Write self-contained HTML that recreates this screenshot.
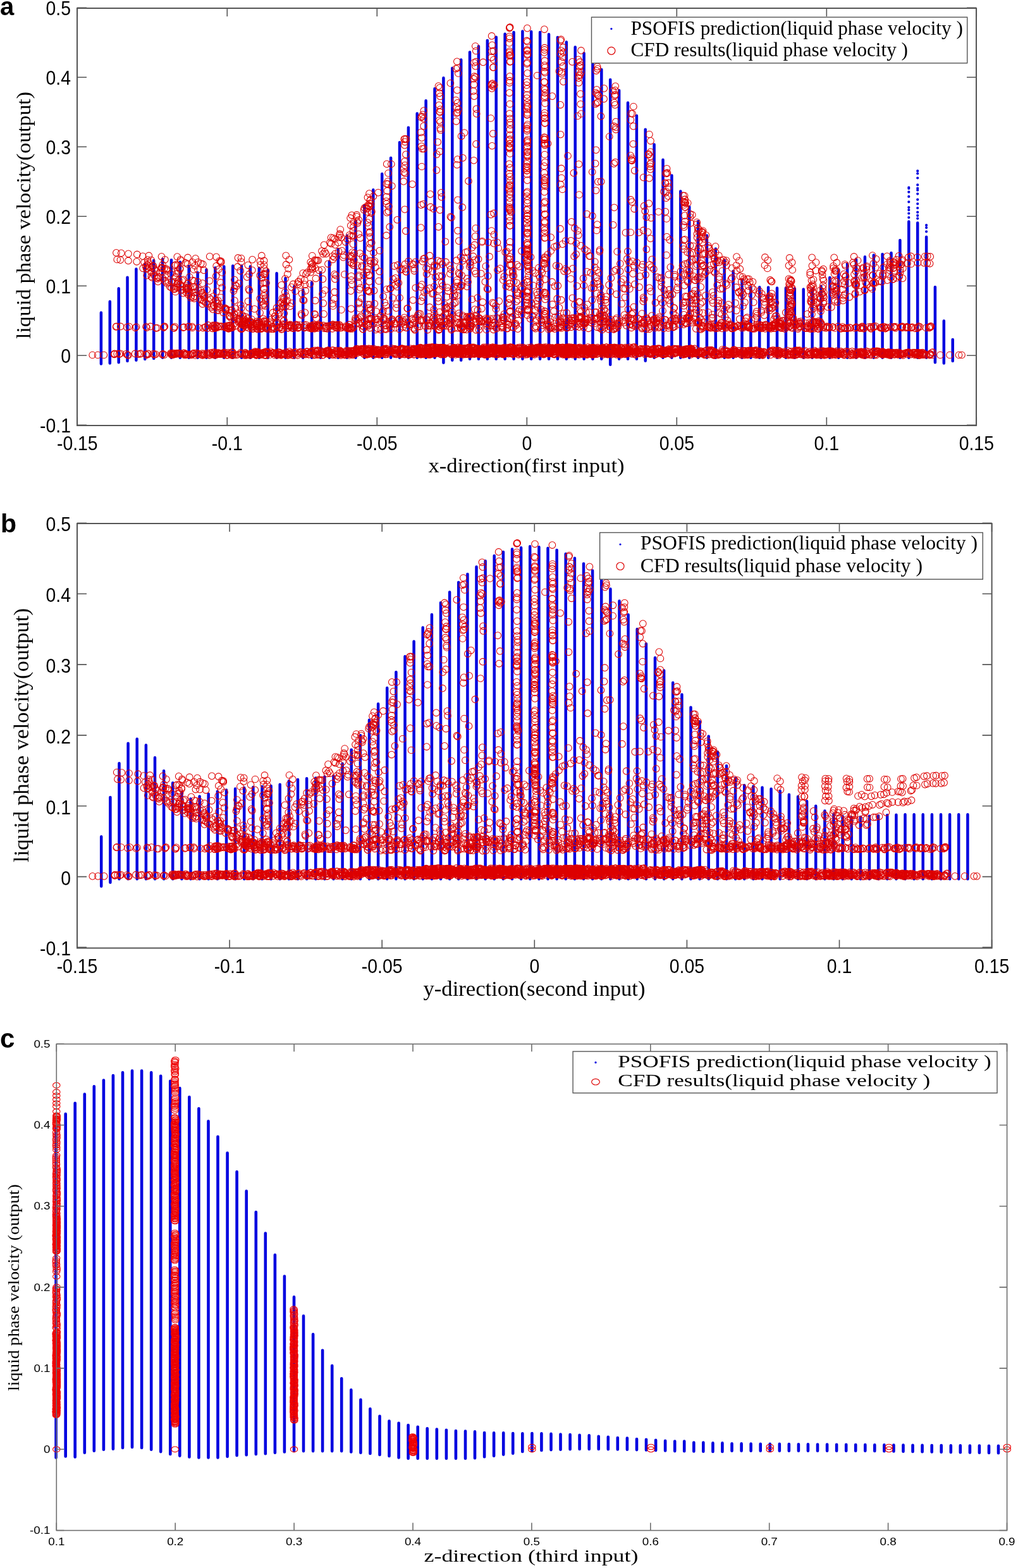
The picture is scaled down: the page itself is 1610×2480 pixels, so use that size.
<!DOCTYPE html>
<html><head><meta charset="utf-8"><title>PSOFIS vs CFD</title><style>html,body{margin:0;padding:0;background:#fff;}svg{display:block;}</style></head><body>
<svg xmlns="http://www.w3.org/2000/svg" width="1610" height="2480" viewBox="0 0 1610 2480">
<rect width="1610" height="2480" fill="#fff"/>
<path d="M159.9 494.4V575.5M173.8 477.1V574.4M187.7 456.2V573.2M201.5 438.8V570.9M215.4 425.6V569.8M229.3 417.2V567.9M243.2 411.9V567M257.1 410.1V565.8M271 411.2V565.8M284.8 414.4V565.8M298.7 421.1V565.8M312.6 431.2V565.8M326.5 426.6V565.8M340.4 423.6V565.8M354.3 421.6V565.8M368.2 420.6V565.8M382 420.6V565.8M395.9 421.6V565.8M409.8 423.9V565.8M423.7 427.1V565.8M437.6 432.2V565.8M451.5 440.1V565.8M465.4 452.8V565.8M479.2 458.2V565.8M493.1 446.6V565.8M507 430.9V565.8M520.9 413.6V565.8M534.8 394.4V565.8M548.7 372.8V565.8M562.5 349.4V565.8M576.4 324.9V565.8M590.3 300.2V565.8M604.2 275.1V565.8M618.1 249.8V565.8M632 225.2V565.8M645.9 201.8V565.8M659.7 179.6V565.8M673.6 159.2V565.8M687.5 140.2V565.8M701.4 123.2V573.8M715.3 107.7V569.8M729.2 94.5V569.8M743 82.5V567.8M756.9 73.2V567.8M770.8 64V567.8M784.7 58.8V567.8M798.6 53.8V567.8M812.5 51V567.8M826.4 49.5V567.8M840.2 49.9V567.8M854.1 51V567.8M868 54.2V567.8M881.9 59.1V567.8M895.8 66.5V567.8M909.7 74.5V567.8M923.6 84.2V567.8M937.4 94.2V567.8M951.3 110V567.8M965.2 126V576.8M979.1 142.9V567.8M993 162.6V567.8M1006.9 182.9V567.8M1020.7 204.7V570.8M1034.6 228.6V565.8M1048.5 252.8V565.8M1062.4 277.4V565.8M1076.3 302.4V565.8M1090.2 326.9V565.8M1104.1 349.9V565.8M1117.9 372.6V565.8M1131.8 393.6V565.8M1145.7 411.9V565.8M1159.6 428.9V565.8M1173.5 443.1V565.8M1187.4 454.6V565.8M1201.2 454.2V565.8M1215.1 454.6V565.8M1229 455.6V565.8M1242.9 455.6V565.8M1256.8 456.6V565.8M1270.7 457.6V565.8M1284.6 457.6V565.8M1298.4 452.8V565.8M1312.3 439.1V565.8M1326.2 426.6V565.8M1340.1 416.9V565.8M1354 410.6V565.8M1367.9 406.2V565.8M1381.8 403.4V565.8M1395.6 402.1V565.8M1409.5 400.1V565.8M1423.4 379.9V565.8M1437.3 350.4V565.8M1451.2 352.4V565.8M1465.1 374.8V565.8M1478.9 454.1V573.2M1492.8 507.4V574.4M1506.7 537V570.9" stroke="#0000e0" stroke-width="4.5" stroke-linecap="round" fill="none"/>
<path d="M160.2 1323.2V1401.7M174.4 1261V1395.8M188.5 1207.2V1390.2M202.6 1175.7V1390.2M216.7 1168.7V1390.2M230.9 1178.5V1390.2M245 1198.3V1390.2M259.1 1219.2V1390.2M273.2 1238.2V1390.2M287.4 1252.8V1390.2M301.5 1263.5V1390.2M315.6 1259.5V1390.2M329.7 1255.7V1390.2M343.9 1251.8V1390.2M358 1249.5V1390.2M372.1 1247.5V1390.2M386.2 1246V1390.2M400.4 1245V1390.2M414.5 1244V1390.2M428.6 1243V1390.2M442.7 1240.7V1390.2M456.9 1235.2V1390.2M471 1233V1390.2M485.1 1231.3V1390.2M499.2 1230.5V1390.2M513.4 1228.5V1390.2M527.5 1227.2V1390.2M541.6 1207.7V1390.2M555.7 1185.8V1390.2M569.9 1163V1390.2M584 1138.8V1390.2M598.1 1113.2V1390.2M612.2 1088V1390.2M626.4 1063V1390.2M640.5 1038.2V1390.2M654.6 1014.5V1390.2M668.7 992.5V1390.2M682.9 972V1390.2M697 953.2V1390.2M711.1 936.5V1390.2M725.2 921.1V1390.2M739.4 908V1390.2M753.5 896.4V1390.2M767.6 887.2V1390.2M781.7 878.9V1390.2M795.9 873V1390.2M810 868.5V1390.2M824.1 866.2V1390.2M838.2 864.2V1390.2M852.4 865.2V1390.2M866.5 866.9V1390.2M880.6 870.1V1390.2M894.7 876V1390.2M908.9 882.8V1390.2M923 891.4V1390.2M937.1 902.4V1390.2M951.2 914.2V1390.2M965.4 931.5V1390.2M979.5 950.4V1390.2M993.6 972.2V1390.2M1007.7 995V1390.2M1021.9 1018.2V1390.2M1036 1040.2V1390.2M1050.1 1060.5V1390.2M1064.2 1079.7V1390.2M1078.4 1098.5V1390.2M1092.5 1118.8V1390.2M1106.6 1141.2V1390.2M1120.7 1164.5V1390.2M1134.9 1189.2V1390.2M1149 1211.3V1390.2M1163.1 1230.8V1390.2M1177.2 1242V1390.2M1191.4 1243.7V1390.2M1205.5 1245.5V1390.2M1219.6 1247.8V1390.2M1233.7 1251.3V1390.2M1247.9 1256.7V1390.2M1262 1260V1390.2M1276.1 1267.2V1390.2M1290.2 1274.7V1390.2M1304.4 1282.5V1390.2M1318.5 1287.7V1390.2M1332.6 1291V1390.2M1346.7 1292.5V1390.2M1360.9 1292.2V1390.2M1375 1290.7V1390.2M1389.1 1290.2V1390.2M1403.2 1289.2V1390.2M1417.4 1288.8V1390.2M1431.5 1288.2V1390.2M1445.6 1288.2V1390.2M1459.7 1288.2V1390.2M1473.9 1288.2V1390.2M1488 1288.2V1390.2M1502.1 1288.2V1390.2M1516.2 1288.2V1390.2M1530.4 1288.2V1390.2" stroke="#0000e0" stroke-width="4.5" stroke-linecap="round" fill="none"/>
<path d="M88.6 1781.3V2305.5M103.7 1761.9V2303.5M118.7 1744.8V2304.5M133.8 1730.5V2297.7M148.8 1718.2V2294.7M163.9 1708.5V2292.7M178.9 1701.1V2291.7M194 1696.3V2289.9M209 1693.6V2289M224.1 1693.6V2289.9M239.2 1696.3V2292.7M254.2 1701.7V2296.1M269.3 1709.9V2300M284.3 1721.1V2302.6M299.4 1735.1V2304.5M314.4 1753.2V2305.5M329.5 1773.2V2305.5M344.5 1797.8V2305.5M359.6 1823.5V2303.8M374.6 1853.3V2302M389.7 1883.9V2301.2M404.8 1917V2300M419.8 1950.6V2299.2M434.9 1984.8V2297.7M449.9 2018.5V2296.4M465 2051.4V2295.1M480 2081.4V2295.1M495.1 2110.4V2295.1M510.1 2135.7V2295.1M525.2 2160.1V2295.1M540.2 2180.3V2295.1M555.3 2198.4V2296.4M570.4 2213.9V2297.7M585.4 2228.2V2299M600.5 2239.8V2301M615.5 2247.6V2302.9M630.6 2250.7V2305.5M645.6 2254.1V2306.7M660.7 2256.7V2306.7M675.7 2259.3V2306.7M690.8 2260.6V2306.7M705.9 2261.8V2306.7M720.9 2263.1V2306.7M736 2263.6V2306.7M751 2264.4V2306.2M766.1 2266V2304.2M781.1 2266.3V2302.8M796.2 2266.3V2300.6M811.2 2267.1V2298.7M826.3 2267.3V2295.9M841.4 2267.1V2295.1M856.4 2267.3V2293.9M871.5 2267.9V2293.1M886.5 2268.5V2292.7M901.6 2269.1V2292.2M916.6 2269.8V2292M931.7 2270.3V2292M946.7 2271.8V2292M961.8 2272.7V2292.2M976.8 2274V2292.5M991.9 2274.6V2292.7M1007 2276V2293.1M1022 2276.8V2293.5M1037.1 2277.7V2293.9M1052.1 2278.8V2294.5M1067.2 2279.6V2295.1M1082.2 2279.6V2295.3M1097.3 2281.6V2295.5M1112.3 2281.6V2295.7M1127.4 2282.4V2295.9M1142.4 2282.4V2295.9M1157.5 2283.3V2294.7M1172.6 2283.4V2294.7M1187.6 2283.6V2294.7M1202.7 2283.7V2294.7M1217.7 2283.8V2294.7M1232.8 2283.9V2294.7M1247.8 2284.1V2294.7M1262.9 2284.2V2294.7M1277.9 2284.3V2294.7M1293 2284.5V2294.7M1308.1 2284.6V2294.7M1323.1 2284.7V2294.7M1338.2 2284.8V2294.7M1353.2 2285V2294.7M1368.3 2285.1V2294.7M1383.3 2285.2V2294.9M1398.4 2285.4V2295.2M1413.4 2285.5V2295.4M1428.5 2285.6V2295.7M1443.5 2285.7V2295.9M1458.6 2285.9V2296.2M1473.7 2286V2296.4M1488.7 2286.1V2296.7M1503.8 2286.3V2296.9M1518.8 2286.4V2297.2M1533.9 2286.5V2297.4M1548.9 2286.6V2297.7M1564 2286.8V2297.9M1579 2286.9V2298.2" stroke="#0000e0" stroke-width="4.6" stroke-linecap="round" fill="none"/>
<path d="M1437.3 296.7h0M1437.3 298h0M1437.3 303.7h0M1437.3 310.9h0M1437.3 319.3h0M1437.3 328h0M1437.3 332.1h0M1437.3 337.5h0M1437.3 344h0M1451.2 270.4h0M1451.2 274.5h0M1451.2 281.5h0M1451.2 292.4h0M1451.2 297.8h0M1451.2 300.7h0M1451.2 306.6h0M1451.2 315.7h0M1451.2 322.3h0M1451.2 329h0M1451.2 335.7h0M1451.2 340.9h0M1451.2 345.6h0M1465.1 356.2h0M1465.1 360.1h0M1465.1 366.3h0" stroke="#0000e0" stroke-width="4.2" stroke-linecap="round" fill="none"/>
<defs><marker id="ca" markerUnits="userSpaceOnUse" markerWidth="12.6" markerHeight="12.6" refX="6.3" refY="6.3" overflow="visible"><ellipse cx="6.3" cy="6.3" rx="5.3" ry="5.3" fill="none" stroke="#dd0000" stroke-width="1.05"/></marker><marker id="cc" markerUnits="userSpaceOnUse" markerWidth="13.4" markerHeight="10.6" refX="6.7" refY="5.3" overflow="visible"><ellipse cx="6.7" cy="5.3" rx="5.7" ry="4.3" fill="none" stroke="#ee0000" stroke-width="1.1"/></marker></defs>
<path d="M146.2 561.5 154.6 561.5 164.3 561.5 1487 561.5 1502 561.5 1516.5 561.5 1521 561.5 185.2 559.5 190.4 559.2 188.6 560.1 180.9 560.5 180.6 560.3 181.1 559.3 201.5 561.5 199.7 559.7 202.8 561.8 218.3 560.2 222.7 559.1 221.4 559.9 213.6 559.4 231.8 561.4 230.6 560.7 234.8 560.1 233.9 559.2 242.4 559.6 246.1 560.3 243.9 560.8 257.7 559.9 259.8 561.1 256.5 560.7 301.5 561.5 313.8 559.2 328.8 558.5 295.1 561 279.1 560 272.4 560.7 315.9 560.3 322.5 559.3 311.7 560.4 304.8 559.8 320.4 561.8 298.4 560.7 273.6 560.8 308.8 562 319.3 559.1 293.1 560.7 271.4 559.8 280.1 558.5 273.5 561.1 277.8 559 293.5 561.5 274.8 559.8 303 561.5 319.2 561.5 286.7 559.7 291.5 561.5 327.5 558.6 280.6 558.9 284 559.9 305.3 559.1 270.2 559.7 292.2 560.3 327.2 560.8 300.9 560.5 310.6 558.2 324 561.1 322.5 561.2 293.5 559.6 276.2 560.5 273.7 558.3 282.5 558.6 290.4 558.2 270 558.6 276.1 559.5 271.5 561.5 306.8 558.6 285.1 559.4 291.8 558.5 389.4 562 362.6 559.4 336 557.5 354 558.3 388 557.8 331.6 561.8 367 557.7 368 557.1 367 561.9 390.4 560.5 348.3 558.8 341.7 560.9 367.3 560.9 353.1 558.1 386.8 561.9 389.7 561 387.3 560.7 345.9 559.6 354.9 557.1 332 558.4 348.1 560.5 397 559.2 395.6 561.9 396.9 558.8 345.4 558.1 343.8 558 373.7 561.5 388.8 559.4 375.7 561 335.9 560.3 393.7 560.9 382.5 559.4 342.5 560.9 353.3 561 398 559 358.1 561.7 380.7 557.9 338.9 557.8 393.3 561 340.2 561.1 398.6 560.3 354.5 559.7 339.2 557.1 398 560.2 366.9 561.7 360.4 561.4 387.8 558.1 347.6 558.5 346.8 559.9 348.2 559.1 339.2 561.6 354.8 559.3 370.8 561.5 359.4 561.6 365.1 559.7 366.6 557.1 360.8 557.9 330.3 561 342.1 559.4 380.8 559.8 352.8 559.6 368.9 560.9 337.4 559.8 419.9 557.7 461.8 559 444.9 560.6 473 558.7 449 559 441 560.2 436.2 559.2 438.2 561.6 455.9 561.3 475.4 557.6 444.8 561.7 467.2 556.8 409.7 558.7 405.8 557.4 405.8 560 462.7 561.4 412.4 560.3 452.8 556.9 470.6 561.8 417.6 561.7 431.9 558.9 479.2 561 412.9 558.6 441.2 558 415.7 557.9 457.8 556.1 444.3 558.6 401.4 558 449.9 559.1 405.1 561.9 463.1 561.8 408.4 557.6 403.2 560.7 421.6 556.8 433.8 561.5 465.5 557.6 411.9 561.5 445.6 560.2 407.2 556.3 455.1 558.6 405.8 561.6 450.8 560.8 406.7 561.1 405.3 561.2 436.3 558 444.2 561.6 421.4 556.8 442.2 557.4 408.8 557 404 557.2 425 557.8 460.8 557.7 440 557.1 427.8 556.1 420 556.1 458.6 559.3 415.2 558.8 474.8 556.6 465.5 558.6 439.6 561 431.4 559 455 561.9 427.4 561 456.5 559.8 432.4 558.1 404.4 556.8 405.7 560.4 420.4 557 406.8 561 469.6 560 422.6 557.5 423.4 558.8 412.6 558.7 421.1 561.8 477.8 559.3 419.6 561.8 424.8 558.1 400.1 558.3 438 559 416.1 559 400.4 557.6 407.2 558.4 403.3 556.1 424.3 557.4 446.8 559.2 460 559.9 457.3 561.3 431.2 558 558.8 555.2 537.9 559.1 483.5 560.7 551.4 559 538.7 560.5 491.1 558.2 520.3 560.7 544.4 560.6 526.7 561.1 534.6 559.5 498.4 554.2 490.6 556.9 488.4 560.7 524.7 559 530.1 559.4 519.1 554 543.8 560 520.2 558.3 532.7 554.5 538.9 556 486 556.1 538.3 555.6 539.2 561.8 519.5 557.1 518.3 559.5 541.4 558.9 531.4 554.6 491.8 556 539.5 556.4 525.4 554.1 484.9 556.2 533.8 559.5 534.1 556.3 521.3 557.7 517.3 554.9 551.5 555.6 558.3 561.5 481.4 557.7 545.6 561.7 516 556.1 496.8 561.6 496.9 558.7 491.3 558.2 556.2 555.1 545.6 558.1 550.9 559.6 498.5 561.2 518.9 554.2 480.3 557.9 516.1 556.4 491.3 556.8 505.3 560.7 480.1 560 547.1 555 554.1 559.7 552.1 556.3 509.8 557.1 559.9 558.7 508.9 557.4 502 554.4 488.1 560.7 502.8 561.5 499.9 556.1 520.9 555.5 509.9 561.6 550.7 560.5 530.5 561.3 555.3 558.4 537.6 554.4 538.6 557.6 540.2 559.2 502.9 554.4 554.1 555 517.8 556.7 503.8 559.9 558.1 556.1 532.5 556.4 524.6 557.2 493.4 555.3 496.6 561.2 519.8 555.8 552.5 562 516 555.1 495.4 554.7 507.4 554.7 499.1 556.1 525.6 561.1 540 557.3 513.1 558.2 510.1 556.7 485 556.2 557.4 555 520.3 559 549 555.7 501.7 556 512 557.6 556.3 560.8 549.8 554.2 482.6 559.7 551.7 557.8 527 554 511.3 561.4 546 560.8 557.8 556 570.9 552.5 612.2 557.8 654.1 558.2 624.7 558.6 605.7 556.5 564 558.8 583.3 560.2 624.6 554 572.8 553.5 623.6 558 571.2 551.7 612.4 556.8 598.8 553.2 620.1 551.1 590.2 555.6 655.9 557.4 648.4 555.8 583.5 553.5 656.1 558 590.7 551.2 609.8 557.7 602 553.6 626.7 560.3 582.7 551.3 593.8 555.2 628.3 553 639.7 558.4 610.5 553.1 657 554.1 642 553.3 582.1 558.6 589.5 560.5 609.6 552.9 582.3 555.2 626.5 560.5 574.6 554.9 581.3 560.7 574.2 551.5 566 554.9 649.8 559.8 633.3 561 653.2 554.3 578.6 560.4 634.6 551.3 626.4 554.8 597.4 554.3 576.9 551 588 554.5 655.6 552.2 656.4 553.1 595.7 559.2 642.2 555.3 564.9 555.7 597.3 560.2 579.3 554.6 649.7 551.3 601.1 559.1 636.7 551.4 563.5 551.6 652 553.6 634.7 560 593.9 553.7 655.8 557.2 586.2 558.2 591.6 553.8 560.4 558.6 651.6 557.3 654.3 551.2 583.4 555.8 655.7 560.5 598.7 553.5 603 555.9 652.8 552.8 640.3 558.4 642.3 558.7 620.7 554.3 592 554.6 638.2 551.8 579.7 558.5 584.7 551.6 563.4 556.5 592.6 560.8 648.3 560.9 586.5 551.8 569.6 556 631 555.5 583.4 555.2 622 557.7 634.8 559.5 626.4 552.2 644.1 553.9 616.7 554.7 633.8 553 584.7 553.5 575.3 559.8 617.8 554.3 599.6 560.9 610.7 553.3 640.8 557.5 659.1 552 607.5 559.2 644.1 560.1 564 553.9 571.9 552.9 657.3 556.8 653 554.7 646.6 555.5 586 558.8 654.6 552.1 619.6 557.2 581.8 554.7 574.1 553 585.5 557 625.2 553 561.1 554.3 627.8 552.9 591.2 553 639.5 556.5 566.3 552 599.5 556.5 623.9 551.9 576.4 558 601 553.8 590.8 560.5 591.2 556.7 595.7 555.2 646.4 561 596.4 553 632.8 553 560.6 560 602.4 559.2 600.6 559.8 606.1 552.6 561.5 556.5 624.1 560.1 568.9 557.2 597.1 556 574.6 553.8 612.1 560.3 570.9 555.9 640.5 560.7 579.7 552.3 654.3 560.8 608.3 551.5 652.6 554.9 650.4 557.2 642.5 552.6 638.6 553.2 600.4 559.5 642.9 552.8 581.8 555 611.8 554.8 572.3 553.5 632.5 560 564.1 556.6 635.7 551.4 643.8 552.2 620 556.5 622.7 554.1 602 556.8 602.6 557.6 604.7 555.4 562.3 557.2 609 553.4 636.4 558.8 605.8 552.8 607.3 552.1 572.8 555.3 569.2 555.4 611 551.4 623.6 551.8 633.3 558.8 611.1 551.5 610.4 554.8 655.1 552.4 645.7 561 633.2 559.1 579.4 560.8 609.2 560.6 651.6 552.7 638.8 560.3 566.6 554.5 635.6 552.6 649.7 553.7 641.6 552.4 610.2 560.2 580.8 553.6 610.6 554.2 563.7 552.8 576.1 560.4 772.8 559.7 688 558.4 679.1 555.4 765.6 553.3 804.9 555.7 756.3 559.6 677.4 560.9 764.5 553.7 792.4 552.2 824.4 555.9 719.8 558.2 733.4 551.1 783.4 549.6 796.1 552 766.1 560.8 757.3 557 711.9 549 665.6 550.8 762.3 554.2 745.1 559.7 681.9 551.7 768.4 549.3 660.4 553.3 677.7 553.3 697.2 556 757.8 551.5 763.6 554.7 682.4 560.2 700.4 550.8 675.9 556.7 804.6 558.4 726.7 552.2 661.9 556.7 753.3 553.2 767.2 554.3 815.6 557.8 701.3 559.8 667.3 555.4 727.4 551.9 669.7 558.3 662.1 555.6 816.2 550.7 693.1 556.3 744.2 556.7 795 551.1 711.4 552.6 668 559.7 790 557.6 661.1 559.1 783.7 554.6 783.1 554.4 697.5 550.3 698.6 549.5 715.7 558 775.4 559.1 778.1 552.2 751.9 554.2 790.9 555.3 704 556.7 820.2 551.6 806.1 549.2 703.2 551.8 783.5 560.3 783.9 552.9 806.1 552.9 699.7 559.9 764.7 557.3 770.4 560.7 737.9 559.1 775.8 559.3 732.6 557.7 754.7 552.7 695.2 556.5 672.9 559.9 684 549.3 677.7 560.1 717.2 550.7 664.8 549.5 775 556.6 775.7 557.8 670.9 556.1 720.3 558.8 796 559.7 670.9 559.4 811.8 560.3 677.8 551.5 678.6 549.4 800.7 558.7 765.3 558.9 764.8 552.4 676.6 550.2 785.7 551.5 713 554.1 663.5 552.1 706.9 557.6 721.1 552.8 820 555 801.3 556.4 665.1 554 732.5 558.3 717.6 557.5 749.3 551.6 803.1 550.1 796.1 551 660.2 551.4 786.5 560.7 660.7 554.9 741.6 558.6 690.6 554.9 717.6 559 703.3 560.3 707.1 551.6 776.1 555 678.2 556.6 673.4 558.5 775.7 558.4 764.2 553.3 726.6 553.7 807.8 550 807.5 549.3 694.2 552.2 809.6 555 723 559.6 698.8 554.5 748.2 558.1 785 556.8 717.8 552.9 685.8 559.1 769.9 557.9 688.1 554.3 788.4 556 680.9 554.5 806.9 551.9 691.8 552.6 776.7 559.1 685.7 550.9 701.1 552.9 746.7 550.9 714.5 551.3 821.9 557.7 676.9 560.5 676.9 553.6 823.3 558.5 781.7 554.2 692.6 556.7 677.7 551.5 724.5 549.4 726.2 558.5 775.1 555 765 554.6 683.5 556.2 727.2 557.9 810.7 554.2 755.3 558 729.9 551.7 779.9 559.6 788.5 557.4 801.5 557.2 766.5 554.4 712 556.5 676.2 554 789.9 557.6 764.5 552 730.3 554.5 763.2 553.9 772.1 560.2 690.4 556.9 789.2 553.7 741.3 560.7 666.3 555.5 686.7 558.4 816.1 555.2 676.8 555.9 749.8 557.6 745 556.7 797.6 555.3 728.1 560.4 694.9 557.2 725.2 558.2 680.3 560.8 719 549.7 705.5 553.8 662.2 554 729.8 557.4 718.5 552.2 697.3 557.9 816 555.3 696.3 558.6 725.1 551.5 681.5 558.3 794.4 556.6 737.9 555.7 697.5 560.6 718.6 556.7 795.9 558.8 737.7 552.5 751 550.5 798.4 553.3 801.2 552.2 722.4 552 730.7 551.2 660.4 557.7 706.7 551.9 710.1 554.8 731.1 556.6 769.4 553.3 814.2 559.3 669.5 558.9 810.4 558.4 683.3 559 765.1 549.2 661.9 560.4 768.9 552 676.9 550.7 698.8 558.3 717.5 550.8 810.1 558.5 687.9 559.7 761 558.4 771 559.7 790.8 559.1 692.8 557.3 748.1 557.9 732.8 559.6 752.1 552.2 698.9 550.7 741.9 549.7 737.5 550.7 741.6 555 749.6 559.4 661.1 559.1 737.7 555.8 770.4 559.1 722.2 554 819.5 549.9 765.7 556.6 664.7 556.3 773.3 560.2 714.9 560.8 744.8 554.8 809 549.4 779.2 556.5 716.2 559.3 720.8 554.7 747.2 558.2 695 554.2 730.1 555.6 797.2 552.5 797.4 553.8 743.6 552.3 744.1 560.7 768.7 558.5 714.9 552.8 709.7 556 765.4 558.4 666.6 557.7 807 555.5 668.3 552.6 661 551.3 813 556.3 769.2 558.5 811 556.3 762.4 556.5 775.6 556.2 773 551.6 770.7 554.5 786.6 550.2 690.1 549.4 788.6 560 768.8 553.4 796.6 558.4 753.3 552.1 710.1 554.1 712.9 554.2 766.5 560.2 669.1 555.8 666.5 550.4 794.5 555.9 812.5 554.4 662.3 553.6 758.3 560.3 822.8 554.7 728.5 550.2 767 551.5 685.2 549.2 660.8 557.2 680.2 560.6 674.6 559.4 681.4 549.2 779.4 551.9 781.8 551.2 668.3 558.3 778.4 559.3 781.1 550 764.4 557.5 736.5 560.2 702.2 560.6 779.1 549.1 662.4 556.8 795.7 550 711.6 557.8 687.6 559.3 740.7 549.7 721 555.9 732.8 557.1 684.1 558.6 720.3 556.7 764.5 554 724 558.4 816.9 558.4 754.1 552.5 670.1 560.7 776.7 558.9 715.1 556.3 822.3 559 759.8 552.7 731.1 559.7 722.5 557.2 759.9 559.8 794 552.4 660.3 552.2 730.1 556 795.5 559.6 667 559 794.8 559.4 754.9 552.3 801.3 558.7 773.7 560 717.6 550 751.9 558.6 693.3 558 814.7 551.8 760.7 557.1 737.2 551.5 702.3 558 791.4 554.5 674.6 558.7 788.2 551.8 756.2 559.8 806.9 555.3 739.1 556.1 691.4 551.3 690 557.4 720.2 555.8 726.8 555.2 684.7 549.5 825.5 553.5 677.6 556.6 790.7 550.9 759.1 553.1 746.2 549.2 665.6 560.9 803.8 554.8 754.2 552.1 789.3 554.1 817.1 558.2 795.9 560.6 702.2 549.5 693.4 551.2 673.9 549.6 752.5 559.4 736.1 560.4 811 549.8 759.3 553.8 679.9 560.5 702.7 555.8 766.3 560.5 771.2 553.7 734.4 550.9 820.3 560.9 696.8 549.5 702.5 553.2 809.9 559.9 799 549.6 790.5 557.5 767.3 560.8 669.3 550.7 785.3 560.3 772.4 552.6 758.2 558.1 677.5 552.9 702.7 550.5 739.9 551 699.6 550.7 772.5 549.2 779.1 551.3 666 560.1 696.6 560.2 803.9 559.7 683.2 554.4 676.1 560.1 799.8 556.5 735.1 553.1 796.6 554.7 764.3 550.7 696.8 549.7 778.5 555.6 684 559.4 704.2 553.9 685.8 552.3 799.4 553 687.9 554.9 712.8 559.8 679 560.7 669.4 559.7 770.9 551.5 739.3 552.4 702.8 551.4 720.5 560.9 825.7 560.1 676.2 552.5 808.8 549.7 780.6 552.5 822.5 549.2 794 553.1 683.3 549 798.2 555.3 690.8 554.2 811.4 551.6 754.8 550.7 689.9 558.2 778.1 551.4 673.2 550 761 554.9 705.5 551.5 761.7 557.5 794.7 556 693.6 549.8 781.6 553.9 779.8 549.7 794.6 553 799.8 559.4 741.8 549.2 811.1 554.7 804.8 552.2 690.9 559 720.9 551 721.6 556.1 660.8 555.2 734 555.2 680 557.6 795.5 559.4 713.3 557.5 723.3 558 670.2 559.5 818.4 554.9 745.2 555.4 749.2 549.2 820.6 551.7 690.3 550.2 701.6 558.8 665 550.2 776 551.3 662.9 556.2 755.7 555.3 776.6 550.2 804.3 557.6 667.5 550.5 741.9 555 706.4 550.5 727.3 550.6 758.2 559.3 684.4 555.9 783.9 551 797.1 560.3 724.5 554 799.4 555.3 725.7 560.3 789 553.1 699.9 553 732.3 560.8 793.5 560 795.3 559.2 668.9 555.2 819 560.2 701.4 554.1 765 553.4 748.1 549.8 731.9 555.1 663.5 550.7 821 558.3 815.5 556.6 794.3 559.6 806.9 549.4 766.5 552.2 772.6 552.3 750 560.1 763.1 552 746.4 554.2 817.8 552.5 710.7 556.8 680 556.1 818.7 555.2 704.6 554.6 748.6 550.8 680.6 550.6 708.7 553.9 707.9 551.9 827.4 555.6 839.4 556.3 835.1 556.8 829.2 557.5 833.4 555.6 835.8 554.6 831 551.9 829.5 555.1 832.1 556 826.2 553.2 839.8 551.9 834.9 554.9 830.6 560.9 830.7 558.3 828.5 549.8 839.9 554.3 827 553.7 833 557.8 827.7 551.7 841.3 557.9 828.5 553 831.6 557.1 835.9 559.2 839.1 555.2 837.8 557.9 838.2 554.7 838.6 557.5 840.6 550.5 839.9 549.1 838.3 556 834 560.6 835.2 554 838.5 559.5 835.7 553.6 833.2 554.5 837.6 552.5 832.3 555.7 832.2 552.9 838.6 559.2 834 554.3 828.9 552.6 828.3 555.9 835.3 550.1 840.7 552.9 839.5 559.1 841.3 551.5 832.8 559.9 826.2 549.6 933.5 555 991.1 558.3 929.2 561 925.8 555.2 953 553.7 899.9 556.1 898.9 560.4 951.6 555.3 858 553.5 906.9 555.7 935 559.6 998.2 554.8 913.3 556.5 1003.4 553.1 927.9 558.8 869.7 552.8 1000.5 558.9 925 550.3 986.9 557.3 974.9 560.9 985.9 554.1 867.3 552.5 924.9 555.1 872.5 551.2 944.1 556.2 899.2 560.9 945.1 549.5 908.6 558.5 891.7 557.3 842.6 552.7 978.4 556 950.2 551.4 922.7 555.6 885.1 556.8 928.1 561 935.1 553.9 861.7 550.9 965 550.3 858.2 551 926.6 558.9 941.3 558.7 852.1 549.1 966.8 552.9 957.9 553.2 869.4 552.2 858.1 559.8 936.3 553.2 914.9 553.6 850.9 559.7 936.4 560.5 913.2 556.4 882.4 549.5 992.8 559.3 893 559.8 974.2 552.6 939.6 560.5 922.3 560.4 881.4 553.7 958.4 551.7 892.1 559.5 920.5 558.5 881.4 551.1 900.1 551.2 999.4 552.5 933 550.4 928.5 553.6 907.3 549.8 862 558.9 898.9 551.9 873 552.4 880.4 549.4 949.6 553.1 867.3 557.5 857 552.2 977.3 550.5 913.8 559 972.4 550.9 899.2 557.7 903.1 560.5 875.7 560.4 923.8 551.7 915.3 550.6 956.4 552.1 987.7 556.1 901.6 552 940.5 551.6 983.3 550.5 925.1 555.5 885.8 558.3 904.3 556.9 934 552.7 905.2 550 870.7 559.2 894 557 859.7 555.7 900.6 555 890.1 549.8 892.4 551.7 862.4 557.6 887.7 553.8 989.2 558.3 985 559.3 863.4 552.3 846.8 557.2 949.5 553.2 908.8 556.9 955.3 552 979.2 553.2 943.9 551.2 860.7 560 960.9 557.6 848.6 549.5 868.2 551.4 891.1 553.6 848.4 552.7 945.4 551.2 978 555.8 958.1 552.1 912.5 557.2 898.5 549 977.2 558.3 888.4 549.5 980.4 556.3 849.7 551.9 860 558.5 876 560 963.4 550 954.5 553.7 963.1 558.9 887.5 550.1 995.3 554.1 992.7 557.3 961.7 559 943.8 554.4 850.8 557.4 911.4 555.1 992.4 550.5 965.4 549.5 955.8 558.7 884.3 555.6 999 556.7 930.1 552 851.6 553.3 908.7 551.4 892.3 550.6 956.5 557 880.5 551.9 925.5 554.3 993.6 553.2 890.5 559.6 865 555.8 896 558.8 930.8 558.1 869.4 557 939 554.5 966.1 559 860.5 552.5 900.4 551.5 851.8 552.4 873.9 557.4 914.6 550.4 894.6 554.6 900.8 551 853.6 549.1 1002.7 558 855.6 557.6 1000.8 555.8 859.6 554.9 912.3 551.3 930 549.1 991 556.7 943.7 560.2 947.7 552 881.9 550.7 846.5 558.3 978 552.6 872.1 556.7 979 560.1 869.3 558.4 976.5 557.9 894.9 551.2 975.7 552.8 901.7 555.6 901.8 559 880.8 549.5 933.8 556.5 974.8 557.5 988.6 560.3 922.1 555 867.5 552.6 936.1 550 953.5 551 913.8 560.6 856.5 549.5 913.2 551.3 959.1 549 978.2 559.3 969.5 554.1 887.9 556.9 925.4 554.1 896.9 554.3 949.9 558.9 988.4 551 889.9 554.3 933.3 553.2 873.7 550 894.4 554.5 999.3 559.9 982.2 560.7 997.8 556.4 973.4 549.7 951.6 556.3 890.1 555.9 996.4 554.8 946.9 552.6 897.6 559.6 846.5 551.3 951.9 554.4 855.8 556.9 902.3 556 909.5 555.4 933.5 553.8 860.5 551.2 986.2 555.6 860.2 559.3 883.1 550.1 928 552 921.3 555.6 878.7 555.9 860.3 555.2 937.3 550 908.1 549.9 913.2 559.4 931.2 557.6 964.6 550.4 1002.5 557.7 858.5 559 905.5 551.1 997.5 555.8 967.5 550.6 967.7 549.7 880.4 553.5 844.5 556.1 876.5 552.6 956.6 554.1 986 556.5 983.3 555.8 990.6 559.4 869.2 557.9 897.3 558.2 952.2 558.9 861.9 553.5 961.4 560.4 958.9 549.5 939.8 550.2 930.9 558.6 860.3 560.1 951.4 552.1 873.3 554.4 977.8 556 860.4 549.3 859.9 558.6 872 555.7 889 557.2 903.7 550.7 983.8 555.5 953.7 558.7 995.7 549.2 897.5 550.8 923.3 559.5 971.7 549.4 871.5 558.8 952.1 553.7 919.1 550.9 978.9 553.7 983.4 556.3 854.3 553 877 559.7 937.5 549.5 869.5 553.3 917.8 555.9 904.8 553.2 843 555.9 896.1 549.2 916.4 560.8 849.4 550.7 950.7 552.3 886.3 555 884.5 555.8 927.6 560.5 1002.7 549.4 932.8 558.3 983.3 558.3 944.6 556.6 900.8 552.4 970.8 559.5 994.1 557.2 891.2 558.2 961.8 555.1 944.9 553.2 931.2 553.9 851.8 553 894.4 560.9 920 553.4 881.4 551.8 898.6 550.6 843.2 559.5 915.4 554.3 934.1 552.6 869.4 549.8 890.8 552.7 959.7 555.6 993.9 553.1 991.2 556 855 551.1 936 560.8 899.8 558.3 911.4 559.4 853 554.8 987.7 552.3 883.7 549.3 868.7 552.2 956.1 551.6 906.7 551.4 939.7 559.4 947 551.4 960.9 560.6 939.4 550 973.1 559.5 897.3 550.6 872.5 555.4 983.8 556.7 991.5 551.5 894.9 558 947.1 553.9 952 553.1 851.3 554 849.4 556.5 896.2 554.9 938.9 552.1 917.1 549.2 991.9 555.8 1002 549.7 941.5 557.7 895.3 550.1 867.3 550.7 966.3 550.1 973.9 554.1 929.3 556.1 931.9 556.9 939.5 553 962.1 552.1 957.3 558.2 967.7 552.7 967.2 560.7 915.4 552.3 926.8 560.3 863.4 549.1 919.1 556.9 967.4 553.3 1002.3 551.7 964.6 550.1 846.5 550.6 851.7 555 932 551.2 994.2 553.4 866.2 551.1 961.5 560.1 868.3 549.3 968.1 551.9 1001.1 555 945.1 553.1 971.7 554.5 894.5 559.8 859.5 557.8 852.6 556.7 907.1 559.4 851.7 555.8 908.4 560 995.1 556.5 878.3 552 884.5 554.2 879.5 551.4 965 556.7 890.4 560.9 877.1 555.8 867.4 559.4 982.8 552.2 963.7 558.9 887.8 553 920.7 559.7 868.2 557.2 938.8 554.4 935.8 559.6 876 559.6 900.4 558.4 981.9 551.2 982 560.9 890.2 549.3 860.1 560.7 843.5 559.9 866.4 557.8 857.8 551 952.6 550.1 897 560 958 559.6 1000.7 549.4 880 558.5 953.7 549.5 923.8 551.8 911.7 550.3 845.2 560.9 893.3 559.5 861.5 554.8 864 554.1 871 557.2 866 557.9 923.1 550.3 899.3 555 990.8 553.2 876.9 560.6 985.1 557.8 886.2 551.1 884.9 549.8 849 555.1 908.1 555.7 900.7 549.1 953.5 556.8 930.1 555.6 953.8 560.8 983.6 557.6 906.7 552.8 909.9 560.7 904.7 553.6 908.4 550.7 1003.7 549.1 940.5 560.1 883.3 556.3 903.1 551.9 874.1 550.4 978.6 558.4 989.2 549.6 954.5 552.9 946.7 555.6 893.1 560.7 842.2 558 980.3 555.1 938 560.9 880 556.6 962.4 553.5 957.4 553.7 927.3 556.4 951.7 552.9 943.9 555.5 878.2 556.4 884.9 559.9 918.7 557.7 926.6 554.7 877.8 550.7 992.2 555.3 926.9 555.3 973.8 551.9 869.9 558.9 916.6 556.7 976 559.7 982.6 549.5 903.8 559 974.5 550.5 866.9 552 858.7 553.3 972.1 555.3 915.4 550.1 906.1 561 954.6 554.4 919.5 558.6 964.9 550.8 952.2 553.4 926.4 551.9 902.1 553.1 903.7 549.2 874.5 555.8 851.4 551.1 958.3 552.3 894.5 551.9 977.1 550.1 945.1 559.3 1023.4 555.2 1080.1 557.2 1039.7 551.4 1046.5 554.7 1072.4 554 1043.2 557.5 1081.8 554.5 1041 556.8 1092.8 552.9 1097.3 558.1 1039.7 557.7 1035.6 551.7 1076.6 554.8 1054.5 556 1090.5 558.6 1006.5 556.9 1048.4 555.6 1084.6 555.1 1049.5 559.9 1046.2 555.9 1053.1 559.2 1068.4 558.4 1042.6 551.4 1069.3 556.5 1077.8 558.7 1015.3 553.2 1011.4 559.2 1013.8 551.9 1076.3 556.6 1009.3 557.8 1072.3 555.8 1009.3 557.9 1044.1 556.8 1099.8 559.2 1087.7 552.5 1036.1 556.2 1004.6 560.9 1030.4 553.6 1034.1 553.6 1086.5 556.6 1053.1 555.2 1008.9 554 1087.2 559 1086.2 553.6 1023.4 551.5 1055.5 554.7 1048.6 555.9 1060 554.7 1080.9 553 1092.3 556.6 1008.9 554.1 1055.2 555.1 1058.2 554.2 1030.3 559 1032 558.1 1081 556.9 1047.6 560.3 1046.7 559.8 1009.5 555.3 1065.4 551.5 1086.8 551.7 1061.2 552.8 1092.6 556.6 1080.9 556 1068.7 557.7 1032.3 553.1 1084.5 552.5 1092.1 553.1 1013.7 552 1079.3 560.5 1043.8 557.6 1028.7 560.1 1069.8 552.5 1009.4 558 1008 559.4 1032.2 553.3 1059.9 554.2 1057.8 552.5 1091.5 554.2 1084.8 552.5 1080.7 560.8 1041.6 551.3 1040.5 557.4 1025.4 556.5 1013 555.6 1073.9 555.3 1069.2 552.1 1083.5 552.2 1092.6 561 1094.2 556.3 1031.9 554.5 1076 556 1093.3 551.9 1050.5 559.6 1061.4 556.4 1012.5 552.4 1030 559.9 1085.2 553.3 1092.8 551.3 1061.5 560.7 1037.1 560.4 1067 551.5 1036 555.5 1027.8 558.4 1021.2 558.9 1032.6 551.7 1057.7 552 1057 558.9 1061.2 555.6 1007.2 556.1 1013.3 557.5 1016.7 556.8 1037.9 554.7 1067.7 552.6 1020.3 560.4 1035.8 559.4 1087.8 555.8 1018.3 551.9 1088.4 552.2 1051.6 556.4 1015.3 555.7 1019.7 556.4 1052.7 554.7 1023 555 1023.5 552.3 1027 559.7 1052.2 559.9 1005.5 560.4 1050.9 558.9 1058.8 557.9 1026 558.5 1018.8 553.6 1007 554.9 1053.7 553.9 1089.5 551.8 1059.5 553.3 1061.1 558.8 1072.2 551.6 1027.6 557 1098.4 551.4 1063.4 557.9 1082.2 554.4 1081.8 555.6 1092.4 551.1 1094.3 555.1 1043.1 551.9 1027.5 558.3 1069.2 552.5 1037.1 552.4 1023 553.2 1035.8 560.8 1099.7 558.9 1050.1 556 1078.8 560.1 1076.1 557.4 1023.1 557.3 1085.2 558.9 1012.9 558.2 1037.5 552.6 1096.7 557.7 1075.6 552.3 1083.5 560.4 1090.9 558.4 1083.9 559 1060.7 555.4 1083.2 558.8 1087.6 554 1096.2 556.3 1094.8 552.2 1097 558.9 1028.2 559.4 1026.3 553 1048 553.4 1051.3 560.1 1069.8 558.1 1041.6 558.8 1080.2 557.8 1094.4 559.3 1043 551.9 1066.6 559.4 1036.6 556.9 1084.3 558.9 1100.4 557.4 1101.3 554 1165 556.8 1148.4 557.1 1126.8 554.9 1128.3 560.6 1149.5 555.6 1107 555.4 1156.1 557 1152.9 560.3 1109.7 559.1 1103.3 560.4 1114.7 555.4 1176.6 556.3 1117.9 561 1148.8 561 1131.5 557.5 1176.5 557.6 1179.1 554.7 1166.5 554.5 1142.2 553 1114 561.5 1136.4 560.3 1120.1 556.2 1108.1 558 1169 557.6 1130.1 561.4 1171.5 559 1106.1 558.6 1135.5 561.6 1128.9 559 1150.6 556.4 1141.8 559.1 1172.6 557.5 1129.1 561.8 1104.6 560.5 1154.7 558 1135.8 559.8 1171.3 559.6 1160 553.3 1126 554.2 1176.2 561 1111.6 558.3 1146.1 553.4 1131.4 559.7 1151.3 555.5 1161 555.6 1143.5 556.8 1178.3 558.8 1164.4 559.1 1130.4 561.7 1156.8 559.2 1122.2 554.5 1146 560.4 1163.5 556.1 1111.2 557.6 1170.2 554.5 1159.1 554.5 1125 553.5 1123.8 556.4 1177.4 561.7 1115 555.8 1175.5 554.8 1125.7 556.9 1108.7 555.3 1131.5 556.5 1177.1 555.4 1116.3 561.2 1136 560.5 1151 560 1125.2 554.4 1160.6 557.2 1144.7 559 1160.2 555.5 1129 561.3 1142.3 555.6 1150.4 555.3 1161.7 553.4 1166.1 558.1 1128.3 561.5 1121.2 555.2 1105.6 557.9 1160.3 559.1 1133 560.3 1108.9 555.8 1151.6 561.7 1150.7 559.2 1162 556.6 1175.2 559.7 1127.3 556.5 1164.5 556.1 1114.9 560.8 1142.5 557.7 1153.6 561.1 1110.7 556 1105.3 556.7 1140.2 560.7 1153.4 558.2 1132.3 558.2 1121.9 560.6 1163.1 560.5 1112.1 559 1160.3 557.5 1171.9 561.1 1159.4 560.4 1151.9 560.9 1110.5 559.3 1156.3 558.5 1122 553.6 1148.3 560.4 1121.8 554.9 1117.9 553.8 1254.4 561.8 1268.2 556.9 1256.9 554.6 1272.2 556.6 1180.4 559 1195.3 556.2 1186.5 557.6 1241 560.5 1184.4 560.6 1192.2 555.8 1249.2 556.7 1216.4 558.5 1204 560.3 1203 560.7 1269 558.3 1183.4 560.2 1183.1 558 1226.6 554.5 1249.3 559.8 1244.3 557.2 1236.3 558.7 1204.9 560.9 1289.5 560.4 1285.7 556.6 1288.5 554.6 1232.6 555.1 1229.9 559.5 1257.9 557.6 1217.6 555.5 1224.3 556.3 1201.4 559.9 1236.8 557.5 1201.7 559.6 1201.6 556.1 1241.6 559.6 1287 560 1284.3 561.4 1259.5 559.8 1186.9 555.6 1181.4 560.9 1259.4 559 1209 556.8 1198 559.1 1289.1 556.4 1184.9 555.4 1219.1 561.2 1268.5 557.6 1191.2 554.9 1196.9 560.2 1231.8 561.9 1280.3 560.4 1232.4 560.6 1194.1 554.9 1242 558.1 1203 556 1182.3 561.3 1258.1 561.6 1287.9 557.5 1260.6 557.1 1269.3 560.7 1194.7 554.1 1203.5 558.7 1221.7 554.1 1271.3 560.3 1231 554.3 1277.8 558.3 1187.8 556.6 1248.7 561.1 1233.3 559.1 1202.6 555.9 1279.6 557.1 1191.4 558.7 1193.9 555.6 1230.2 558.7 1250 559.7 1228.4 554.5 1259.7 554.4 1231.8 557.2 1254 559.7 1206.4 559.2 1256.1 557.8 1195.6 561.3 1245.9 554.5 1206.2 561.9 1205.2 557.1 1266.7 560.6 1249.7 559.9 1184.2 554.8 1287.4 560.4 1184.2 554.4 1206.4 561.4 1204.2 559.4 1282.3 559.1 1281.1 556.1 1196.9 554.1 1263.3 554.8 1287 559.7 1200.6 560.5 1197.9 558.1 1191.6 560.3 1277.9 561.3 1180.2 560.8 1241.1 560.6 1235.3 559 1245.4 560.4 1188.5 554.4 1240 556.3 1223.7 554.1 1261.9 554.2 1271.3 560.5 1230.4 555 1251.5 555.7 1227.2 554.9 1287.4 558.4 1218.8 554.8 1260.3 560.8 1273.3 554.8 1220.4 556.4 1263.9 555.2 1246.7 561.8 1264.6 554.1 1188.2 554.9 1256.2 558.8 1237.2 557.6 1224.8 558.9 1251.3 561.3 1260.6 560.4 1280.4 560.7 1258.8 554.2 1254.9 560.8 1227.4 561 1199.8 561.5 1228.6 559.7 1207.8 556.4 1218.3 556.6 1190.4 557.5 1287.9 559.2 1282.5 560.1 1272.1 562 1262.8 556.2 1207.5 557.3 1182.3 555.8 1277.5 561.4 1326.2 560.4 1375.2 561.2 1377.4 558.7 1301.5 560.8 1324.5 559.4 1330.4 558.8 1396.2 556.1 1348.4 559.5 1349.2 561.6 1334.8 561.4 1365.9 561.8 1299.9 556.5 1321.6 561.3 1291.5 556.8 1368.7 561.9 1309.4 558.1 1365.6 559.8 1372.1 560.3 1317.3 556.8 1293 559.8 1313 556.8 1396.1 559.5 1355 559.6 1355.8 559.9 1323.4 555.4 1297.4 555.1 1329.8 556 1302.4 558.5 1396.6 559.8 1320.1 560.4 1309.6 555.7 1323.3 557.9 1365.8 558.1 1370.1 555.7 1392.6 557.4 1381.6 555.2 1381.2 556.6 1384.1 560.6 1363.8 556.9 1291.1 556.3 1389.5 556.1 1362.5 559.1 1362.7 556.3 1305.8 555.7 1398.1 557.7 1361.7 559 1314.6 555.5 1291.6 561 1304.3 561.7 1330 560.1 1305.2 560.5 1317.7 557.6 1347.5 555.8 1317.3 560.6 1321.4 557.7 1374.1 556.6 1311.3 556.5 1332.3 557.6 1360.6 558.3 1385.7 555.4 1363 560.9 1315.8 555.2 1338.2 555.8 1340.6 560 1300.3 555.8 1342.7 556.2 1315.4 558.1 1303 555.5 1329.7 558.3 1393 558.9 1297.9 556.6 1371.9 558.9 1385.7 561.7 1384.4 555.8 1393.8 558.7 1316.4 556.2 1385.1 556.5 1299.1 556.9 1391.7 558.2 1370.4 555.5 1339.8 557.2 1312.6 559.6 1329.7 555.8 1398.3 558.4 1309.8 555.1 1361.8 558.6 1292.7 558.3 1371.5 558.8 1315.7 558.5 1356.5 559.6 1306 560.6 1394 560.2 1384.3 557.6 1389.3 556.3 1315 559.2 1389.2 555.6 1313.9 555.3 1338.3 556 1311.1 560.2 1354.2 561.6 1334.2 559.8 1291.4 561.6 1315.6 558.3 1346.3 561.6 1344.1 561.9 1358.3 556.5 1381.7 556.4 1400 558.2 1314.9 561.7 1325.4 557.8 1327.7 559.7 1292.5 557.6 1307.8 560.8 1290 559.3 1318.4 558.2 1351.8 560 1305.1 556.7 1303.3 561.7 1306.4 556 1347.4 559.1 1387.5 555.4 1315.8 556.2 1354.4 558.2 1335 561.2 1362.8 561 1395.3 556.9 1393.6 557.9 1295.7 561.4 1301.5 555.1 1321.9 557 1396.4 561.1 1336.2 558.7 1383.4 560.6 1361.9 558.6 1302.8 556.7 1362.4 559.1 1378.1 561.3 1395.9 556.3 1298.4 561.3 1352.7 556.3 1366.1 556.8 1316 557.6 1347.6 559.7 1298.1 560.2 1358.7 558.3 1363.9 560.6 1291.1 558.3 1364.6 560 1361.2 556.3 1395.4 560.5 1315.6 558 1395.4 556.5 1335 561.7 1389 556.6 1455.9 558.8 1450.4 560.8 1409.7 558.1 1416.3 558.3 1402.7 557.7 1430.9 559.1 1405.9 559.9 1471.6 559.9 1427 560.5 1433.2 557.9 1436.6 557.1 1451.4 557.8 1428.1 561.8 1458.3 561.2 1448.8 560.2 1453.6 561.8 1414.9 560.8 1422.9 558.3 1462.4 560 1464.6 561.4 1444.7 558 1401.1 559.7 1455.1 558.4 1405.3 557 1413.2 560.5 1400.3 558.1 1420.2 560.6 1475 557.1 1408.7 561.7 1473.7 557.7 1425.5 559.6 1424.3 559.1 1436.4 558.3 1404.2 557.4 1412.3 557.5 1447.4 560.5 1420 561 1455.4 558.7 1437.4 557.9 1470.6 559.8 1403.9 557.8 1452.6 558.9 1454.5 558.1 1460.6 561 1407.2 559.9 1414.5 560.5 1461.1 561 1417.6 557.5 1450.4 559.8 1410.5 558 1444.3 557.5 1448.2 558.2 1419.6 559.1 1440.5 560.6 1402.3 560.6 1416.8 558.5 1448.6 560.5 1446.7 561.5 1415.6 558.6 1450.4 558.3 1412 558.1 1458.6 561.1 1454.4 561.8 1460.4 558.5 1424 560.6 1404.2 560 1406.8 557.2 1439 557.8 1470.8 561.4 1435.1 558 1409.1 559.5 1439.6 558.8 1454.4 559.6 1458.9 557.5 1405.3 558.9 1436.7 558.3 1450.8 558.1 1424.2 559.4 1454.1 560.9 1428.2 559.2 1470.5 561.7 1447 557.5 1434.6 560.2 1421.2 557.2 1474.6 561.5 1409.8 559.3 1447.1 558.5 1405.2 560.8 1458.6 559.2 1406.5 559 1407.1 561.8 183.5 516.9 190.7 516.4 184.1 516.2 200.8 517.6 204.2 516.5 214 518.3 215.6 517 231 516.7 237.8 516.4 232.1 518.2 248.5 518.7 246.4 518.9 259.6 516.9 258.8 518.1 260.4 516.4 275.4 518.9 274.7 518.4 276.4 516.7 290.8 517.4 298.9 516.4 297.4 517 289.9 518.2 303.7 516.6 304.1 518.5 324.4 517.7 314.1 518.3 321.3 518.7 325.4 517 363.3 518.9 337.7 516.2 342.5 516.1 342.6 514.7 336 519.5 344.1 517.8 365 518.5 336.8 519.5 361.4 519.9 358 518.5 361.8 515.5 354.9 516.3 362.9 514.8 349.7 516 362.1 516.1 363.1 519.1 364.7 514.8 367.3 518.5 355.8 517.9 328.1 519.2 350.1 516.7 340.9 518.7 360.4 519.2 335.4 516 337 514.6 340.4 514.2 361 515.4 329.1 514.4 358.6 515.2 346.3 516.4 361.3 519.7 339.6 517.8 365.4 516.8 365.6 518.4 339.7 519.2 418.7 508.5 419.9 518.6 414.1 513.8 405.4 519.3 426.6 509.9 400.8 512.1 451.5 516.7 380.6 519.8 373 515.3 406.8 517 406.5 508.3 414.5 518.5 437.1 512 388.9 517.4 438.1 510.1 445.1 520.9 406.8 512.3 430.3 520 387.1 511.2 398 517.3 385.9 514.7 412.5 516.4 382.2 520.4 455 514.9 437.6 509.6 447.4 514.7 434.6 519.2 400.7 519.9 387.6 507.3 412.7 519.6 446.5 520.4 413.4 520.1 417.6 509 423.6 518.2 406 515.4 392 510.9 405.7 514.2 409.8 508.3 370.5 511.8 430.9 517.5 390.1 510.6 413.9 509.5 421.2 519.7 387.2 515.2 431.3 517.5 430.5 516.9 393.2 518.7 448.6 507.7 450.3 513.2 377.3 508 437.7 516.5 382.1 513.4 424.3 521 398.6 517.7 390.8 509.8 383.7 512.7 422.5 511.2 383.8 510.1 377.2 509.7 396.8 514.1 385.6 513.7 407.4 520.6 411.3 520.2 410.1 509.8 420.3 509 384.4 508 429.6 520.5 404.3 512 406.1 511.9 428.7 512.5 382.9 519.1 418.7 507.1 442.2 517.2 400.1 515.8 448.2 512.6 406.8 511.2 417.1 516.3 432.5 520.3 382.4 512.1 442.4 518.1 420.2 516.5 398.9 520.2 416.7 512.6 385.5 508.6 446.3 518.2 457.8 515.3 505.4 516.5 493.2 519.3 491.7 516.7 552.6 517.5 505.1 515.3 495.6 517.3 537.5 514.8 493.9 515.7 493.1 519.4 511.6 514.9 489.9 518.8 471.8 517.8 457.3 514.4 461.2 518.6 470.4 514.6 461 514.8 532 518 550.6 519.6 512.8 519.5 464.4 519.5 500.6 514.4 533.5 519 495.5 513.7 546.7 518.3 517.7 519.8 459 513.4 468 513.2 529.4 517.4 466.8 514.1 474 517.3 525.6 519.8 492.9 519.9 500.6 515.7 481.6 514.6 557.3 520 529.1 514.2 473.9 514.1 491.9 518.2 461.2 516.7 526.5 513.2 501.2 518.5 515.4 516.2 547.5 517.2 490.4 515.8 554.1 519 551.1 516.9 470 514.2 495.2 517.8 455.5 518.6 537.5 516.6 455.6 518.6 498.5 517.7 514.8 518.1 497.9 519.7 555.3 519.5 519.6 515.2 494.5 514.9 549.9 518.5 537.8 518.7 559 517.8 488.4 518.3 482.5 517.3 471.6 519 506.3 514.9 551.9 513.6 552.7 518.3 470.7 518.3 515.2 519.4 516.6 516 553 513.6 536.6 513.7 484 513.8 546.5 516.1 531.3 514.8 531.7 517.5 465.2 516.5 530.8 514.5 523.7 514.9 493.9 519.4 554 520 499.8 517 539.9 518.3 502.9 519 497.1 519.7 504.6 513.8 533.7 514 526.4 513.4 558.8 516.8 532.7 513.9 521.9 515.6 481.2 518.7 458.5 516.3 464.1 519 685.1 502.7 625 511.4 660.6 516.6 608.1 520.7 585.9 504.7 674.1 504.4 586 512 607.1 505.3 690.2 511.5 670 507 687.8 506.4 686.9 514.3 695.9 517.4 648.3 512.7 679.7 510.9 573.8 520.3 672.8 515.6 664.3 506.6 624.9 518.5 694.7 520.5 582.5 515.7 637.6 510.1 583.5 504.7 625.8 511.9 597.5 509.4 637.6 517.2 642.5 505.2 684.1 509.4 694.4 521.6 579.6 513.6 695.4 509.7 636.6 508.3 564 506.1 577.4 507.7 648.1 513.3 692.8 515.7 610.7 521 648.8 512.9 680.8 515.4 610.4 514.1 602 521.4 594.2 521.5 569 502.2 637.4 506.1 631 504.4 677.2 515.4 655.8 520.5 698.9 515.6 659.8 502 566.9 510.5 695.7 508.3 639.6 502.2 618.2 520.1 642.5 518.5 561.8 506.1 585.1 518.6 574.2 520.6 597.4 519.6 632.2 508.5 695.3 510.1 657.6 503.3 676.3 521.6 575.5 516.9 597.9 505 611 515.2 693.5 521.9 699.1 514.5 651.5 505.2 661.6 513 610.3 520 595.7 504.8 582.1 505 642.4 518 582.4 512.1 640.4 513.2 617.8 512.9 562.1 503.2 619.2 506.7 666 506.8 675.4 506.8 573 511.5 614.3 508.7 667.1 506.4 653.8 518.7 623.4 512.1 689.3 514.1 585.3 503.4 571.5 508.6 572.4 515 619.3 508.2 631.7 520.7 594.2 505.1 602.7 508.5 687.4 516.1 620 505.3 566.4 504.4 678.6 515 581.9 514.5 568.2 512.1 606.9 504 663.9 516.3 631.5 505.4 653.7 510.7 652.6 503.8 686.4 502.1 591.2 510 587.8 503.8 656.2 521.9 606.9 507.3 653.9 506.5 616.1 515.8 620.3 505.1 708.5 511.9 818.9 520.2 712 511.1 758.6 504.3 780.4 510.9 797.1 506.4 812.1 517.9 756.8 503.1 758 502.8 782.3 515.3 769.4 521.5 705.4 515.7 796.1 502.5 738.6 501.2 770 515.9 741.8 515.3 744 515.7 733.2 521.5 752.6 500.1 711 516 803.8 514 718.6 519.2 786 502.5 745.7 514.8 700.4 500.9 742.4 519.2 819.6 507 809.1 517.3 803.8 512.9 816.3 514.2 813.7 512.4 723.6 511.4 758 507.4 744.8 511.2 770.6 504.9 733.3 511.1 760.5 509.2 779.7 504.1 763.8 506.1 792.4 515.5 793.7 511.4 729.9 520.4 761.3 508.3 734.8 508.8 785 518 757.9 516.1 725.6 509.9 743 506.7 743.1 516.6 788 504.6 728.1 517.3 778.6 514.9 776.2 515.3 732.7 501.3 743.3 500.7 815.4 511.5 780.4 521.3 796.5 505 740.4 502.4 795.5 516.2 758.5 508.1 732.4 510.7 785.4 519.7 801.9 519.1 752.7 509.3 737.7 521.4 722 503.5 733.7 520.3 802.3 507.3 802.2 519.6 751.3 504.2 792.7 508.2 714.3 519.9 752.7 508.7 771.4 505.6 702.4 508.6 745.5 500.2 744.6 516.7 740 515 774.9 504.1 702.4 514.8 773.3 506.5 724 518.8 809.1 505.1 770.3 512.6 738.6 500.8 739 514.2 772.2 511.2 714.7 504.7 737.4 509.2 743.6 519.9 713.9 521.7 728.8 518.8 729.2 512.9 745.3 500.8 795.6 517.8 732.3 517.1 757.5 521.7 706.5 508.4 727.3 513.7 793.4 518.5 765.8 508.5 796 502.3 731.2 516.6 752.9 521.8 710.9 510.2 725.5 500 711.2 502 887.4 509.5 903.4 506.4 925.7 511.4 957.9 503.7 903.7 510.9 887.8 518.9 869.1 519.3 886.1 507.4 915.7 512.4 877.7 501.9 954.9 508.1 858.2 514.4 906.2 507.2 882.8 518.6 883.9 509.2 955 507.9 891.2 503.6 921.2 514.6 896.3 508.9 871.8 517.4 897.6 518.3 888.1 516.1 848.3 504.8 955.5 515 922.7 510.9 899.3 504.3 864.9 514.2 924.8 505.7 919.1 503 915.5 503.8 903.6 506.9 908.3 502.9 900.6 513.6 860.5 506.8 923 512 915.9 517.2 910.7 504.9 895.9 518.3 910.2 516.6 886.9 509.9 956.5 518.1 920.1 502.3 915.4 500.7 952.4 521.4 928.7 505.9 942.3 503.9 940.2 511.5 846.8 519.6 895.6 518.3 924.2 511.7 944.2 504.5 948.3 507.5 848 507.4 852.6 501.6 916.8 502.7 863.4 506.4 877.1 520.2 949.1 519.1 958.8 509.7 936.5 506.2 951.5 517.8 929.2 505 855.5 520.4 908.5 513.5 944.1 503.2 925.4 510.2 935.4 510 867.6 521 877.3 516.4 940.6 505.5 924.9 508.7 870.8 504.8 954.7 508.1 903.6 511 848.1 516.6 930.7 519.3 886 504.6 885 516.1 920.7 508.9 905.3 503.4 950.6 510.4 903.3 517.3 867.8 515.9 885.6 517.9 855.9 506.1 918.1 510.6 888.3 512.7 870 509.6 845.2 517.6 874.2 518.3 908.5 513.2 917 502.8 934.4 506.4 944.2 517.3 923 517.9 895.2 514.8 954.6 504.2 856.6 509.1 903.6 503.3 870.4 519.1 889.6 503.3 866 512.7 866.8 510.5 1040.7 510.8 1035.6 518.7 962.5 520.6 989.9 502.8 1075.1 513.4 1040.7 506.4 1077.2 508.1 1069 506.6 1045.9 515 1015.7 511.6 969.8 514.9 1063.7 505.1 1042.6 516.7 975.2 518.8 1090.6 503 997.3 503.7 997.9 503.7 1033.4 507 1005 511.2 1015.7 517.8 1068.4 504.3 993.5 502.2 1009.4 504.2 1064.6 517.6 1109.4 506.2 965.5 517.1 1021.8 520.6 1018.9 508.2 970.9 521 1036.8 510.8 1025.6 517.4 1084.6 511.5 986.7 510.1 1093.7 510.2 1059.1 513.2 1029.2 513.5 996.8 513.1 1089.7 503.6 1015.3 519.6 1106.7 502.3 1054.1 514.6 1086.5 511.4 979.6 508 1066.9 516.6 990.7 514.9 1058.5 515.2 963.3 510.8 1008.7 513.9 1010.5 504.6 1060.6 507.7 1078.6 508.1 1041.9 518.2 977.3 516.6 970.2 520.7 963.8 516.5 1015.3 505.6 1019.2 512 1022.2 504.4 1038.4 508 1105.1 509.7 1025.3 506.6 1105.3 508.4 1056.9 518.7 1019 517.1 1001.8 504.2 966.3 511 1091.1 506.1 1026.1 517.3 1001.4 505.1 1037.9 510.5 1100.8 519.9 995.7 513.2 1022.4 502.7 1026.7 520.3 1005.4 513.7 1066.6 503.3 1098.6 504.2 1005.2 516.3 962.9 509.5 979 511.5 962.4 505 993.4 503.6 973.6 505.9 1037.6 504.7 1083.2 510.3 997.8 506.8 1085.9 502.9 1071.3 504 1101.7 510.2 1049.6 519.3 975.1 503.3 1064 513.8 1068.2 507.6 1034.5 505.7 1025.6 507.6 1047.9 508 1001.2 514.8 972.8 518 1034.4 506.6 977.2 512.2 1035.6 516.4 1016.1 510.2 1093.9 507.5 1107.2 519.9 1108.5 520.9 998.6 518.3 1051.8 506.1 1109.6 515 1081.5 513.2 971.9 519.3 986.3 507.2 1052.4 505.9 1029.4 516.3 974.4 515.2 975.7 511.5 1057.4 515.7 966.5 505.8 1104 509.8 1023.7 509.5 1064.4 516.8 1184.8 515.8 1175.5 516.6 1131.6 519.6 1221 518.4 1224.1 516.3 1206.5 514.7 1195.4 518 1217.9 518.8 1211.1 514.9 1200.6 516.3 1145.9 515.6 1201.9 518.9 1207.1 517.7 1129.6 514.1 1175.3 514.5 1148.7 513.7 1127.8 518 1135.7 518.9 1147.8 518.9 1144.8 514.9 1155.4 513.1 1160.1 515.7 1111.5 519 1153.1 513 1220.4 514.6 1139.1 513.2 1121.4 518 1176.9 516.5 1138.3 515 1221.6 515.6 1223.8 519.2 1124.3 518.9 1112.4 518 1203.1 517.9 1173.2 518.7 1127.8 516.8 1140.6 515.8 1132 518 1175.9 518.5 1182.2 517.2 1216 518.7 1175.2 515.3 1216.7 515.6 1121.7 515.3 1191.2 519.5 1184.3 517.6 1217.8 518.4 1161.2 516.2 1197.4 515.2 1122.6 517.3 1203 514.7 1188.6 519.2 1124.7 514 1166.7 515.3 1219.2 520 1161.2 518.6 1182.6 514.2 1221.8 514.2 1118.7 516.2 1112.1 516.4 1157.4 519.7 1157.6 518.9 1199.7 517.1 1137.3 515.1 1166.5 515.8 1184.2 516.5 1147.1 517.2 1224.6 514.4 1148.6 513.1 1120.8 513.4 1158.6 518.9 1190.2 519.8 1206.2 517.1 1176.7 513.1 1154.1 514.8 1181.4 513.5 1172.4 515.6 1166.6 515.8 1121.8 518.1 1202 517.2 1123.3 517.2 1210.2 519.9 1197.2 513.3 1211 517.7 1141.8 519.4 1205 519.3 1138.5 517 1153.6 515.1 1197.5 517.3 1148.2 516.8 1216.8 517 1215.1 517 1224.1 513.2 1162.9 516.9 1193.6 519.8 1181.7 516.3 1182.9 516.7 1191.1 519.6 1111.6 515.2 1210.8 513.4 1200.9 513.2 1184.5 518.6 1137.4 515.7 1242 516.9 1264.7 515.5 1249.4 515.2 1296.6 517.9 1296.4 510.5 1263.7 512.4 1251 518.2 1238.1 514.8 1283.1 520.1 1226.4 510.8 1262 520.1 1237.2 518.8 1254.8 514.7 1294.6 507.9 1249.7 509.2 1235 511.3 1277.6 515.1 1234.1 518.2 1263 509 1286.5 518.5 1241.3 520.2 1285.8 510.2 1225.1 519.1 1287 508.4 1282.5 517.8 1272.5 518.7 1298.9 511.6 1287.5 519.9 1248.5 516.6 1276.3 518.9 1267.5 510.9 1243.9 514.6 1235.2 519 1291.7 510.4 1277.3 516.4 1234.1 517.9 1282.5 511.3 1232.4 510.9 1282.9 513.5 1286.1 509.2 1233 511.9 1291 509.3 1230.5 517.5 1231.8 516.3 1231.3 510.5 1274.8 519.2 1255.7 513.3 1227.3 511.8 1243.2 518 1278.6 518 1264.9 516.8 1234.5 512.4 1247 511 1280.4 510 1249.4 511 1289.8 515.9 1261 512.3 1294.1 520.2 1258.7 514.9 1289.7 510.6 1244.4 508.4 1262.6 517.8 1236.7 513.1 1299.3 513.7 1253.7 518.8 1291.9 512.3 1234.3 515.9 1280.5 519.9 1274.5 511.3 1263.6 511 1258.5 513.6 1293.4 519.7 1294.5 513.7 1297.3 508.9 1294.1 516 1451.8 517.7 1472.4 516.1 1447.5 519.3 1365.1 519.3 1337.2 519 1381.5 517.6 1334.2 519.2 1427.2 516.4 1470.2 516.9 1365.3 517.7 1400.3 519.6 1464.5 518.5 1363.6 516.4 1312 518.1 1401.5 517.8 1470.9 517.7 1361.1 517.7 1329.9 519.8 1402.8 518.2 1374.1 517 1354.9 518 1377.7 519.9 1398 516.8 1309.3 516.6 1360.2 519.1 1454.7 516.9 1435.8 517.8 1393.5 518.1 1307.4 516.3 1416.2 518.8 1366.2 519.7 1442.7 517.2 1311.6 518.2 1413.9 516.9 1307.6 517.9 1305.9 518.9 1408.8 517.1 1377.5 516.9 1332.4 516.7 1441.9 517.8 1424.5 517.4 1440.4 518.4 1413.8 517.6 1397.8 516.8 1469.4 518.7 1392.7 518.6 1317.4 517.3 1340.1 519.4 1302.2 517.8 1451.1 519.1 1425.1 517.2 1340.4 518.8 1352 518.9 1360.9 519 1399.7 519.3 1471.5 517.5 1471.7 516 1452.6 516.1 1394.9 517.6 1434 517.3 1336.2 519.1 1395.8 519 1385.1 516.1 1434.2 516.9 1382.1 516 1345.1 518.7 1433 518.5 1377.1 518.9 1416.4 516.8 1393.1 518.4 1426.8 516.8 1354.1 517.4 1316.7 517.4 1426.9 518.3 1330.1 518.9 1320.3 519 1325.7 516.4 1343.8 518.1 183.9 399.8 185.2 410.5 191.7 400.3 190.4 411.2 203 401.3 202.9 412.4 216.8 402.4 216.2 413.8 1436.9 406.9 1435 416.4 1440.6 405.4 1440.9 417.5 1451 406.7 1451.6 415.7 1462.8 405.5 1461.4 415.9 1466.7 405.2 1466.4 416.2 1471.2 405.9 1470.6 416.8 235.4 404.4 239.1 411.3 235.5 417.1 239.4 423.2 255.5 405.8 260.9 410.7 257.1 418.8 259.8 424.9 280.3 406.1 286 412.2 280.8 419.3 284.7 425.8 309.2 408.8 313.2 414.7 308.4 420.3 313 426.6 342.1 406.3 347.1 412.7 342.2 420.7 345.8 425.9 376.5 407.9 381.4 414.2 375.8 421.9 380.2 428.4 413.8 404.4 417.6 412.4 412.2 418.7 418 425 452.2 404.2 457.4 410.7 452.6 418.4 456.1 424.9 493.8 404.5 497.6 411.4 493.8 417.6 498.4 424.1 1165 406.1 1169 412.5 1164.6 419.7 1170.3 425.4 1209.9 406.9 1214.4 411.7 1209.4 419.5 1213.7 424.5 1248.7 407.9 1252.6 415.1 1247.5 420.1 1253.2 427 1284.1 407.3 1290.5 415 1284.4 420.3 1290.3 427.8 1319.2 407.3 1323.3 415.4 1318 420.8 1322.6 428.5 1350.6 405.9 1356.6 412 1350.5 418.4 1355.9 424.5 1379.9 404 1385.7 409.8 1381.4 416.8 1384.6 423 1402.9 405.3 1407.6 412.3 1403 418 1408.5 423.9 1421.6 404.7 1426.7 410.7 1422.4 417.1 1427.9 424.5 414.1 477 394.1 433.9 277.5 461.5 392.2 419.3 402.4 488.7 255 423.9 380.7 482.3 393.3 457.2 419.8 471.7 351.3 454.8 349.6 415.1 320.3 448.1 304.6 443.6 319.3 465.5 418.8 432.2 297 407.4 398.8 427.3 371.8 487.8 306.5 426.5 411.1 494.5 317.8 416.8 381.5 408.5 374 452.6 417 468.2 348.7 446.9 417.1 480.6 277.4 438.3 296.6 448.9 349.6 413.1 349.2 470.6 234.3 414.5 262.6 434.4 417.8 457.2 351.4 431 256.7 429.6 417.5 419 256.2 424.3 331.4 444.2 421.1 447.4 370.9 442.6 372.1 451.2 276.2 420.3 369.5 460.2 377.8 448.2 284.6 424.1 341.7 436.6 282.2 431.5 394 486.9 411.1 472.3 232.8 418.9 343.4 490.6 322.4 427.4 390.7 438.2 420.7 428.9 417 433.4 370.9 475.3 285.4 410.5 264.2 448.5 277.6 418.9 370.4 456.7 411.4 413.1 276.9 457 345 480.2 331.7 405.6 232.2 435.7 348.1 486.2 320.8 417.9 293.3 415.6 304.4 414.8 342.5 461.2 399.1 410.6 394.4 459.4 348.8 413.8 318 459.7 381.5 487.7 411.2 435.6 392.4 476.6 296.7 417.7 296.2 456.9 414 439.5 298.8 463.7 321.6 467.6 380.2 499 240.6 439 236.5 422.8 322.4 470.2 320.3 480.8 243.3 433 338.8 483.7 383.5 498.7 269.9 433.1 319.9 462.9 320.1 474.7 295.5 452.3 393 511.2 281.1 448 362.9 500.7 344.1 485.2 365 502.6 231.6 424.7 313.3 458.6 286.7 459.1 294.4 458.3 233.4 411 323.8 468.8 301.6 470.9 370.9 497 281 445.1 396.6 513.1 365.9 490.6 284.5 450.5 397.6 517.3 264 428.3 271.9 446 280.1 449.4 328.3 480.7 346.4 484 305.6 453.7 307.9 457.1 376.5 505.4 366.7 490.5 275.5 456.8 244 425.4 288 443.7 370.5 505 282.8 443.1 392.7 513.8 239 430.7 397.9 505 294.4 455.8 389.2 501.4 387.4 508.2 289.8 463.7 391.2 503.8 364.7 495 387 505.2 325.3 478.8 336.5 489.1 241.3 421.2 249.9 445.4 363.7 499.4 395.4 509.9 274.8 457.1 353.2 494.3 297.9 466.1 264 426 319.7 463.2 384.4 500.5 298.5 457 226.1 424.3 248.9 439.4 376.8 494.8 230.4 421.3 287.1 452.5 268.8 453.6 261 443.9 244.6 427.3 394.6 508.2 306.8 462.6 346 490.9 257 439.8 307.5 454 355.9 487.4 250.5 437.7 308.2 468.4 331.1 471.1 307.1 472.1 397.5 509.1 266.6 446.3 271.3 455 297.2 455.3 341.1 475.5 289.6 442.2 279.9 454.3 337.8 482.4 225.7 405.2 298.5 461.1 333.8 486.1 301.1 455.7 333.6 473.6 357.6 488.4 284.8 449.9 233 424.7 363.2 499.9 294.5 454.8 305.5 470.3 385.5 507.9 249.3 440.9 343.2 479.5 275.9 445.5 228.2 415.1 242.6 420.6 256.3 422.8 263.1 425.6 280.8 428 279.7 432.4 299.6 438 307.2 444.4 312.9 445.7 327.2 458.5 337.1 469 341.6 475.3 344.8 475.3 357.2 489.4 363 490.8 374 503.1 379.2 506.7 395.8 509.2 239.2 437.5 244.4 436.3 250.6 438.2 262.1 446 275.2 453.7 288.9 457.9 294.6 462.6 302.3 468.1 317.1 473.8 322.6 476.3 335.1 484 346.2 487.5 356.9 490.6 370.9 497.1 369.4 500.3 378.8 504.1 570 455 529.8 441.4 420.2 475.9 585.6 316 572 472 476.6 496.6 510.4 441.4 529.1 433.8 568.3 458 567.5 437.8 477.4 498.7 584.2 461.6 544.8 434 582.3 459.6 497.7 497.5 543.8 403.6 584.5 392.2 584.6 434.8 567.2 370.2 584.5 412.2 417.2 456.5 582.3 324.3 556.8 449.7 444.1 486.9 557.3 399.1 572.2 420.5 542.7 406.9 570.6 500.3 416 483.1 445.2 450.8 480.6 475.1 539.8 490 500.3 503.2 510.1 465 449.1 506.8 482.3 494.3 567.3 347.8 585.3 374.5 479.1 474.4 454.8 433.7 581.7 481.5 554.8 460.1 581.7 425.8 526.1 480.1 416.6 504.3 449.7 482 555.4 488.3 529.1 461.9 554.1 414.8 582.4 422 511.2 479.6 528.8 472.3 554.1 404.9 454.4 475.7 581.4 352.1 555.5 443 418.4 434.4 586.5 416.4 497.9 496.7 528.9 406.9 581.5 460.1 418.6 447.2 526.2 405.1 498.6 475.4 584.9 481.7 552.9 371.7 567 448 526.6 484 531.4 435.7 512 496.6 416 447.9 586.4 413.2 540.7 396.6 482.4 450.1 450.8 462.1 530 401.3 584.9 490.7 443.7 479.6 555.6 436.7 514 459 419.1 483.9 451 440.8 586.8 489.4 583.2 460.1 449.3 495.6 567.4 479.8 583.3 435.7 569 488 418.9 463.5 569.8 376.4 578.9 327.2 435.2 500.1 451.7 485.1 558.9 358.8 540 375.7 554.8 356.7 452.6 468 564.1 339.9 581.4 312.3 474.9 451 481.7 443.1 511 401.6 501.4 412.1 508.9 397.1 448.4 484 491.5 430.6 449.3 470.7 526.8 376.5 494 422.6 491.3 424.9 472.6 445 446.5 477.8 537.7 371.9 485.9 430.9 493.2 422.4 471 449.4 537.1 369.9 515.4 401.4 491.2 414.7 446.6 471.6 530 387.2 460.9 454.1 449.2 480 467.1 460.5 494.2 425.6 493.1 417.5 575.6 331.9 440.8 497.1 483.9 433.4 463.6 449.4 535 383.7 581.2 335.2 556.3 340.3 583.4 326.4 523.8 385.3 448.6 473.6 446.7 484.4 564 342.6 471.3 446.1 529 378.2 437.7 491.9 554.1 344.9 475.7 441 523.6 375.8 538.3 363 503.3 411.9 513.7 398.4 434.2 500.6 479.2 432 576.4 328.8 521.8 383.8 431.7 494.4 512.5 387.3 452.2 476.6 584.5 321.9 429.9 505 559.5 351 499.4 411.7 437.5 486.9 535.3 375.7 436.1 503 442.4 494.5 458.5 484.4 461.5 479.5 477.4 464.3 483.2 459.9 490.3 448.8 499.4 440.4 504.2 427.3 509.3 426.7 518.9 417.3 526.5 410.3 535.5 397.5 546.6 382.8 549.5 378.4 555.5 373.2 565.5 352.8 565 350.5 581.1 329.8 586.6 322.7 590.4 310.6 598.1 304.6 1135 483.8 1120.7 402.4 1082.2 504 1132.4 415.7 1091.6 343.5 1107.8 480.5 1129.4 408.4 1111.7 365 1122.4 426.7 1100.5 410.2 1208.1 471.8 1091.4 388.4 1131.5 399.1 1130.5 431.2 1176.6 441.4 1110.6 477.7 1109.3 366.4 1234.6 508.9 1146.7 501.8 1086.8 502.5 1102.6 375.8 1095.4 399.9 1143 456.6 1169.7 504.6 1110.9 368 1105.5 363.7 1128.9 417.4 1081.6 497.8 1093.2 473.6 1209.5 482.4 1164.7 491.2 1226.2 510.8 1127.5 479.1 1184.3 441.3 1081.3 394.1 1126.4 474.7 1086 469.3 1225.2 484 1126.8 497.5 1080.9 356.1 1099.2 474.7 1125.4 503 1185.7 446.4 1139.2 456.9 1123.8 400.7 1082.6 309.5 1216.4 468.5 1137.4 414.9 1150.5 506.9 1127.3 502.5 1137.4 438.2 1113.1 509.9 1188.9 466.6 1091.4 401.4 1128.9 428.9 1100.5 480.1 1145.6 491.7 1237.2 507.4 1092.1 352.9 1126.2 400.3 1102.4 370 1098.8 469.5 1226.4 478.8 1088.5 502.4 1120.3 494 1097.2 437 1106.6 441.2 1091.1 487.9 1130.5 409.5 1174.8 484.5 1172.7 445.9 1101.8 354.9 1147.6 448.4 1194.5 503.3 1148.3 486 1106.3 471 1164.4 454.4 1242.7 494.3 1116.5 372.1 1112.3 400.9 1104 438.4 1084.3 477.7 1217.2 486.2 1131.6 389.8 1087.1 416.9 1094.8 339.9 1111.7 495.1 1105.6 380.8 1087.7 321 1108.2 453.8 1087.1 398.9 1126.8 462.1 1081.7 477.7 1174.5 438 1173.9 463 1216 487.7 1163.1 479.3 1102.8 409.3 1100.6 420.9 1153.7 488.7 1200.7 460.2 1183.7 459.6 1104.4 511.2 1168.6 462.8 1196.6 492.8 1096.2 464.3 1082.4 432.5 1156.2 441.6 1172.8 468.6 1101.3 489.2 1120 388.8 1208.7 498.6 1181.6 502.1 1157.7 439.4 1080 388.8 1084.1 328 1134.5 411.5 1100.1 443.4 1180.3 503.6 1148.9 419.6 1096.4 389.2 1172.1 459.8 1149.4 450.9 1116.3 430.8 1082.9 340.8 1111.9 374.6 1253 501.2 1191.8 478.2 1095.2 410.9 1190.4 445.7 1112.6 420.4 1229.2 503.7 1124.4 419.6 1136.7 475.6 1087.8 435 1178.7 508.3 1254.2 502.6 1115.9 467.3 1168.4 461.6 1103.8 397.3 1091.4 338.3 1104.6 392.2 1090.9 428.7 1195.9 496.2 1082.5 451.6 1144 410.9 1141.1 510.7 1141.9 479.3 1099.1 459.7 1115 401.2 1128.5 467.7 1141.2 497 1083.4 350.4 1136.4 479.8 1098.6 442.9 1241.4 506.5 1102.2 351.5 1103.7 360.6 1092 496.3 1255 507.3 1114.8 433.2 1137.3 441.7 1188.4 506.6 1098.8 495.4 1091.6 495.7 1102.7 418.5 1216.2 473.2 1221.7 487.5 1134.2 450.8 1204.7 464.6 1140 510.9 1218.4 478.9 1105.5 493.3 1148.7 412.1 1090.9 433.7 1152.2 481.8 1083.1 327.4 1083.3 417.5 1086.6 504 1178 478.2 1196.7 499.5 1204.1 494 1101.2 474.3 1138.2 495.2 1224.1 504.9 1175.3 465.9 1090.6 414.3 1183.4 452.2 1142.3 428.5 1204.1 491.5 1103.9 365 1109.1 374.6 1114 377.8 1121.1 392.4 1120.9 393 1128.4 403.6 1136.8 404.2 1140.1 411.9 1147.1 414.8 1157.6 424 1165.2 427.9 1170.4 437 1178.1 444.6 1181.7 441.3 1189.1 454.8 1192.3 458 1200.2 465 1205.2 470.3 1208.7 477.7 1220.4 487.1 1217.1 490.8 1226.1 500.4 1227.9 499.6 1237.4 507.5 1286.8 481.3 1221.3 469.8 1413 423.7 1216.1 470.6 1222 481.8 1351 445.9 1301.3 440.5 1301.8 451.4 1332 448 1317 444.8 1427.6 440.1 1220.7 445.3 1321.8 465.1 1319.9 456.6 1383 446.8 1381.1 447.4 1297.2 469.3 1319.2 460.4 1322.9 454.8 1249.3 485.6 1336.4 465.2 1283.2 476.4 1422 437.5 1394.5 445.6 1283.5 443.5 1407.9 415.9 1286.2 484.9 1282.3 458.9 1250.9 493.5 1298.1 472.7 1219.5 445 1249 463.1 1249.2 482.5 1417.8 410.9 1354.4 449.9 1352.4 450.4 1397.1 422.9 1281.2 434.6 1423.7 426.9 1283.1 472.7 1365.3 424.7 1320 474.3 1302.8 476.6 1283.4 452.4 1251.7 444.8 1248.7 456.8 1320.9 428.4 1366.4 431.7 1286.4 442.2 1299.8 429.7 1424.4 418.9 1248.8 492.8 1380.5 435.8 1367.2 458.4 1220.6 464.3 1334.7 467.5 1250.3 459.5 1302.1 425.6 1249.7 462.9 1248 449.3 1321.4 426 1412.4 441.7 1425.9 418.2 1252.4 480.6 1422.3 436.5 1416.7 417.4 1337 437.8 1220.6 477.4 1337.1 420.4 1299.6 427.9 1322.6 459.4 1247.7 473.8 1351.3 444 1302.9 462.5 1412.7 414.5 1353.5 429.2 1370.5 426.2 1283.2 479 1247.8 454.7 1247.6 501.7 1352.7 463.8 1252 456.7 1351 433.9 1414.9 415.2 1317 452.2 1281.3 454.3 1247.5 441.1 1285.5 461.1 1370.4 422.8 1300.6 464.4 1218.2 442.9 1252.5 455.2 1250.7 444.2 1426.1 412.5 1322 461.8 1217.9 468.6 1251.2 484.9 1251.8 477.6 1248.9 498.5 1301.8 467.5 1318 424.2 1353.8 448.8 1405.6 423.3 1286.2 475.9 1250.1 442.2 1407.3 419.7 1285.3 449.8 1302.3 479.9 1249.4 489.8 1349.1 415.3 1249.5 449.5 1367.1 437.9 1319.6 433.2 1282.4 465.9 1299.2 464.8 1247.4 495.7 1415.3 419.3 1335.8 450.1 1412.4 441.3 1250.6 496.1 1380.9 448.2 1251.1 443.6 1218 472.7 1366.1 439.1 1251.3 480.9 1396.3 435.1 1317.2 453.5 1249.8 483.3 1248.6 466.9 1282.7 455.6 1250.8 475.4 1333.5 471.2 1286.3 453.6 1379.4 457 1283.6 490 1297.2 472.6 1320.3 443.9 1302.5 443.7 1322.2 445.8 1282.1 476.6 1337.5 436.4 1286.6 464 1354 423.7 1297.3 459.1 1300.6 434.6 1286.4 469.5 1413.9 414.6 1318.3 466.2 1281.2 430.9 1396.5 437 1353.9 451.7 1335 444.5 1321 428.3 1297.8 485.1 1320.2 477 1250.1 468.9 1370.8 421 1369.2 447.1 1370.7 450.1 1301.3 455.8 1249 497.8 1412.7 424.2 1334.6 433.6 1251.4 481 1365.3 423.2 1336.3 418 1249.9 458.3 1298.5 487 1423.7 430.8 1396.3 432.9 1256.2 509.9 1266.3 508.3 1276.8 496.7 1283.9 497.2 1298 492.3 1297.6 488.2 1309.1 485.6 1314.8 485.8 1324.8 477.8 1333.2 475.4 1343.5 469.8 1352.3 465.7 1359.7 461.4 1367.5 459.4 1376.7 454.2 1384.4 447.5 1389.9 444.9 1403.2 443.2 1409.1 438.7 1417.8 439.5 1286.6 487.9 1291.1 478.9 1303.2 470.1 1317 462.8 1323.4 459.3 1332.5 457.9 1342.3 447.6 1354.3 443.3 1363.2 439.5 1370.3 437.8 1379.9 435.1 1390.8 432.8 1406.9 427.4 1414.7 428.1 559.1 416.4 557.1 404.5 556 406.2 558.5 373.7 558.6 365.2 560.2 400.8 559.9 411.3 556.4 416.9 558.4 386.1 558.8 419.3 558.7 372.1 587.7 383.9 585.1 385.4 587.9 334.7 583.9 326 585.3 317.3 584.1 368.4 583 358 584.9 366.5 584.2 346.4 584 306.1 587.2 336.6 612 336.1 612.4 301.9 611.2 290.6 614.9 326.6 614.6 334.4 611.7 259.4 611.2 311.4 613.2 287 614.1 274 613.5 291.1 611.2 322.3 611.1 372.4 641.9 244.4 640.4 224.3 638.8 267 640 255.4 639.9 229.6 638.9 272.7 640.3 219.7 642.5 219.8 639.2 220.1 640.9 274.1 638.3 286.9 641.8 365.4 640.1 331.2 666.2 185.7 670.1 187.7 670.2 235.4 670.3 175.1 667.8 235.4 667.3 184.2 665.8 209.3 668.5 181.3 667 217.9 666.6 231.3 670.1 199.4 666 324.1 667 263.5 669.5 322.7 694.7 147.3 696.9 205.6 695.1 176.7 694.4 166.3 696.2 152.4 696.3 173 693.5 136.1 695.4 138.7 696 177.4 696.4 202.8 696.3 192.9 693.5 358.8 698.4 311.7 697.8 304.8 695.4 239.6 695.7 332.1 724.9 173.4 723.5 177.9 722.8 97.3 723 142.7 724.8 116 721 158.5 721.9 169.8 723.7 107.5 723.5 162.9 722 178.8 721.2 108.6 724 316.2 724 364.9 721.6 191.8 723.6 252 722.8 260.7 752.9 97.7 752 122.2 749.9 152.2 749.8 99 749.5 133.9 752 104.6 749.1 124.7 750.2 120.8 751.8 73 748.7 144.1 752.8 80.5 749.3 253.7 753 227.9 753.7 179.9 753.4 172.4 751.6 373.8 752.3 361 777.9 139.9 780.6 80.7 780 136.6 777.2 90.8 780 106.7 780.7 94.5 778.3 71.3 777.5 132.9 777.4 134.8 780.1 106.4 777.6 56.9 776.3 339.4 781.4 371.1 777.3 365 778.2 230.7 781.1 337.4 779.7 211.4 776.2 187 805.8 130.8 806.3 187.6 805.7 448.1 806 43.4 805.4 297.4 805.4 300 805.4 259.3 806.4 292 805.7 430.2 807 418.8 806.9 491.9 806 293.6 806.1 406.1 805.7 146.8 806.1 294 807 197.5 805.4 221.6 806.8 86.3 806.2 319.6 806.7 193.5 806.4 483 807 303.6 805.9 343 806.6 356.9 806.5 220.1 806.5 204.8 805.8 88.2 806.3 120.8 805.9 179.7 806 234.8 807 285.7 806.3 227.4 806.3 418.9 806.2 279.2 806 127.7 805.7 83.3 805.9 60.8 806.1 307.3 805.6 391.9 806.1 330.8 806.1 409.8 806.5 97.9 806.3 164.5 806.6 213.6 805.8 57.6 807 97.1 805.8 473 805.5 232.1 806.1 357 806.7 493.2 805.9 81.1 805.7 44.3 805.8 329.2 806.8 88 805.8 453.8 806.3 227 805.5 68 805.7 327.3 805.5 274.7 806.7 43.1 805.9 233.4 806.4 382.6 806.5 243 805.9 332 806.1 472.2 806.2 313.1 806.5 265.3 806.2 349.2 806.4 504.3 833.5 269.6 834.6 418.6 833.9 181.1 833.3 233.1 833.7 240.7 833.4 263.2 833.9 86.9 834.1 370 833.3 155.2 833.1 259 834.1 231.1 833.9 321.1 833.1 64.4 833.8 469.9 834.1 246.9 833.4 100.8 834 395.4 833.6 79.1 833.4 368.7 834.2 225.8 834.4 220.9 833 134.7 834.4 367.9 833.1 172.7 833.6 263.5 833 468.6 833.8 162.3 833.1 305.3 834.5 374 834.4 446.1 834.1 66 833.5 310.3 833.7 140.5 833.1 442.4 834.1 178.5 833.8 445.6 833.2 332.3 833.4 460.7 834.3 480.8 833.6 275.7 833.5 203 834.5 490.9 834.6 462.3 833.8 346.9 834.5 240 834.5 410.6 833.5 206.8 834.1 115.8 833.4 129.6 833.2 462.3 834.6 421.4 833.8 386.8 834.1 244.9 833.8 98.9 833.4 199.5 833.6 346.3 833.4 150.1 834.4 403.5 834.5 402.1 833.3 266.6 834.3 414.8 833.4 264 833.9 44.6 833.4 384.7 834.1 247.6 833.9 285.1 833.6 79.1 834.2 399.1 833.7 397.7 834.3 361.4 834.3 489.4 833.1 478 833.7 401.5 834.2 85.3 833.9 80.9 834.2 197.1 833.6 166.5 834.3 337.7 833.5 384.5 833.3 412.8 834 396 834 498.3 834.1 255.4 833.9 303.3 833.5 182 834.3 420.2 834.5 358.9 833.8 223.3 834.1 341.6 834.5 387.5 833.6 169.1 833.1 402.7 833.7 223 833.1 270 834.4 168.5 834.2 392.8 834.1 316.9 833.4 353.4 833.9 489.6 833.8 204.5 834.4 330.2 833.5 341.9 860.8 129.7 862 256.7 861.9 141.8 861.4 152.1 861.9 318.7 861.2 220.3 860.9 139.8 861.7 186.8 860.8 220.9 861.3 499.5 861.2 229 862.2 376 861.3 226.6 861 113 861.4 338.7 860.8 262.8 860.9 320.8 861.2 350.4 861.9 229.6 861.2 78.9 860.9 330 861.9 106.6 862.2 465.3 861.2 291.8 861.7 194.7 861.2 376.3 861.4 244.5 861.5 96.2 861.4 178.6 860.9 285 861.7 285.7 861.4 352.3 861.3 496.5 860.9 46.3 861.5 364.1 861.2 227 861.1 154.9 861.9 441.8 861 303.6 861.3 103.3 861.8 288.4 862.2 463.3 862 163.5 860.8 417.1 860.8 360.3 860.9 368.6 860.7 82.9 862 280.9 861.3 492.1 861.9 146.8 861.7 220.7 861.3 187.2 861 182.5 861 129.8 862 217.7 861.5 417.7 861.7 114.9 862.1 473.4 861.9 194.9 861.9 339.3 860.6 217.1 861.7 294.2 862.1 408.1 861.9 495.9 861.1 462.4 860.6 411.9 860.7 273.5 861.3 75.7 861.6 406.7 887.6 80 890.4 104.7 886.6 85.4 891.2 82.7 887.9 97.9 890.9 129.1 888.4 116.6 886.6 64.3 888.4 113.8 887.2 62.4 890.8 74.9 886.3 165.8 886.5 212.7 889.5 299.5 887.7 266.4 888 281.5 886.7 291.9 886 361.9 915.1 123.3 915 113.8 915.4 130.9 918 148.6 919 114.7 916.8 105.7 915.5 119.3 919 79.9 917.8 103.2 917.1 98.2 917.7 118.3 915.5 259.7 913.6 183.5 919 180 916 308 913.8 365 914.8 371.8 943.9 148.6 944.7 105.4 944.2 162.8 945.6 161.6 945.1 108.8 943.7 141.9 941.9 164.3 942.2 146.7 943 111.8 946.5 151.6 945.4 150.4 944.6 355.1 941.6 258.6 942.5 301.2 943.6 364.5 942.6 237.2 973.9 192.6 971.4 162.3 973 142.8 972.9 149.6 973.3 136.3 973.9 204.8 969.4 143.7 973.9 201.1 970.8 199.5 972.2 151.3 972.7 165.9 969.7 355.7 973.1 256.6 971.4 328.2 971 258.9 999.5 250.4 997.4 189.6 999.3 253.4 1001.9 168.5 1000.1 179.8 997.9 179.5 999.4 254.2 1001.7 199.7 1001.4 227.7 997.3 246.1 998.3 252.9 997.2 367.5 999.5 319.3 997.5 315.9 1028.3 259.6 1029.4 257.7 1029 222.8 1028.2 263.3 1028.9 240.4 1026.8 281.9 1025.8 243.5 1028.7 267.6 1026.9 212.5 1028.3 247.3 1025.7 244.7 1024.8 367 1028.8 377.2 1055.5 273.4 1054.2 346 1052.1 289.2 1052.8 274.2 1053.5 313.2 1052.4 334.8 1054.3 274.4 1052.6 305 1053.8 303 1052.6 290.3 1054.6 266.7 1054.6 374.6 1082.6 319.8 1082.9 315.7 1080.4 309.4 1082.4 324 1081.1 319 1084.2 321.2 1083.1 378.7 1081.9 359.2 1081.4 379.8 1083.1 315.3 1083.2 320.8 1109.7 371 1109.7 412 1111 383.3 1107.6 394.2 1111.9 403 1110.4 421.6 1110.5 437.5 1112.1 419.3 1111.3 367.3 1108.6 416.8 1110.2 430 963.8 216 680.5 307.1 652.1 291.3 729.6 215.4 907.4 273.6 890.2 90.3 1020.2 333.8 1026.3 321.8 903.8 350.8 950.7 287.1 618.8 259.5 936.9 341.6 781.7 134.5 807.4 333.4 955.1 156.4 694.8 190.2 950.4 183.9 1017.7 280.6 690.7 244.1 665.7 360.1 610.9 318.3 778 81.2 704.3 382.2 1003.7 269.8 1010.4 367.7 1003.1 330.3 866.5 227 936.7 272 1057.4 295.9 1022.3 343.4 808 335.6 734.5 210 871.1 375.3 714 344.1 908.9 360.8 741 286.4 1017.6 364.4 928.2 338.6 898 246.5 690.4 269.1 1059.2 379.3 619.8 294.2 712.5 342.9 685.5 330.1 692.2 224.7 1057.1 289.4 873.4 152.1 955.3 139.9 918.2 164.7 1049.9 303.2 914.6 94.3 1041.5 335 1029.7 344.7 628.3 347.7 779 132.1 1018.6 325.8 764.1 98.4 905.1 97.8 712.4 131.5 680.9 327.4 725.7 381.1 731.2 327.9 945.9 287.5 884.3 112.5 989.5 368 849.6 119.5 640.4 261.3 1056.8 310.1 731.8 249.7 616.3 358.9 985.9 441.5 581.1 497 1002.2 485.6 678.7 501.4 911.1 402.1 1095 479.9 664.4 496.2 887.5 474.4 580 430.3 992.8 397.6 669.6 409.5 879.7 420.2 988.6 456.8 987.4 498.1 1089.7 427.6 761.8 488.1 744.5 500.1 746.5 473.5 703.3 482.1 718 453.8 955.5 491 640.7 425.1 679.5 485.9 928.9 481.5 1001.1 432.9 833.2 394.7 755.2 471.1 705.6 488.2 679.7 455.8 934.3 431.4 923.4 451.5 591.2 415.4 917.2 490.6 932.1 493.9 924.5 486.8 1017.6 470.6 852 423.5 692.5 412.3 625 450.6 722.8 467.6 1012.3 437.1 1048 491.5 668.7 470.1 671.6 408.6 684 429.2 569.1 400.7 1000.9 494.1 1031.3 410.2 577.7 493.5 767.3 445.7 943.4 464.5 742.8 422 627 481.1 1054 403.5 685.6 464 708.9 460.5 836 436.5 628.3 453.5 1003 420.3 855.5 489.6 873.1 445.9 1066.3 487.1 1103.3 440.6 826.3 456.6 1018.8 472.8 862.1 463 1046.1 446.5 635.9 425.5 696.6 413.9 1092.3 466.8 995.8 457 846.5 431.8 1046.1 453.6 784.2 483.7 1034 504.8 824.9 454 1011.1 454.1 674.3 459.4 730.2 435.7 982.2 446.1 902.7 441 626.7 487.1 983.4 480.5 894.3 425.3 835.8 491.4 988.5 470.2 905.8 424.8 594.8 492.5 574.9 435.2 780.9 480.1 941.3 494.2 1067.1 437.4 699.4 417.9 743.2 415 1084 468.7 830.2 407.3 1057.5 434.2 980.6 429.2 711.1 420.1 853.9 438.8 873.6 481.4 687 419.3 843.3 451.5 806.3 448.2 654 418 957.7 474.2 936.4 474.6 842.2 428.2 1058.6 464.7 812.4 436.2 768.6 503.5 784.4 489 632.1 471 711.8 432.9 729 451.1 912.6 452.3 1030 422.6 1026.9 455.3 993 451 703.9 496.5 908.8 482 847.2 481 1081.5 483.6 1088.2 446.1 725.9 495.6 1015.3 496 800.2 452.9 1076.6 429 654.8 424.9 728.4 453.3 771.8 457.6 584.1 445.3 839.4 406.7 825 497.4 917.8 500.7 1029.4 461 576.4 407.7 876.1 492.2 744.1 419.3 974.9 465.3 817.7 418.8 864.1 468.6 948.7 497.1 605.9 491.3 738.5 453.1 750.7 489.3 803.2 409.8 821 421.7 573.6 406 770.5 456.7 565.4 420.1 1052 465.8 1094.3 465.6 1080.3 479.3 774.1 405.9 644.8 488 922.6 440.3 653.2 474.7 1067.1 434.6 1103.4 464.8 677.4 426.3 949.3 499.2 674.8 433.4 642.2 429.7 686.8 453.3 693.4 476.7 694.5 436.8 791.1 424.6 592.6 413 567.6 477.7 591.5 459.6 1045.1 472.4 730.4 451.7 795.7 443 594 422.8 642.3 429.6 743.7 415 897.5 428.6 840.6 479.4 833.5 483.6 986.3 456.4 679.6 404.4 939.1 448.1 722.1 411.9 662.2 496.3 819.9 492.6 1021 434.6 687.1 495.9 692.9 470.9 1070.7 458.2 794.4 501.6 1031 499.2 946.8 431.7 590.9 399.7 1063.5 465.7 1041.9 501.6 693.1 502.6 712.9 425.9 711.9 504.6 1072.4 446.4 825.3 490.7 999.2 496.8 760.7 432.7 841.9 499.7 896.1 494.7 671 462.3 1060.3 468.3 993.6 489.3 804.1 479.1 938.6 455.6 845.9 489.5 1041.1 503.9 763.4 477.9 862.4 493 694.8 458.3 703.3 488.9 948.6 395.3 623.6 420.8 884.3 486.6 750.7 411.2 881.2 472.4 797.4 437.3 752.3 432.7 1003.9 449.6 950.3 466.3 688.8 438.3 927 493.9 1060.4 422.5 705 414.4 667.2 450.1 952.8 498.3 884 421.3 768.3 421 716 468.7 835.9 425 714.1 496.6 905.4 471.2 738.9 440.5 976.2 398 918.1 501.5 908.1 405.5 583.2 487.4 665 453.8 916.8 477.8 720.5 478.5 1058.4 458.4 779 478.8 1036.5 478.9 1065.8 487.1 1081.6 434.9 928.4 429.8 628.4 445.3 1075.7 440 731.8 499.1 1095.2 485 755.4 490.6 600.4 396.5 599.1 444.5 695.3 493.6 806.3 492.9 828.5 448.6 748.3 405.4 810.5 501.1 1089.7 499.5 617.8 455.8 1015.3 422.5 600.3 429.4 610.4 483.5 949.8 504.1 592.3 480.3 993.5 425.8 607.7 503.4 991.9 409.4 666 476.4 657.3 455.2 646 413.2 826.6 465.6 1022.4 394.3 756.6 409.9 863.4 424.1 743.8 502.6 915.7 477.2 892.1 428.8 934.8 502.6 613.2 491.9 750.7 428.8 918.8 492.9 655.2 428.3 835.5 429.2 838.7 504.2 578.9 454.4 674.1 424.2 882.9 500.8 818.7 467.2 942.6 493.6 1087.1 444.3 660.7 498.3 891.8 495.6 644.2 487.7 628.9 419.4 630.4 447.5 789.3 476.3 1071.4 454.5 877.4 452.6 771.7 436.6 567.8 435.5 955.4 488.6 935.5 455.7 786.9 427.2 696 504.8 882.3 451.9 854 460.8 723.7 453.3 797.4 496.8 1046.1 439.3 811 431.4 1079.5 420 825 397.1 813.8 457.6 572.7 422.2 834.9 459 728.8 406.7 740.1 445.9 621 471 683.8 464.6 948.3 397.8 833.8 474.4 1047.8 479.2 1017.3 476.7 686.1 489.8 601.8 500.3 605.1 494.1 608.3 478.7 606 468.8 611.6 457.5 616.7 456.6 621.5 441.6 625.4 439.7 633.1 426.9 640.6 417.9 652 417.7 657.3 414.2 668.5 413.6 682 413.9 686.9 421.5 691 420.7 699.4 436.3 698.7 447.6 700 452.4 707.2 454.7 706.6 469.7 708.2 485.4 706 486.9 707.2 495.5 1068.2 499.1 1064.7 494.6 1059.9 480.6 1058.3 474.7 1055.8 466 1050.3 458.6 1043.3 440 1039.9 438.4 1033.8 425.6 1027.6 418.7 1016.5 418.6 1007.1 415.2 1000.1 413.3 994.8 414.4 980.8 417 974.1 426.5 971.2 428.8 966.3 439.9 963.1 450.6 965.1 460.9 958.8 469.2 958.2 478.7 958.2 492.8 955.4 498.7 713.4 507.7 712.7 503.4 714.7 492.5 715.6 482.5 718.2 479.3 718.8 468.1 719.1 465.5 717.2 458.8 722.6 446.7 722.7 443 726.7 433.6 725.5 431.6 727.5 423 731.5 412.6 734.7 408.4 736.4 399 739.5 398.1 746.4 391.7 750.5 387.4 762.6 381.5 762.3 383 772 383.2 781 384.9 786.5 383.6 788.2 392.5 799.2 398.9 801.3 397.7 806 410 808.9 418.6 806.7 419.3 811 428.7 810.8 436.2 812.5 445.5 816.7 447.2 819 463.9 818.2 462 819.6 474 816.8 476.8 821.6 489.7 818.3 497.1 952.7 510.5 956.2 499.9 951 492.1 952 483.7 950.4 476.5 948.9 471.4 951 469.9 949.5 454.2 945.5 449.2 944.5 444.8 942.8 438.8 944.1 427.2 940.6 422.9 940.8 414 933.1 405.1 932 404.9 928.6 397.1 924.8 394.4 918.4 388.6 911.3 385 902.9 380.7 894.6 381 889.5 386.1 880.7 388.8 876.8 390.5 871.2 397 866.1 402.7 862.9 410 860 415.7 856.5 426.3 857.4 431 852.5 435.5 854.2 446.4 853 451.7 849 462.5 849.8 466.6 851.7 471.3 849.3 475.6 850.5 485.6 846.5 491.8 146.3 1385.9 154.9 1385.9 164.7 1385.9 1510.3 1385.9 1525.6 1385.9 1540.3 1385.9 1544.9 1385.9 186 1383.8 191.3 1383.6 189.4 1384.5 181.6 1384.9 181.3 1384.7 181.8 1383.6 202.6 1385.9 200.8 1384 203.9 1386.2 219.7 1384.6 224.2 1383.5 222.9 1384.2 214.9 1383.7 233.4 1385.8 232.2 1385.1 236.4 1384.5 235.6 1383.5 244.1 1384 247.9 1384.7 245.7 1385.1 259.8 1384.3 261.8 1385.5 258.5 1385.1 304.3 1385.9 316.8 1383.5 332.1 1382.8 297.8 1385.4 281.5 1384.3 274.6 1385 318.9 1384.7 325.7 1383.6 314.7 1384.7 307.7 1384.2 323.5 1386.2 301.2 1385 276 1385.2 311.8 1386.4 322.4 1383.5 295.8 1385 273.6 1384.2 282.5 1382.8 275.9 1385.5 280.1 1383.3 296.1 1385.9 277.2 1384.2 305.8 1385.9 322.3 1385.8 289.2 1384 294.2 1385.9 330.7 1382.9 283 1383.3 286.5 1384.3 308.2 1383.4 272.5 1384 294.8 1384.6 330.4 1385.1 303.7 1384.8 313.5 1382.5 327.2 1385.5 325.6 1385.6 296.2 1384 278.6 1384.9 276.1 1382.6 285 1383 293 1382.5 272.3 1382.9 278.4 1383.8 273.8 1385.9 309.7 1382.9 287.7 1383.7 294.5 1382.8 393.7 1386.4 366.5 1383.8 339.4 1381.8 357.7 1382.7 392.3 1382.1 334.9 1386.1 370.9 1382.1 372 1381.5 370.9 1386.3 394.8 1384.9 351.9 1383.2 345.2 1385.2 371.2 1385.3 356.8 1382.4 391.1 1386.3 394 1385.4 391.6 1385.1 349.4 1383.9 358.6 1381.5 335.3 1382.7 351.7 1384.8 401.4 1383.6 400 1386.3 401.3 1383.2 349 1382.5 347.3 1382.4 377.7 1385.9 393.1 1383.8 379.8 1385.4 339.3 1384.7 398.1 1385.3 386.7 1383.7 346 1385.3 357 1385.4 402.5 1383.3 361.9 1386.1 384.9 1382.2 342.3 1382.1 397.7 1385.4 343.7 1385.5 403.1 1384.7 358.2 1384.1 342.6 1381.4 402.4 1384.6 370.8 1386.1 364.2 1385.7 392.1 1382.4 351.2 1382.8 350.4 1384.3 351.8 1383.4 342.6 1385.9 358.5 1383.6 374.8 1385.9 363.2 1386 369 1384 370.6 1381.4 364.6 1382.2 333.6 1385.4 345.6 1383.7 384.9 1384.1 356.5 1383.9 372.8 1385.3 340.8 1384.2 424.7 1382 467.4 1383.4 450.2 1384.9 478.8 1383 454.4 1383.4 446.2 1384.5 441.3 1383.5 443.4 1386 461.4 1385.6 481.2 1381.9 450 1386.1 472.9 1381.1 414.4 1383 410.4 1381.8 410.5 1384.4 468.3 1385.8 417.1 1384.7 458.2 1381.2 476.4 1386.2 422.4 1386.1 436.9 1383.3 485.1 1385.4 417.6 1382.9 446.5 1382.4 420.4 1382.2 463.3 1380.4 449.6 1383 406 1382.3 455.3 1383.4 409.7 1386.3 468.7 1386.2 413 1381.9 407.7 1385 426.5 1381.1 438.9 1385.9 471.2 1381.9 416.7 1385.9 450.9 1384.6 411.8 1380.6 460.5 1382.9 410.4 1386 456.1 1385.2 411.3 1385.5 409.9 1385.6 441.4 1382.4 449.5 1385.9 426.3 1381.1 447.4 1381.8 413.4 1381.3 408.6 1381.5 429.9 1382.2 466.3 1382.1 445.2 1381.4 432.7 1380.4 424.9 1380.4 464.2 1383.7 419.9 1383.2 480.6 1380.9 471.2 1382.9 444.8 1385.4 436.5 1383.4 460.5 1386.3 432.4 1385.4 462 1384.2 437.4 1382.4 408.9 1381.1 410.3 1384.8 425.3 1381.3 411.4 1385.4 475.4 1384.4 427.4 1381.8 428.4 1383.1 417.3 1383 425.9 1386.2 483.7 1383.6 424.4 1386.2 429.7 1382.5 404.6 1382.6 443.1 1383.4 420.9 1383.4 404.9 1381.9 411.8 1382.7 407.9 1380.4 429.3 1381.7 452.2 1383.5 465.6 1384.3 462.8 1385.7 436.2 1382.3 566 1379.5 544.8 1383.5 489.5 1385.1 558.5 1383.4 545.6 1384.9 497.2 1382.5 526.9 1385.1 551.4 1385 533.4 1385.5 541.5 1383.9 504.6 1378.5 496.7 1381.2 494.4 1385.1 531.3 1383.4 536.9 1383.8 525.7 1378.3 550.8 1384.3 526.8 1382.6 539.5 1378.8 545.9 1380.3 491.9 1380.4 545.2 1379.9 546.1 1386.2 526.1 1381.4 524.9 1383.8 548.3 1383.3 538.2 1378.9 497.9 1380.3 546.4 1380.7 532.1 1378.4 490.8 1380.4 540.6 1383.9 540.9 1380.6 527.9 1382 523.8 1379.2 558.6 1379.9 565.5 1385.9 487.3 1382 552.6 1386.1 522.5 1380.4 503 1386 503 1383 497.4 1382.5 563.4 1379.3 552.6 1382.4 558.1 1384 504.7 1385.6 525.5 1378.5 486.2 1382.3 522.6 1380.7 497.3 1381.1 511.6 1385.1 486 1384.4 554.2 1379.2 561.3 1384.1 559.3 1380.6 516.2 1381.5 567.2 1383.1 515.2 1381.7 508.3 1378.7 494.2 1385.1 509.1 1385.9 506.2 1380.4 527.5 1379.8 516.3 1386 557.9 1384.9 537.2 1385.7 562.4 1382.7 544.4 1378.7 545.5 1381.9 547.1 1383.5 509.2 1378.7 561.3 1379.3 524.3 1381.1 510.1 1384.3 565.3 1380.4 539.3 1380.7 531.2 1381.5 499.5 1379.6 502.8 1385.6 526.3 1380.1 559.6 1386.4 522.5 1379.4 501.5 1379 513.7 1379 505.3 1380.4 532.2 1385.5 546.9 1381.6 519.6 1382.5 516.6 1381 490.9 1380.5 564.6 1379.3 526.9 1383.4 556.1 1380 507.9 1380.3 518.4 1381.9 563.5 1385.2 556.9 1378.4 488.5 1384 558.8 1382.1 533.7 1378.3 517.8 1385.8 553.1 1385.2 565 1380.3 578.4 1376.8 620.4 1382.1 663 1382.6 633.1 1383 613.8 1380.8 571.3 1383.2 590.9 1384.6 632.9 1378.3 580.3 1377.8 632 1382.3 578.7 1375.9 620.6 1381.1 606.8 1377.5 628.4 1375.3 597.9 1379.9 664.8 1381.8 657.2 1380 591.2 1377.7 665 1382.4 598.5 1375.4 618 1382.1 610 1377.8 635.2 1384.6 590.3 1375.6 601.7 1379.5 636.7 1377.2 648.4 1382.7 618.6 1377.3 665.9 1378.4 650.7 1377.6 589.8 1382.9 597.3 1384.9 617.7 1377.1 590 1379.5 635 1384.9 582.2 1379.2 588.9 1385.1 581.7 1375.7 573.4 1379.2 658.6 1384.2 641.8 1385.4 662 1378.6 586.1 1384.7 643.2 1375.5 634.9 1379.1 605.3 1378.6 584.5 1375.2 595.7 1378.8 664.5 1376.5 665.4 1377.3 603.6 1383.6 650.9 1379.6 572.3 1380 605.2 1384.6 586.9 1378.9 658.5 1375.5 609.1 1383.5 645.3 1375.6 570.8 1375.8 660.9 1377.8 643.3 1384.3 601.8 1378 664.7 1381.5 593.9 1382.5 599.5 1378 567.7 1382.9 660.5 1381.7 663.2 1375.5 591.1 1380 664.6 1384.9 606.6 1377.8 611 1380.2 661.7 1377.1 648.9 1382.7 651 1383.1 629 1378.5 599.8 1378.9 646.9 1376 587.3 1382.9 592.4 1375.9 570.7 1380.8 600.4 1385.2 657.1 1385.3 594.2 1376.1 577.1 1380.3 639.5 1379.8 591.1 1379.5 630.4 1382.1 643.4 1383.8 634.9 1376.4 652.8 1378.2 624.9 1379 642.4 1377.2 592.4 1377.7 582.9 1384.2 626.1 1378.5 607.6 1385.3 618.9 1377.6 649.5 1381.9 668.1 1376.3 615.6 1383.5 652.8 1384.5 571.4 1378.2 579.4 1377.1 666.3 1381.1 661.9 1379 655.4 1379.8 593.7 1383.1 663.5 1376.3 627.9 1381.5 589.4 1379 581.7 1377.3 593.2 1381.3 633.6 1377.3 568.4 1378.5 636.3 1377.1 599 1377.3 648.2 1380.8 573.7 1376.2 607.5 1380.8 632.3 1376.1 583.9 1382.3 609 1378.1 598.6 1384.9 599 1381 603.6 1379.4 655.2 1385.3 604.3 1377.2 641.3 1377.3 567.9 1384.4 610.4 1383.6 608.6 1384.2 614.2 1376.9 568.8 1380.8 632.4 1384.5 576.3 1381.5 605 1380.3 582.1 1378.1 620.3 1384.6 578.3 1380.2 649.1 1385 587.3 1376.5 663.2 1385.1 616.4 1375.8 661.5 1379.2 659.3 1381.5 651.2 1376.8 647.2 1377.5 608.4 1383.8 651.6 1377.1 589.5 1379.3 620 1379.1 579.8 1377.7 641 1384.3 571.5 1380.9 644.3 1375.6 652.5 1376.4 628.3 1380.8 631.1 1378.3 610 1381.1 610.6 1381.9 612.7 1379.7 569.6 1381.5 617.1 1377.6 644.9 1383.1 613.9 1377 615.4 1376.3 580.3 1379.6 576.6 1379.7 619.2 1375.6 632 1376 641.9 1383.1 619.3 1375.8 618.5 1379.1 664 1376.6 654.5 1385.3 641.7 1383.5 587 1385.2 617.3 1384.9 660.5 1376.9 647.5 1384.7 573.9 1378.8 644.2 1376.8 658.5 1378 650.2 1376.7 618.4 1384.6 588.5 1377.9 618.7 1378.5 571 1377.1 583.7 1384.7 783.8 1384.1 697.5 1382.8 688.4 1379.7 776.5 1377.6 816.4 1380 767 1383.9 686.7 1385.3 775.4 1378 803.7 1376.4 836.3 1380.2 729.8 1382.5 743.7 1375.3 794.6 1373.8 807.4 1376.3 777 1385.2 767.9 1381.3 721.8 1373.2 674.7 1375 773 1378.5 755.6 1384.1 691.3 1376 779.3 1373.5 669.4 1377.5 687 1377.5 706.9 1380.3 768.5 1375.7 774.4 1379 691.8 1384.6 710.1 1375 685.2 1381 816.1 1382.7 736.9 1376.4 670.9 1381 764 1377.5 778 1378.6 827.3 1382.1 711 1384.2 676.4 1379.7 737.6 1376.1 678.9 1382.7 671.1 1379.9 827.9 1374.9 702.7 1380.6 754.6 1381 806.4 1375.3 721.2 1376.8 677.2 1384 801.2 1381.9 670.1 1383.5 794.8 1378.9 794.3 1378.7 707.2 1374.5 708.2 1373.7 725.7 1382.3 786.4 1383.5 789.2 1376.4 762.5 1378.5 802.1 1379.6 713.8 1381 832 1375.8 817.6 1373.4 713 1376.1 794.6 1384.7 795 1377.2 817.6 1377.2 709.4 1384.3 775.5 1381.6 781.3 1385.1 748.3 1383.4 786.8 1383.6 742.8 1382 765.3 1376.9 704.8 1380.8 682.1 1384.3 693.4 1373.5 687 1384.5 727.2 1374.9 673.9 1373.7 786 1380.9 786.7 1382.2 680.1 1380.4 730.4 1383.2 807.4 1384.1 680.1 1383.8 823.4 1384.7 687.1 1375.7 687.9 1373.6 812.2 1383.1 776.1 1383.2 775.7 1376.7 685.9 1374.4 796.9 1375.7 722.9 1378.4 672.5 1376.3 716.7 1381.9 731.2 1377.1 831.8 1379.3 812.8 1380.7 674.2 1378.2 742.7 1382.6 727.6 1381.8 759.8 1375.8 814.6 1374.3 807.4 1375.3 669.2 1375.6 797.7 1385.1 669.7 1379.2 752 1382.9 700.2 1379.2 727.6 1383.3 713 1384.7 716.9 1375.8 787.1 1379.3 687.6 1380.9 682.7 1382.8 786.7 1382.8 775 1377.5 736.8 1378 819.4 1374.2 819 1373.5 703.8 1376.4 821.2 1379.3 733.1 1384 708.4 1378.8 758.8 1382.4 796.2 1381.1 727.9 1377.2 695.2 1383.5 780.8 1382.2 697.6 1378.5 799.6 1380.2 690.3 1378.8 818.5 1376.1 701.4 1376.9 787.7 1383.5 695.1 1375.1 710.8 1377.2 757.2 1375.1 724.4 1375.5 833.7 1382.1 686.2 1384.9 686.2 1377.9 835.1 1382.9 792.8 1378.5 702.1 1381 687 1375.7 734.6 1373.6 736.4 1382.8 786.1 1379.3 775.8 1378.8 693 1380.5 737.3 1382.2 822.3 1378.4 765.9 1382.3 740.1 1376 791 1383.9 799.7 1381.7 813 1381.5 777.3 1378.7 721.9 1380.8 685.5 1378.3 801.1 1381.9 775.3 1376.2 740.5 1378.7 774 1378.2 783 1384.5 699.9 1381.2 800.4 1377.9 751.7 1385.1 675.4 1379.8 696.2 1382.7 827.8 1379.5 686.1 1380.2 760.4 1381.9 755.5 1381 809 1379.5 738.3 1384.7 704.5 1381.5 735.3 1382.5 689.7 1385.2 729 1373.9 715.3 1378.1 671.2 1378.3 740 1381.7 728.5 1376.4 706.9 1382.2 827.7 1379.6 706 1383 735.2 1375.8 690.8 1382.7 805.7 1380.9 748.2 1380 707.2 1384.9 728.6 1381 807.3 1383.1 748.1 1376.8 761.6 1374.7 809.8 1377.5 812.7 1376.4 732.5 1376.3 741 1375.4 669.5 1382 716.5 1376.2 720 1379 741.4 1381 780.3 1377.6 825.8 1383.6 678.6 1383.3 822 1382.7 692.7 1383.3 775.9 1373.4 670.9 1384.8 779.8 1376.2 686.1 1374.9 708.5 1382.7 727.5 1375 821.7 1382.8 697.4 1384.1 771.7 1382.7 781.9 1384.1 802.1 1383.4 702.3 1381.6 758.6 1382.2 743.1 1383.9 762.7 1376.4 708.5 1374.9 752.3 1373.9 747.9 1374.9 752 1379.3 760.1 1383.7 670.1 1383.4 748 1380 781.4 1383.4 732.3 1378.3 831.2 1374.1 776.6 1380.9 673.8 1380.6 784.3 1384.5 724.8 1385.2 755.2 1379.1 820.6 1373.6 790.3 1380.8 726.2 1383.7 730.8 1379 757.8 1382.6 704.6 1378.5 740.3 1379.9 808.6 1376.8 808.8 1378.1 754.1 1376.5 754.5 1385.1 779.5 1382.8 724.9 1377 719.5 1380.3 776.2 1382.7 675.8 1382 818.6 1379.8 677.4 1376.8 670.1 1375.5 824.6 1380.6 780.1 1382.8 822.6 1380.6 773.1 1380.8 786.6 1380.5 784 1375.8 781.6 1378.8 797.8 1374.4 699.6 1373.6 799.8 1384.3 779.7 1377.7 807.9 1382.8 763.9 1376.3 720 1378.3 722.8 1378.4 777.4 1384.6 678.2 1380.1 675.7 1374.6 805.8 1380.2 824.1 1378.6 671.4 1377.9 769 1384.6 834.6 1379 738.6 1374.4 777.8 1375.8 694.6 1373.4 669.8 1381.5 689.5 1385 683.9 1383.8 690.8 1373.4 790.5 1376.1 792.9 1375.5 677.5 1382.6 789.5 1383.6 792.2 1374.2 775.2 1381.8 746.8 1384.6 711.9 1384.9 790.1 1373.3 671.5 1381.1 807 1374.2 721.5 1382.1 697 1383.7 751.1 1373.9 731.1 1380.2 743.1 1381.4 693.5 1382.9 730.3 1381 775.3 1378.3 734.1 1382.8 828.6 1382.8 764.7 1376.7 679.2 1385.1 787.8 1383.3 725.1 1380.6 834.1 1383.3 770.5 1376.9 741.4 1384 732.6 1381.5 770.6 1384.1 805.4 1376.6 669.3 1376.4 740.4 1380.3 806.8 1384 676.1 1383.3 806.1 1383.8 765.6 1376.5 812.7 1383 784.6 1384.3 727.6 1374.2 762.5 1382.9 702.8 1382.3 826.3 1376 771.5 1381.4 747.6 1375.7 712 1382.3 802.7 1378.8 683.8 1383 799.4 1376 766.9 1384.1 818.5 1379.5 749.5 1380.4 700.9 1375.5 699.5 1381.7 730.3 1380.1 737 1379.5 694.2 1373.7 837.4 1377.7 686.9 1380.9 802 1375.1 769.9 1377.4 756.7 1373.4 674.7 1385.3 815.3 1379.1 764.8 1376.4 800.6 1378.4 828.8 1382.5 807.3 1384.9 711.9 1373.6 702.9 1375.4 683.1 1373.8 763.1 1383.8 746.4 1384.7 822.7 1374 770 1378 689.3 1384.9 712.4 1380.1 777.2 1384.8 782.1 1378 744.7 1375.1 832.1 1385.3 706.4 1373.7 712.2 1377.5 821.5 1384.2 810.4 1373.8 801.8 1381.8 778.2 1385.2 678.4 1374.9 796.5 1384.6 783.3 1376.8 768.9 1382.4 686.8 1377.1 712.4 1374.7 750.3 1375.2 709.3 1374.9 783.4 1373.3 790.1 1375.6 675.1 1384.5 706.2 1384.6 815.4 1384 692.6 1378.6 685.4 1384.5 811.2 1380.8 745.4 1377.3 808 1379 775.1 1374.9 706.4 1373.9 789.5 1379.9 693.4 1383.8 714 1378.2 695.3 1376.5 810.8 1377.3 697.3 1379.2 722.7 1384.2 688.3 1385.1 678.6 1384.1 781.9 1375.8 749.6 1376.7 712.5 1375.6 730.5 1385.3 837.6 1384.5 685.5 1376.7 820.3 1373.9 791.7 1376.8 834.3 1373.4 805.3 1377.3 692.7 1373.2 809.5 1379.6 700.4 1378.5 823 1375.8 765.5 1374.9 699.4 1382.6 789.2 1375.6 682.4 1374.2 771.8 1379.2 715.3 1375.7 772.4 1381.8 806.1 1380.3 703.2 1374 792.7 1378.2 790.9 1373.9 805.9 1377.3 811.2 1383.7 752.3 1373.4 822.7 1379 816.3 1376.4 700.4 1383.3 731 1375.2 731.7 1380.4 669.8 1379.5 744.3 1379.5 689.4 1381.9 806.9 1383.7 723.2 1381.9 733.4 1382.3 679.3 1383.8 830.1 1379.2 755.7 1379.7 759.7 1373.4 832.4 1375.9 699.8 1374.4 711.3 1383.1 674.1 1374.4 787 1375.6 672 1380.5 766.4 1379.6 787.7 1374.4 815.8 1381.9 676.6 1374.7 752.4 1379.3 716.2 1374.7 737.5 1374.9 768.9 1383.7 693.9 1380.2 795.1 1375.2 808.5 1384.6 734.6 1378.3 810.8 1379.6 735.8 1384.7 800.2 1377.3 709.6 1377.3 742.6 1385.2 804.8 1384.3 806.6 1383.5 678 1379.5 830.8 1384.6 711.1 1378.3 775.8 1377.6 758.6 1374 742.1 1379.3 672.5 1374.9 832.8 1382.7 827.2 1380.9 805.7 1384 818.4 1373.6 777.3 1376.4 783.6 1376.5 760.6 1384.5 773.9 1376.2 756.9 1378.5 829.6 1376.7 720.6 1381.1 689.3 1380.4 830.5 1379.4 714.3 1378.9 759.2 1375 689.9 1374.8 718.6 1378.1 717.7 1376.1 839.3 1379.8 851.5 1380.6 847.2 1381.1 841.1 1381.8 845.4 1379.9 847.8 1378.9 842.9 1376.1 841.5 1379.4 844.1 1380.3 838.1 1377.5 851.9 1376.1 846.9 1379.2 842.5 1385.2 842.7 1382.6 840.5 1374 852.1 1378.5 838.9 1377.9 845 1382.2 839.7 1375.9 853.5 1382.2 840.4 1377.3 843.6 1381.4 847.9 1383.6 851.2 1379.5 849.9 1382.2 850.2 1379 850.7 1381.8 852.8 1374.7 852 1373.2 850.3 1380.3 846 1384.9 847.2 1378.3 850.6 1383.8 847.8 1377.8 845.2 1378.8 849.6 1376.8 844.2 1380 844.1 1377.1 850.7 1383.5 846 1378.6 840.9 1376.9 840.2 1380.2 847.3 1374.3 852.9 1377.1 851.6 1383.4 853.5 1375.7 844.8 1384.3 838 1373.8 947.3 1379.2 1005.8 1382.6 942.9 1385.4 939.4 1379.5 967.1 1377.9 913.1 1380.4 912 1384.7 965.6 1379.6 870.5 1377.7 920.2 1380 948.8 1383.9 1013.1 1379.1 926.7 1380.8 1018.3 1377.4 941.5 1383.1 882.3 1377.1 1015.4 1383.3 938.6 1374.5 1001.6 1381.6 989.4 1385.3 1000.5 1378.3 879.9 1376.7 938.5 1379.3 885.2 1375.4 958 1380.5 912.4 1385.3 959 1373.7 922 1382.8 904.7 1381.6 854.8 1376.9 992.9 1380.3 964.3 1375.6 936.2 1379.9 898 1381.1 941.7 1385.3 948.8 1378.2 874.2 1375.1 979.3 1374.5 870.6 1375.3 940.3 1383.2 955.2 1383 864.4 1373.3 981.1 1377.1 972.1 1377.5 882.1 1376.4 870.5 1384.2 950.1 1377.4 928.3 1377.9 863.2 1384 950.2 1384.9 926.6 1380.7 895.2 1373.7 1007.6 1383.6 906 1384.1 988.6 1376.9 953.5 1384.9 935.8 1384.8 894.2 1377.9 972.6 1375.9 905.1 1383.9 934 1382.9 894.3 1375.3 913.2 1375.5 1014.3 1376.7 946.7 1374.6 942.1 1377.9 920.6 1374 874.5 1383.3 912 1376.2 885.7 1376.6 893.2 1373.6 963.6 1377.3 879.8 1381.8 869.4 1376.5 991.8 1374.7 927.2 1383.4 986.8 1375.1 912.3 1382 916.3 1384.9 888.4 1384.8 937.3 1376 928.8 1374.8 970.6 1376.4 1002.4 1380.3 914.8 1376.2 954.4 1375.8 997.9 1374.7 938.7 1379.8 898.7 1382.6 917.6 1381.2 947.7 1377 918.4 1374.2 883.3 1383.6 907.1 1381.3 872.1 1380 913.7 1379.3 903.1 1374 905.4 1375.9 874.9 1381.9 900.7 1378.1 1003.9 1382.6 999.6 1383.7 875.9 1376.6 859 1381.5 963.5 1377.5 922.1 1381.2 969.4 1376.2 993.7 1377.5 957.8 1375.4 873.1 1384.3 975.1 1381.9 860.8 1373.7 880.9 1375.6 904.1 1377.8 860.6 1377 959.3 1375.4 992.5 1380.1 972.3 1376.3 925.8 1381.5 911.7 1373.2 991.6 1382.7 901.3 1373.7 994.9 1380.6 862 1376.2 872.5 1382.8 888.8 1384.3 977.7 1374.2 968.6 1378 977.4 1383.3 900.5 1374.3 1010.1 1378.4 1007.5 1381.6 975.9 1383.3 957.7 1378.7 863.1 1381.7 924.7 1379.4 1007.1 1374.7 979.7 1373.7 970 1383 897.2 1379.8 1013.9 1381 943.8 1376.2 863.9 1377.5 922 1375.6 905.3 1374.8 970.7 1381.4 893.4 1376.1 939.1 1378.6 1008.4 1377.5 903.5 1384 877.5 1380.1 909.1 1383.1 944.5 1382.5 882 1381.3 952.8 1378.8 980.4 1383.3 873 1376.7 913.6 1375.7 864.1 1376.6 886.6 1381.7 928 1374.6 907.6 1378.9 914 1375.2 866 1373.3 1017.7 1382.3 868 1381.9 1015.7 1380.1 872.1 1379.1 925.7 1375.5 943.7 1373.3 1005.7 1381 957.6 1384.6 961.7 1376.2 894.7 1374.9 858.7 1382.6 992.5 1376.8 884.8 1381 993.5 1384.5 881.9 1382.8 991 1382.2 908 1375.4 990.2 1377.1 914.9 1379.9 915 1383.3 893.6 1373.7 947.6 1380.8 989.2 1381.8 1003.3 1384.7 935.6 1379.3 880.1 1376.8 949.9 1374.2 967.5 1375.2 927.2 1385 868.9 1373.7 926.6 1375.5 973.3 1373.2 992.7 1383.6 983.8 1378.4 900.8 1381.3 939 1378.3 910 1378.5 963.9 1383.3 1003.1 1375.2 902.9 1378.6 947 1377.4 886.4 1374.2 907.5 1378.8 1014.2 1384.3 996.8 1385.1 1012.7 1380.7 987.8 1373.9 965.6 1380.6 903.1 1380.1 1011.2 1379 960.8 1376.8 910.7 1384 858.7 1375.5 966 1378.6 868.2 1381.2 915.5 1380.3 922.8 1379.6 947.2 1378 873 1375.4 1000.8 1379.9 872.7 1383.7 895.9 1374.3 941.6 1376.2 934.8 1379.9 891.5 1380.2 872.8 1379.4 951.1 1374.2 921.4 1374.1 926.6 1383.7 944.9 1381.9 978.9 1374.6 1017.4 1382 871 1383.3 918.7 1375.3 1012.4 1380 981.9 1374.8 982.1 1373.9 893.2 1377.7 856.7 1380.4 889.3 1376.8 970.7 1378.4 1000.6 1380.8 997.9 1380 1005.4 1383.8 881.8 1382.3 910.4 1382.5 966.3 1383.3 874.4 1377.7 975.7 1384.7 973.1 1373.7 953.7 1374.4 944.6 1383 872.8 1384.5 965.4 1376.3 886 1378.6 992.3 1380.3 872.9 1373.4 872.3 1382.9 884.7 1379.9 901.9 1381.6 916.9 1374.9 998.4 1379.7 967.8 1383 1010.5 1373.3 910.6 1375 936.8 1383.8 986.1 1373.6 884.2 1383.2 966.1 1378 932.6 1375.1 993.4 1378 998 1380.6 866.7 1377.2 889.8 1384.1 951.3 1373.7 882.1 1377.6 931.2 1380.2 918.1 1377.5 855.1 1380.2 909.2 1373.4 929.9 1385.2 861.6 1375 964.7 1376.5 899.2 1379.3 897.3 1380.1 941.2 1384.9 1017.7 1373.6 946.5 1382.6 997.9 1382.6 958.5 1380.9 914 1376.6 985.2 1383.8 1008.8 1381.5 904.2 1382.5 976 1379.4 958.8 1377.5 944.9 1378.1 864.1 1377.3 907.4 1385.2 933.5 1377.7 894.3 1376 911.7 1374.8 855.3 1383.8 928.8 1378.6 947.9 1376.9 882 1374 903.8 1376.9 973.9 1379.9 1008.6 1377.3 1006 1380.3 867.3 1375.4 949.8 1385.2 913 1382.6 924.7 1383.8 865.3 1379.1 1002.3 1376.5 896.6 1373.5 881.3 1376.5 970.2 1375.8 920 1375.6 953.5 1383.7 961 1375.6 975.1 1384.9 953.2 1374.1 987.6 1383.9 910.4 1374.8 885.2 1379.7 998.4 1381 1006.2 1375.8 908 1382.3 961.1 1378.1 966 1377.3 863.6 1378.2 861.6 1380.8 909.3 1379.2 952.7 1376.3 930.5 1373.3 1006.6 1380.1 1016.9 1373.9 955.3 1382 908.4 1374.3 879.9 1374.9 980.6 1374.3 988.3 1378.3 942.9 1380.4 945.6 1381.2 953.3 1377.2 976.3 1376.3 971.4 1382.5 982 1377 981.5 1385.1 928.8 1376.6 940.4 1384.7 875.9 1373.3 932.6 1381.2 981.7 1377.6 1017.2 1376 978.8 1374.3 858.8 1374.8 864.1 1379.3 945.7 1375.4 1009 1377.6 878.8 1375.3 975.7 1384.4 880.9 1373.5 982.4 1376.1 1016 1379.3 959 1377.4 986.1 1378.8 907.5 1384.2 871.9 1382.1 864.9 1381.1 920.4 1383.7 864 1380.1 921.7 1384.4 1009.9 1380.8 891.1 1376.3 897.4 1378.5 892.3 1375.7 979.3 1381 903.3 1385.3 889.8 1380.1 880 1383.7 997.4 1376.4 978 1383.2 900.7 1377.2 934.2 1384 880.8 1381.5 952.6 1378.7 949.6 1384 888.7 1384 913.5 1382.7 996.4 1375.4 996.5 1385.3 903.2 1373.5 872.5 1385.1 855.7 1384.3 879 1382.2 870.2 1375.2 966.7 1374.3 910.1 1384.4 972.2 1383.9 1015.6 1373.6 892.8 1382.8 967.8 1373.6 937.3 1376 925.1 1374.5 857.4 1385.3 906.3 1383.9 874 1379.1 876.5 1378.4 883.6 1381.5 878.5 1382.2 936.7 1374.6 912.4 1379.2 1005.6 1377.4 889.6 1385 999.7 1382.1 899.1 1375.3 897.8 1374 861.3 1379.4 921.4 1380 913.9 1373.3 967.6 1381.1 943.8 1379.9 967.9 1385.2 998.2 1381.9 920 1377.1 923.2 1385 917.9 1377.9 921.7 1374.9 1018.7 1373.2 954.3 1384.5 896.1 1380.6 916.3 1376.1 886.9 1374.6 993.1 1382.7 1003.9 1373.8 968.6 1377.1 960.6 1379.9 906.2 1385 854.3 1382.3 994.8 1379.4 951.8 1385.3 892.8 1380.9 976.6 1377.8 971.5 1378 940.9 1380.7 965.8 1377.1 957.8 1379.8 890.9 1380.7 897.8 1384.3 932.1 1382 940.2 1379 890.6 1374.9 1007 1379.6 940.5 1379.6 988.2 1376.1 882.6 1383.2 930 1381 990.5 1384.1 997.2 1373.7 917 1383.3 988.9 1374.7 879.5 1376.2 871.1 1377.5 986.5 1379.5 928.8 1374.3 919.3 1385.3 968.7 1378.7 933 1382.9 979.2 1375 966.2 1377.7 940 1376.1 915.3 1377.3 917 1373.4 887.3 1380.1 863.7 1375.4 972.5 1376.5 907.5 1376.1 991.6 1374.3 959 1383.7 1038.6 1379.5 1096.3 1381.5 1055.2 1375.7 1062.2 1378.9 1088.5 1378.2 1058.8 1381.8 1098.1 1378.8 1056.6 1381.1 1109.3 1377.2 1113.8 1382.5 1055.3 1382 1051.1 1375.9 1092.8 1379.1 1070.3 1380.3 1107 1382.9 1021.5 1381.2 1064.1 1379.9 1100.9 1379.4 1065.2 1384.3 1061.9 1380.2 1068.9 1383.6 1084.4 1382.7 1058.2 1375.6 1085.3 1380.8 1094.1 1383 1030.5 1377.5 1026.5 1383.5 1028.9 1376.1 1092.5 1381 1024.3 1382.1 1088.4 1380.1 1024.3 1382.2 1059.8 1381.2 1116.4 1383.5 1104.1 1376.7 1051.6 1380.5 1019.5 1385.3 1045.8 1377.9 1049.5 1377.8 1102.8 1380.9 1068.9 1379.5 1023.9 1378.3 1103.6 1383.4 1102.6 1377.8 1038.7 1375.7 1071.4 1379 1064.3 1380.2 1076 1378.9 1097.2 1377.2 1108.7 1380.9 1023.9 1378.4 1071 1379.4 1074.1 1378.5 1045.7 1383.3 1047.4 1382.4 1097.3 1381.2 1063.4 1384.7 1062.4 1384.1 1024.6 1379.6 1081.4 1375.7 1103.2 1375.9 1077.2 1377 1109 1380.9 1097.1 1380.3 1084.8 1382.1 1047.8 1377.4 1100.8 1376.7 1108.6 1377.3 1028.8 1376.2 1095.5 1384.9 1059.5 1381.9 1044.1 1384.4 1085.9 1376.8 1024.5 1382.3 1023 1383.7 1047.6 1377.6 1075.8 1378.5 1073.7 1376.8 1108 1378.5 1101.1 1376.8 1097 1385.2 1057.2 1375.5 1056.1 1381.7 1040.8 1380.8 1028.1 1379.9 1090.1 1379.6 1085.3 1376.4 1099.9 1376.5 1109.1 1385.3 1110.7 1380.6 1047.3 1378.8 1092.2 1380.3 1109.8 1376.2 1066.3 1384 1077.3 1380.7 1027.6 1376.6 1045.4 1384.3 1101.5 1377.5 1109.3 1375.5 1077.4 1385 1052.6 1384.8 1083.1 1375.7 1051.5 1379.8 1043.1 1382.8 1036.4 1383.2 1048.1 1375.9 1073.6 1376.2 1072.8 1383.2 1077.1 1379.9 1022.2 1380.4 1028.4 1381.8 1031.8 1381.1 1053.4 1379 1083.7 1376.9 1035.5 1384.8 1051.3 1383.8 1104.3 1380.1 1033.5 1376.2 1104.8 1376.4 1067.4 1380.7 1030.4 1380 1035 1380.7 1068.4 1378.9 1038.3 1379.3 1038.8 1376.5 1042.4 1384.1 1068 1384.3 1020.4 1384.8 1066.7 1383.3 1074.7 1382.2 1041.3 1382.8 1034 1377.9 1022 1379.2 1069.6 1378.2 1105.9 1376.1 1075.5 1377.6 1077.1 1383.2 1088.4 1375.8 1043 1381.3 1114.9 1375.6 1079.3 1382.2 1098.5 1378.7 1098.1 1379.9 1108.9 1375.3 1110.8 1379.4 1058.7 1376.1 1042.9 1382.7 1085.2 1376.8 1052.6 1376.6 1038.3 1377.4 1051.3 1385.1 1116.3 1383.3 1065.8 1380.3 1095.1 1384.4 1092.3 1381.7 1038.4 1381.6 1101.5 1383.2 1028 1382.5 1053.1 1376.9 1113.3 1382.1 1091.8 1376.6 1099.9 1384.7 1107.3 1382.8 1100.3 1383.4 1076.6 1379.6 1099.5 1383.2 1104 1378.3 1112.8 1380.6 1111.3 1376.4 1113.5 1383.2 1043.6 1383.7 1041.6 1377.2 1063.7 1377.6 1067.1 1384.4 1085.9 1382.4 1057.2 1383.2 1096.5 1382.2 1110.9 1383.6 1058.6 1376.1 1082.7 1383.7 1052.1 1381.3 1100.6 1383.3 1117 1381.7 1117.9 1378.3 1182.7 1381.1 1165.8 1381.4 1143.9 1379.2 1145.4 1385 1167 1379.9 1123.8 1379.7 1173.7 1381.3 1170.4 1384.6 1126.4 1383.5 1120 1384.8 1131.6 1379.7 1194.6 1380.6 1134.9 1385.4 1166.3 1385.4 1148.7 1381.8 1194.4 1381.9 1197.1 1379 1184.2 1378.7 1159.5 1377.3 1130.9 1385.9 1153.6 1384.7 1137 1380.5 1124.8 1382.3 1186.8 1381.9 1147.3 1385.7 1189.4 1383.3 1122.8 1383 1152.8 1386 1146.1 1383.3 1168 1380.7 1159.1 1383.4 1190.4 1381.8 1146.2 1386.2 1121.3 1384.9 1172.2 1382.3 1153.1 1384.1 1189.1 1383.9 1177.6 1377.6 1143.1 1378.5 1194.2 1385.4 1128.4 1382.6 1163.6 1377.7 1148.5 1384.1 1168.8 1379.8 1178.7 1379.9 1160.9 1381.1 1196.2 1383.2 1182.1 1383.4 1147.6 1386.1 1174.4 1383.6 1139.2 1378.7 1163.4 1384.8 1181.2 1380.4 1128 1382 1188 1378.7 1176.7 1378.8 1142 1377.7 1140.8 1380.8 1195.3 1386.1 1131.8 1380.1 1193.4 1379.1 1142.7 1381.3 1125.4 1379.6 1148.7 1380.8 1195 1379.7 1133.2 1385.6 1153.3 1384.9 1168.5 1384.4 1142.2 1378.6 1178.2 1381.5 1162.1 1383.4 1177.9 1379.8 1146.1 1385.6 1159.7 1379.9 1167.9 1379.6 1179.4 1377.6 1183.9 1382.4 1145.4 1385.8 1138.2 1379.5 1122.3 1382.3 1178 1383.5 1150.2 1384.6 1125.7 1380.1 1169.1 1386.1 1168.2 1383.6 1179.7 1380.9 1193.1 1384 1144.4 1380.8 1182.2 1380.4 1131.7 1385.2 1159.9 1382 1171.1 1385.5 1127.5 1380.3 1122 1381 1157.5 1385 1171 1382.5 1149.5 1382.5 1138.9 1385 1180.8 1384.9 1128.9 1383.4 1178 1381.8 1189.7 1385.5 1177.1 1384.8 1169.4 1385.3 1127.3 1383.7 1173.9 1382.8 1139 1377.9 1165.7 1384.8 1138.8 1379.2 1134.8 1378.1 1273.6 1386.2 1287.8 1381.2 1276.3 1378.9 1291.8 1380.9 1198.4 1383.4 1213.5 1380.5 1204.6 1381.9 1260.1 1384.8 1202.4 1385 1210.4 1380.1 1268.4 1381 1235 1382.9 1222.4 1384.7 1221.4 1385.1 1288.5 1382.6 1201.4 1384.6 1201.2 1382.4 1245.4 1378.8 1268.5 1384.2 1263.5 1381.5 1255.3 1383.1 1223.3 1385.3 1309.4 1384.8 1305.6 1380.9 1308.4 1378.8 1251.5 1379.4 1248.8 1383.8 1277.3 1382 1236.2 1379.8 1243.1 1380.6 1219.7 1384.2 1255.8 1381.8 1220.1 1384 1220 1380.4 1260.7 1384 1306.9 1384.3 1304.1 1385.7 1278.9 1384.1 1205 1379.9 1199.5 1385.3 1278.8 1383.4 1227.5 1381.2 1216.3 1383.4 1308.9 1380.8 1202.9 1379.7 1237.8 1385.6 1288 1382 1209.4 1379.1 1215.2 1384.6 1250.7 1386.3 1300 1384.7 1251.3 1384.9 1212.4 1379.1 1261 1382.4 1221.4 1380.3 1200.4 1385.7 1277.5 1386 1307.7 1381.8 1280 1381.4 1288.8 1385.1 1213 1378.4 1221.9 1383 1240.4 1378.3 1290.9 1384.7 1249.9 1378.6 1297.5 1382.6 1205.9 1380.9 1267.9 1385.5 1252.2 1383.5 1221 1380.2 1299.4 1381.4 1209.6 1383.1 1212.1 1379.9 1249.1 1383 1269.2 1384 1247.2 1378.8 1279.1 1378.7 1250.7 1381.5 1273.3 1384.1 1224.8 1383.5 1275.4 1382.1 1213.9 1385.7 1265 1378.8 1224.7 1386.3 1223.6 1381.5 1286.2 1385 1268.9 1384.3 1202.3 1379 1307.2 1384.8 1202.3 1378.7 1224.9 1385.8 1222.6 1383.7 1302.1 1383.5 1300.9 1380.4 1215.2 1378.4 1282.7 1379.1 1306.9 1384 1218.9 1384.8 1216.2 1382.4 1209.8 1384.7 1297.6 1385.7 1198.3 1385.2 1260.2 1384.9 1254.2 1383.3 1264.5 1384.8 1206.7 1378.7 1259 1380.6 1242.4 1378.3 1281.4 1378.5 1290.8 1384.9 1249.2 1379.3 1270.7 1379.9 1246 1379.2 1307.3 1382.7 1237.4 1379 1279.7 1385.2 1292.9 1379.1 1239.1 1380.7 1283.3 1379.5 1265.9 1386.2 1284 1378.3 1206.4 1379.2 1275.5 1383.1 1256.2 1382 1243.6 1383.2 1270.6 1385.7 1280 1384.7 1300.2 1385.1 1278.2 1378.5 1274.2 1385.2 1246.2 1385.4 1218.1 1385.9 1247.4 1384 1226.3 1380.7 1237 1380.9 1208.6 1381.9 1307.8 1383.6 1302.3 1384.5 1291.6 1386.4 1282.2 1380.5 1225.9 1381.6 1200.3 1380.1 1297.2 1385.8 1346.7 1384.8 1396.6 1385.6 1398.8 1383.1 1321.6 1385.2 1345 1383.7 1351 1383.1 1418 1380.4 1369.3 1383.9 1370.2 1386 1355.5 1385.8 1387.1 1386.2 1319.9 1380.8 1342.1 1385.7 1311.4 1381.1 1390 1386.3 1329.6 1382.4 1386.8 1384.2 1393.4 1384.6 1337.7 1381.1 1313 1384.2 1333.3 1381.1 1417.8 1383.9 1376 1383.9 1376.8 1384.2 1343.9 1379.7 1317.4 1379.4 1350.4 1380.3 1322.5 1382.8 1418.4 1384.2 1340.5 1384.8 1329.8 1380 1343.8 1382.2 1387.1 1382.4 1391.4 1380 1414.2 1381.7 1403 1379.5 1402.6 1380.9 1405.6 1385 1385 1381.3 1311 1380.6 1411.2 1380.4 1383.7 1383.5 1383.9 1380.6 1326 1380 1419.9 1382 1382.9 1383.3 1334.9 1379.7 1311.6 1385.3 1324.5 1386.1 1350.6 1384.4 1325.4 1384.9 1338.1 1381.9 1368.4 1380.1 1337.7 1384.9 1341.8 1382 1395.5 1380.9 1331.6 1380.8 1352.9 1381.9 1381.7 1382.6 1407.2 1379.6 1384.2 1385.2 1336.2 1379.5 1359 1380.1 1361.4 1384.3 1320.4 1380.1 1363.6 1380.5 1335.7 1382.4 1323.1 1379.8 1350.3 1382.6 1414.7 1383.2 1317.9 1380.9 1393.2 1383.3 1407.3 1386.1 1405.9 1380.1 1415.5 1383 1336.7 1380.5 1406.7 1380.8 1319.2 1381.2 1413.3 1382.6 1391.7 1379.8 1360.6 1381.5 1332.9 1384 1350.3 1380.1 1420 1382.7 1330 1379.4 1383 1382.9 1312.6 1382.6 1392.8 1383.1 1336.1 1382.8 1377.6 1383.9 1326.1 1385 1415.7 1384.5 1405.8 1381.9 1410.9 1380.6 1335.3 1383.5 1410.8 1379.9 1334.2 1379.5 1359 1380.3 1331.3 1384.6 1375.2 1386 1354.9 1384.1 1311.3 1386 1336 1382.7 1367.2 1386 1365 1386.3 1379.4 1380.8 1403.2 1380.7 1421.8 1382.5 1335.2 1386.1 1345.9 1382.2 1348.3 1384 1312.5 1381.9 1328 1385.2 1309.9 1383.6 1338.8 1382.5 1372.8 1384.3 1325.3 1381 1323.4 1386.1 1326.6 1380.3 1368.3 1383.4 1409.1 1379.7 1336.1 1380.5 1375.4 1382.5 1355.7 1385.6 1383.9 1385.4 1417 1381.2 1415.3 1382.2 1315.7 1385.8 1321.6 1379.4 1342.3 1381.3 1418.1 1385.5 1356.9 1383 1404.9 1385 1383 1382.9 1322.9 1381 1383.5 1383.5 1399.5 1385.7 1417.6 1380.7 1318.4 1385.7 1373.7 1380.6 1387.3 1381.1 1336.4 1381.9 1368.5 1384.1 1318.1 1384.6 1379.8 1382.6 1385.1 1385 1311 1382.7 1385.8 1384.3 1382.4 1380.6 1417.2 1384.9 1336 1382.3 1417.1 1380.8 1355.7 1386.1 1410.6 1380.9 1478.7 1383.1 1473.1 1385.2 1431.7 1382.4 1438.4 1382.7 1424.6 1382 1453.2 1383.5 1427.8 1384.3 1494.7 1384.2 1449.3 1384.9 1455.6 1382.2 1459 1381.4 1474.1 1382.1 1450.4 1386.2 1481.1 1385.6 1471.4 1384.5 1476.3 1386.2 1437 1385.2 1445.1 1382.6 1485.3 1384.4 1487.5 1385.8 1467.3 1382.3 1423 1384 1477.9 1382.7 1427.2 1381.3 1435.2 1384.9 1422.1 1382.5 1442.3 1384.9 1498.1 1381.4 1430.6 1386.1 1496.8 1382.1 1447.7 1384 1446.6 1383.4 1458.8 1382.6 1426.1 1381.7 1434.4 1381.8 1470.1 1384.9 1442.1 1385.3 1478.1 1383.1 1459.8 1382.3 1493.6 1384.2 1425.8 1382.1 1475.4 1383.3 1477.2 1382.5 1483.4 1385.4 1429.1 1384.3 1436.6 1384.9 1484 1385.3 1439.7 1381.8 1473.1 1384.2 1432.5 1382.3 1466.8 1381.9 1470.8 1382.5 1441.8 1383.5 1463 1385 1424.2 1385 1438.9 1382.8 1471.3 1384.8 1469.3 1385.9 1437.6 1382.9 1473 1382.6 1434 1382.5 1481.4 1385.5 1477.2 1386.2 1483.2 1382.9 1446.2 1385 1426.1 1384.4 1428.7 1381.6 1461.5 1382.1 1493.8 1385.8 1457.5 1382.3 1431 1383.9 1462.1 1383.2 1477.2 1384 1481.8 1381.9 1427.2 1383.3 1459.2 1382.6 1473.5 1382.4 1446.4 1383.7 1476.9 1385.2 1450.5 1383.6 1493.5 1386.1 1469.6 1381.8 1457 1384.6 1443.3 1381.5 1497.7 1385.9 1431.8 1383.7 1469.7 1382.8 1427.1 1385.1 1481.4 1383.5 1428.4 1383.3 1429.1 1386.2 184.3 1340.5 191.6 1340 184.8 1339.8 201.9 1341.3 205.3 1340.1 215.3 1342 216.9 1340.7 232.6 1340.4 239.5 1340 233.7 1341.9 250.3 1342.4 248.2 1342.5 261.7 1340.5 260.9 1341.8 262.5 1340 277.7 1342.6 277.1 1342.1 278.7 1340.4 293.4 1341.1 301.7 1340.1 300.1 1340.6 292.5 1341.9 306.5 1340.2 306.9 1342.1 327.6 1341.4 317.1 1342 324.4 1342.4 328.6 1340.6 367.2 1342.6 341.1 1339.8 346 1339.8 346.2 1338.3 339.4 1343.1 347.6 1341.5 368.9 1342.2 340.2 1343.2 365.2 1343.6 361.8 1342.2 365.6 1339.1 358.6 1339.9 366.8 1338.4 353.4 1339.7 366 1339.7 367 1342.8 368.6 1338.4 371.2 1342.1 359.5 1341.6 331.4 1342.9 353.7 1340.4 344.4 1342.4 364.2 1342.9 338.8 1339.7 340.4 1338.2 343.9 1337.8 364.9 1339 332.4 1338 362.4 1338.8 349.9 1340 365.1 1343.4 343.1 1341.5 369.3 1340.5 369.5 1342.1 343.2 1342.9 423.6 1332 424.8 1342.3 418.8 1337.4 410 1343 431.5 1333.4 405.3 1335.7 456.9 1340.4 384.8 1343.5 377 1338.9 411.4 1340.7 411.1 1331.8 419.3 1342.2 442.2 1335.6 393.2 1341.1 443.3 1333.6 450.3 1344.6 411.5 1335.9 435.4 1343.7 391.4 1334.8 402.4 1340.9 390.1 1338.3 417.2 1340 386.4 1344.1 460.5 1338.5 442.7 1333.1 452.7 1338.3 439.7 1342.8 405.3 1343.6 391.9 1330.8 417.4 1343.3 451.8 1344.1 418.2 1343.8 422.4 1332.5 428.6 1341.9 410.6 1339.1 396.4 1334.4 410.3 1337.8 414.5 1331.8 374.5 1335.3 436 1341.1 394.5 1334.1 418.7 1333 426.1 1343.4 391.5 1338.8 436.3 1341.1 435.6 1340.6 397.6 1342.4 454 1331.2 455.6 1336.8 381.5 1331.5 442.9 1340.1 386.3 1337 429.2 1344.7 403 1341.4 395.2 1333.3 387.9 1336.3 427.4 1334.8 388 1333.6 381.3 1333.2 401.3 1337.7 389.9 1337.3 412 1344.3 416 1343.9 414.7 1333.3 425.2 1332.5 388.6 1331.5 434.6 1344.2 408.9 1335.5 410.7 1335.5 433.7 1336.1 387.2 1342.8 423.5 1330.6 447.4 1340.8 404.6 1339.4 453.6 1336.2 411.4 1334.7 421.9 1339.9 437.5 1344 386.6 1335.7 447.6 1341.7 425 1340.1 403.4 1343.9 421.5 1336.2 389.8 1332.1 451.6 1341.9 463.3 1338.9 511.7 1340.1 499.3 1343 497.8 1340.4 559.7 1341.1 511.4 1338.9 501.8 1340.9 544.4 1338.4 500 1339.3 499.2 1343.1 518 1338.5 496 1342.4 477.6 1341.5 462.8 1338 466.8 1342.3 476.1 1338.2 466.6 1338.5 538.8 1341.7 557.7 1343.3 519.3 1343.1 470 1343.2 506.8 1338 540.4 1342.7 501.7 1337.2 553.7 1341.9 524.2 1343.5 464.5 1337 473.7 1336.7 536.1 1341.1 472.5 1337.7 479.8 1340.9 532.3 1343.5 499 1343.5 506.9 1339.4 487.5 1338.2 564.6 1343.7 535.9 1337.8 479.7 1337.7 497.9 1341.8 466.8 1340.4 533.2 1336.8 507.4 1342.2 521.9 1339.8 554.6 1340.9 496.5 1339.4 561.2 1342.7 558.2 1340.6 475.7 1337.8 501.4 1341.5 460.9 1342.3 544.4 1340.2 461.1 1342.3 504.7 1341.3 521.3 1341.8 504.1 1343.4 562.5 1343.2 526.2 1338.8 500.7 1338.5 557 1342.2 544.6 1342.4 566.3 1341.5 494.5 1342 488.5 1340.9 477.4 1342.7 512.7 1338.5 559 1337.2 559.8 1342 476.4 1342 521.7 1343 523.1 1339.6 560.2 1337.2 543.5 1337.3 490 1337.4 553.5 1339.7 538 1338.4 538.5 1341.2 470.9 1340.1 537.6 1338.1 530.3 1338.6 500 1343.1 561.2 1343.7 506 1340.7 546.8 1342 509.2 1342.7 503.3 1343.3 511 1337.4 540.5 1337.6 533 1337 566 1340.4 539.5 1337.5 528.5 1339.3 487.1 1342.4 464 1340 469.7 1342.6 694.5 1326.1 633.4 1334.9 669.6 1340.2 616.2 1344.4 593.7 1328.2 683.3 1327.8 593.8 1335.6 615.2 1328.7 699.7 1335 679.2 1330.5 697.2 1329.9 696.4 1337.9 705.6 1341.1 657.1 1336.2 689 1334.4 581.3 1344 682 1339.3 673.3 1330.1 633.3 1342.1 704.3 1344.2 590.1 1339.3 646.2 1333.6 591.2 1328.2 634.2 1335.4 605.4 1332.9 646.2 1340.9 651.2 1328.7 693.5 1332.9 704 1345.4 587.3 1337.2 705 1333.2 645.2 1331.8 571.4 1329.6 584.9 1331.2 656.9 1336.8 702.3 1339.3 618.9 1344.7 657.6 1336.4 690.1 1339 618.6 1337.7 610 1345.1 602.1 1345.2 576.4 1325.6 646.1 1329.6 639.5 1327.8 686.5 1339 664.7 1344.2 708.6 1339.2 668.8 1325.4 574.3 1334.1 705.3 1331.8 648.2 1325.6 626.5 1343.7 651.2 1342.2 569.1 1329.5 592.8 1342.3 581.8 1344.4 605.4 1343.3 640.7 1332 704.9 1333.6 666.6 1326.8 685.5 1345.3 583 1340.6 605.8 1328.4 619.1 1338.9 703.1 1345.6 708.8 1338.1 660.3 1328.7 670.7 1336.6 618.4 1343.7 603.6 1328.3 589.8 1328.4 651.1 1341.7 590.1 1335.6 649.1 1336.8 626 1336.5 569.4 1326.6 627.5 1330.2 675.1 1330.3 684.6 1330.3 580.5 1335.1 622.5 1332.2 676.2 1329.9 662.7 1342.4 631.7 1335.6 698.8 1337.7 593 1326.8 579 1332.1 579.9 1338.6 627.6 1331.7 640.2 1344.4 602.1 1328.5 610.8 1332 696.9 1339.8 628.3 1328.8 573.7 1327.9 688 1338.6 589.6 1338.1 575.6 1335.7 615 1327.5 673 1340 640 1328.8 662.6 1334.2 661.4 1327.3 695.8 1325.5 599 1333.5 595.5 1327.2 665.2 1345.6 615 1330.8 662.8 1329.9 624.3 1339.4 628.6 1328.6 718.3 1335.5 830.6 1343.9 721.9 1334.6 769.3 1327.7 791.5 1334.5 808.4 1329.9 823.7 1341.6 767.5 1326.5 768.7 1326.2 793.4 1339 780.3 1345.2 715.2 1339.4 807.5 1325.9 749 1324.6 780.9 1339.5 752.2 1338.9 754.5 1339.3 743.5 1345.2 763.2 1323.4 720.9 1339.6 815.3 1337.6 728.7 1342.9 797.2 1325.9 756.2 1338.4 710.1 1324.3 752.9 1342.9 831.3 1330.5 820.6 1340.9 815.3 1336.5 828 1337.8 825.4 1336 733.7 1335 768.7 1330.9 755.3 1334.8 781.5 1328.3 743.6 1334.6 771.2 1332.7 790.8 1327.5 774.6 1329.5 803.7 1339.1 805 1334.9 740.1 1344.1 772.1 1331.8 745.1 1332.4 796.2 1341.7 768.6 1339.7 735.7 1333.5 753.4 1330.2 753.6 1340.2 799.2 1328 738.2 1340.9 789.6 1338.5 787.2 1338.9 743 1324.7 753.7 1324.1 827.1 1335.1 791.5 1345 807.9 1328.5 750.8 1325.8 806.8 1339.9 769.2 1331.6 742.6 1334.3 796.6 1343.4 813.3 1342.8 763.3 1332.8 748 1345.2 732.1 1326.9 744 1344 813.8 1330.8 813.7 1343.3 761.8 1327.7 804 1331.7 724.3 1343.6 763.4 1332.3 782.4 1329.1 712.2 1332.1 756 1323.6 755.1 1340.4 750.3 1338.6 785.9 1327.6 712.2 1338.4 784.3 1329.9 734.1 1342.5 820.7 1328.6 781.2 1336.2 749 1324.2 749.4 1337.8 783.2 1334.8 724.6 1328.1 747.7 1332.7 754 1343.5 723.9 1345.4 739 1342.5 739.4 1336.5 755.7 1324.2 806.9 1341.5 742.6 1340.7 768.2 1345.4 716.3 1331.9 737.5 1337.3 804.7 1342.2 776.6 1332 807.3 1325.7 741.4 1340.2 763.5 1345.6 720.8 1333.7 735.6 1323.4 721.1 1325.4 900.4 1333 916.6 1329.8 939.3 1334.9 972.1 1327.2 916.9 1334.4 900.7 1342.6 881.7 1343 899.1 1330.9 929.1 1336 890.4 1325.3 969 1331.6 870.6 1338 919.4 1330.7 895.6 1342.3 896.8 1332.7 969.1 1331.4 904.2 1327 934.7 1338.2 909.4 1332.4 884.4 1341 910.7 1342 901.1 1339.8 860.6 1328.3 969.6 1338.6 936.3 1334.5 912.5 1327.8 877.4 1337.8 938.4 1329.2 932.6 1326.4 928.9 1327.2 916.8 1330.4 921.6 1326.4 913.8 1337.2 873 1330.3 936.6 1335.6 929.4 1340.8 924.1 1328.3 909 1341.9 923.5 1340.2 899.8 1333.4 970.7 1341.8 933.6 1325.7 928.8 1324.1 966.5 1345.1 942.4 1329.3 956.2 1327.3 954.1 1335 859 1343.3 908.7 1341.9 937.7 1335.3 958.1 1327.9 962.3 1330.9 860.2 1330.9 864.9 1325 930.2 1326.1 875.9 1329.9 889.8 1343.9 963.1 1342.8 973 1333.2 950.3 1329.6 965.6 1341.5 942.9 1328.5 867.9 1344.1 921.8 1337.1 958 1326.6 939 1333.7 949.2 1333.6 880.2 1344.8 890.1 1340 954.4 1328.9 938.5 1332.2 883.4 1328.2 968.8 1331.6 916.8 1334.6 860.3 1340.2 944.4 1343 899 1328.1 897.8 1339.7 934.2 1332.4 918.6 1326.8 964.7 1333.9 916.5 1341 880.3 1339.5 898.5 1341.5 868.2 1329.5 931.6 1334.2 901.3 1336.3 882.7 1333.1 857.4 1341.2 886.9 1341.9 921.8 1336.8 930.4 1326.2 948.1 1329.9 958.1 1341 936.5 1341.6 908.3 1338.4 968.7 1327.6 869 1332.6 916.8 1326.7 883.1 1342.7 902.6 1326.7 878.6 1336.3 879.4 1334 1056.2 1334.3 1051.1 1342.4 976.7 1344.3 1004.6 1326.2 1091.3 1337 1056.3 1329.8 1093.4 1331.6 1085.1 1330 1061.6 1338.6 1030.9 1335.2 984.1 1338.5 1079.7 1328.5 1058.2 1340.3 989.6 1342.5 1107 1326.4 1012.1 1327.1 1012.7 1327.2 1048.9 1330.5 1020 1334.8 1030.9 1341.4 1084.5 1327.7 1008.3 1325.6 1024.4 1327.6 1080.6 1341.3 1126.1 1329.6 979.8 1340.8 1037 1344.3 1034.1 1331.8 985.3 1344.7 1052.3 1334.4 1040.9 1341 1101 1335.1 1001.4 1333.7 1110.2 1333.7 1075 1336.8 1044.6 1337.1 1011.6 1336.7 1106.1 1327 1030.5 1343.3 1123.5 1325.7 1069.9 1338.2 1102.8 1335 994.2 1331.5 1082.9 1340.2 1005.4 1338.5 1074.4 1338.8 977.5 1334.4 1023.8 1337.5 1025.6 1328 1076.5 1331.2 1094.8 1331.6 1057.5 1341.8 991.8 1340.3 984.6 1344.4 978 1340.1 1030.5 1329.1 1034.5 1335.6 1037.5 1327.9 1054 1331.5 1121.8 1333.2 1040.6 1330 1122 1331.9 1072.8 1342.3 1034.2 1340.8 1016.7 1327.6 980.6 1334.5 1107.6 1329.5 1041.4 1340.9 1016.3 1328.5 1053.4 1334 1117.4 1343.6 1010.5 1336.8 1037.7 1326.1 1042 1344 1020.4 1337.3 1082.6 1326.7 1115.2 1327.6 1020.2 1340 977.1 1333 993.5 1335 976.6 1328.5 1008.1 1327.1 988 1329.4 1053.2 1328.2 1099.5 1333.9 1012.6 1330.3 1102.3 1326.4 1087.4 1327.4 1118.3 1333.7 1065.4 1343 989.5 1326.7 1080 1337.3 1084.2 1331 1050 1329.2 1040.9 1331.1 1063.6 1331.5 1016.1 1338.5 987.2 1341.7 1049.8 1330.1 991.7 1335.7 1051.1 1340 1031.2 1333.8 1110.4 1331 1123.9 1343.5 1125.3 1344.6 1013.4 1342 1067.6 1329.5 1126.4 1338.6 1097.7 1336.7 986.3 1343 1001 1330.7 1068.2 1329.3 1044.8 1339.9 988.8 1338.8 990.1 1335.1 1073.3 1339.4 980.8 1329.3 1120.7 1333.3 1039 1333 1080.4 1340.5 1202.9 1339.4 1193.4 1340.2 1148.8 1343.3 1239.7 1342.1 1242.9 1339.9 1225 1338.3 1213.7 1341.7 1236.6 1342.5 1229.7 1338.5 1218.9 1340 1163.3 1339.2 1220.2 1342.6 1225.6 1341.3 1146.7 1337.7 1193.2 1338.1 1166.2 1337.3 1144.9 1341.7 1153 1342.6 1165.3 1342.6 1162.2 1338.5 1173 1336.7 1177.7 1339.3 1128.3 1342.7 1170.7 1336.6 1239.1 1338.2 1156.4 1336.8 1138.4 1341.6 1194.9 1340.2 1155.6 1338.6 1240.3 1339.2 1242.5 1342.9 1141.4 1342.6 1129.2 1341.6 1221.5 1341.5 1191.1 1342.4 1144.8 1340.4 1157.9 1339.4 1149.2 1341.6 1193.8 1342.1 1200.3 1340.8 1234.6 1342.4 1193.1 1338.9 1235.3 1339.2 1138.7 1339 1209.4 1343.2 1202.3 1341.3 1236.4 1342.1 1178.9 1339.9 1215.7 1338.8 1139.6 1341 1221.4 1338.3 1206.8 1342.9 1141.7 1337.5 1184.5 1339 1237.9 1343.7 1178.9 1342.2 1200.7 1337.8 1240.5 1337.8 1135.7 1339.8 1128.9 1340 1175 1343.4 1175.2 1342.6 1218 1340.8 1154.6 1338.8 1184.3 1339.4 1202.3 1340.2 1164.6 1340.9 1243.4 1338 1166.1 1336.7 1137.8 1337 1176.3 1342.5 1208.4 1343.5 1224.7 1340.8 1194.7 1336.7 1171.7 1338.4 1199.4 1337 1190.2 1339.3 1184.3 1339.5 1138.7 1341.8 1220.4 1340.8 1140.3 1340.8 1228.7 1343.6 1215.5 1336.9 1229.6 1341.3 1159.1 1343.1 1223.4 1343 1155.7 1340.7 1171.1 1338.7 1215.8 1341 1165.6 1340.4 1235.4 1340.6 1233.7 1340.6 1242.9 1336.8 1180.6 1340.5 1211.8 1343.5 1199.7 1340 1201 1340.4 1209.3 1343.3 1128.4 1338.9 1229.3 1337 1219.2 1336.8 1202.6 1342.3 1154.6 1339.3 1261.1 1340.5 1284.1 1339.1 1268.6 1338.8 1316.6 1341.6 1316.4 1334 1283.1 1336 1270.2 1341.9 1257.1 1338.4 1302.8 1343.8 1245.2 1334.3 1281.4 1343.8 1256.2 1342.4 1274.1 1338.3 1314.6 1331.4 1268.9 1332.7 1254 1334.8 1297.2 1338.7 1253.1 1341.9 1282.5 1332.5 1306.4 1342.2 1260.3 1343.9 1305.6 1333.7 1243.9 1342.8 1306.8 1331.9 1302.3 1341.5 1292.1 1342.3 1318.9 1335.1 1307.4 1343.6 1267.7 1340.2 1296 1342.6 1287 1334.4 1263 1338.2 1254.1 1342.7 1311.6 1333.9 1297 1340.1 1253.1 1341.6 1302.2 1334.8 1251.3 1334.5 1302.6 1337.1 1306 1332.8 1251.9 1335.4 1310.9 1332.8 1249.4 1341.2 1250.7 1340 1250.1 1334 1294.4 1342.9 1275 1336.9 1246.1 1335.3 1262.2 1341.7 1298.3 1341.6 1284.3 1340.4 1253.5 1336 1266.1 1334.5 1300.2 1333.5 1268.6 1334.5 1309.7 1339.6 1280.4 1335.9 1314.1 1343.9 1278.1 1338.5 1309.6 1334.1 1263.5 1331.9 1282.1 1341.4 1255.7 1336.6 1319.4 1337.3 1273 1342.4 1311.8 1335.8 1253.2 1339.5 1300.3 1343.6 1294.1 1334.9 1283.1 1334.6 1277.8 1337.1 1313.4 1343.4 1314.5 1337.3 1317.4 1332.5 1314.1 1339.6 1474.5 1341.3 1495.5 1339.7 1470.1 1343 1386.3 1343 1357.9 1342.7 1403 1341.3 1354.9 1342.9 1449.5 1340 1493.2 1340.5 1386.5 1341.3 1422.1 1343.3 1487.4 1342.2 1384.8 1340.1 1332.3 1341.7 1423.3 1341.5 1494 1341.3 1382.2 1341.3 1350.5 1343.5 1424.7 1341.8 1395.4 1340.6 1375.9 1341.6 1399.1 1343.6 1419.7 1340.5 1329.6 1340.3 1381.3 1342.8 1477.5 1340.6 1458.2 1341.4 1415.2 1341.8 1327.6 1339.9 1438.2 1342.4 1387.4 1343.4 1465.2 1340.9 1331.9 1341.9 1435.9 1340.5 1327.8 1341.6 1326.1 1342.6 1430.8 1340.8 1399 1340.6 1353 1340.4 1464.5 1341.5 1446.7 1341 1462.9 1342.1 1435.8 1341.2 1419.5 1340.4 1492.4 1342.4 1414.3 1342.2 1337.8 1341 1360.9 1343.1 1322.4 1341.4 1473.8 1342.8 1447.3 1340.9 1361.2 1342.5 1372.9 1342.6 1382 1342.7 1421.5 1342.9 1494.5 1341.2 1494.7 1339.7 1475.4 1339.8 1416.6 1341.2 1456.3 1340.9 1356.9 1342.8 1417.5 1342.7 1406.7 1339.8 1456.6 1340.5 1403.6 1339.6 1365.9 1342.3 1455.3 1342.2 1398.5 1342.6 1438.5 1340.5 1414.8 1342.1 1449.1 1340.4 1375.1 1341 1337.1 1341 1449.2 1342 1350.7 1342.6 1340.7 1342.7 1346.2 1340 1364.6 1341.7 184.7 1221.5 186 1232.4 192.6 1222.1 191.2 1233.1 204.1 1223 204 1234.3 218.2 1224.2 217.5 1235.7 237.1 1226.2 240.8 1233.2 237.1 1239.1 241.1 1245.2 257.5 1227.6 263 1232.6 259.1 1240.8 261.8 1247 282.7 1227.9 288.5 1234.1 283.2 1241.4 287.2 1247.9 312.1 1230.6 316.2 1236.7 311.3 1242.4 316 1248.7 345.6 1228.2 350.7 1234.6 345.8 1242.8 349.3 1248.1 380.6 1229.8 385.5 1236.1 379.9 1244 384.3 1250.6 418.5 1226.2 422.4 1234.3 417 1240.7 422.9 1247.1 457.6 1226 462.9 1232.6 458 1240.5 461.6 1247 499.9 1226.3 503.8 1233.3 499.9 1239.6 504.7 1246.2 418.9 1300 398.5 1256.1 279.9 1284.2 396.6 1241.3 406.9 1311.9 257 1246 384.9 1305.3 397.7 1279.9 424.6 1294.6 354.9 1277.4 353.3 1237 323.4 1270.6 307.5 1266.1 322.4 1288.3 423.7 1254.4 299.7 1229.2 403.3 1249.4 375.9 1311 309.4 1248.6 415.8 1317.8 320.9 1238.8 385.7 1230.3 378 1275.2 421.8 1291 352.4 1269.4 421.9 1303.6 279.7 1260.7 299.3 1271.4 353.2 1235 352.8 1293.4 235.9 1236.5 264.7 1256.6 422.6 1279.8 355.1 1253.3 258.7 1251.8 422.3 1241 258.2 1246.4 334.7 1266.6 426 1269.9 374.9 1265 376.2 1273.8 278.5 1242.3 373.5 1282.9 382 1270.7 287.1 1246.2 345.2 1258.9 284.7 1253.8 398.4 1310.1 415.8 1295.2 234.4 1240.9 347 1313.8 325.6 1249.6 395.1 1260.5 425.6 1251.1 421.8 1255.6 374.9 1298.3 287.9 1232.3 266.3 1271 280 1241 374.4 1279.3 416.1 1235 279.3 1279.7 348.5 1303.3 335 1227.4 233.8 1258 351.8 1309.4 323.9 1239.9 296 1237.5 307.3 1236.8 346 1283.9 403.6 1232.5 398.8 1282.1 352.4 1235.7 321.1 1282.4 385.7 1310.9 415.9 1257.9 396.7 1299.5 299.4 1239.7 298.9 1279.6 418.7 1261.9 301.5 1286.4 324.7 1290.4 384.4 1322.3 242.3 1261.4 238.2 1244.9 325.6 1293.1 323.4 1303.9 245.1 1255.2 342.2 1306.8 387.7 1322 272.2 1255.4 323.1 1285.6 323.2 1297.6 298.2 1274.9 397.4 1334.8 283.6 1270.5 366.7 1324.1 347.6 1308.4 368.9 1326 233.2 1246.8 316.3 1281.3 289.2 1281.7 297 1281 235.1 1232.9 327 1291.6 304.4 1293.8 374.9 1320.3 283.5 1267.5 401 1336.7 369.8 1313.8 287 1273 402.1 1341 266.2 1250.5 274.1 1268.5 282.6 1271.9 331.6 1303.7 350 1307.1 308.4 1276.3 310.8 1279.7 380.6 1328.9 370.6 1313.7 277.9 1279.4 245.8 1247.5 290.5 1266.1 374.5 1328.4 285.3 1265.6 397.1 1337.3 240.7 1252.9 402.3 1328.4 297.1 1278.4 393.5 1324.7 391.7 1331.7 292.4 1286.5 395.6 1327.3 368.6 1318.2 391.3 1328.7 328.5 1301.8 339.9 1312.3 243.1 1243.2 251.8 1267.9 367.6 1322.8 399.8 1333.4 277.2 1279.7 356.9 1317.6 300.6 1288.9 266.2 1248.1 322.9 1286 388.6 1323.9 301.3 1279.7 227.5 1246.4 250.8 1261.7 380.9 1318 232 1243.3 289.6 1275.1 271.1 1276.2 263.1 1266.3 246.5 1249.4 399 1331.7 309.6 1285.3 349.6 1314.1 259 1262.1 310.4 1276.6 359.6 1310.5 252.4 1260.1 311.1 1291.2 334.4 1294 310 1295 401.9 1332.7 268.8 1268.7 273.5 1277.6 299.9 1277.9 344.6 1298.5 292.2 1264.6 282.3 1276.9 341.2 1305.5 227.2 1227 301.3 1283.8 337.1 1309.3 303.9 1278.3 337 1296.5 361.4 1311.6 287.3 1272.4 234.6 1246.8 367 1323.3 297.2 1277.5 308.3 1293.2 389.7 1331.4 251.2 1263.3 346.7 1302.6 278.3 1267.9 229.7 1237 244.3 1242.7 258.3 1244.9 265.2 1247.7 283.3 1250.2 282.1 1254.7 302.4 1260.3 310.1 1266.9 315.9 1268.2 330.5 1281.1 340.5 1291.9 345.1 1298.3 348.4 1298.3 361 1312.6 366.9 1314 378 1326.5 383.4 1330.2 400.3 1332.7 240.9 1259.9 246.3 1258.6 252.6 1260.5 264.2 1268.4 277.5 1276.3 291.5 1280.5 297.3 1285.4 305.2 1290.9 320.2 1296.8 325.7 1299.3 338.5 1307.1 349.8 1310.7 360.6 1313.8 374.9 1320.4 373.4 1323.7 382.9 1327.5 577.4 1277.7 536.5 1263.8 425 1298.9 593.3 1136.3 579.5 1294.9 482.4 1319.9 516.8 1263.8 535.9 1256.1 575.7 1280.7 574.9 1260.1 483.2 1322.1 591.9 1284.3 551.8 1256.3 590 1282.3 503.9 1320.8 550.8 1225.3 592.1 1213.8 592.3 1257.1 574.6 1191.4 592.2 1234.1 422 1279.1 589.9 1144.7 564 1272.2 449.4 1310 564.6 1220.7 579.7 1242.5 549.6 1228.7 578 1323.7 420.8 1306.2 450.5 1273.3 486.5 1298 546.8 1313.2 506.6 1326.6 516.5 1287.8 454.4 1330.3 488.3 1317.6 574.7 1168.6 593 1195.8 485 1297.3 460.3 1255.9 589.4 1304.6 562 1282.8 589.4 1247.9 532.7 1303.2 421.4 1327.7 455 1305.1 562.6 1311.5 535.8 1284.6 561.3 1236.7 590.1 1244.1 517.6 1302.7 535.5 1295.2 561.3 1226.7 459.9 1298.7 589.1 1173 562.7 1265.4 423.3 1256.7 594.2 1238.4 504.1 1320 535.6 1228.8 589.2 1282.8 423.4 1269.6 532.9 1226.9 504.8 1298.4 592.6 1304.7 560 1192.9 574.4 1270.5 533.3 1307.1 538.2 1258 518.4 1319.9 420.8 1270.4 594.1 1235.2 547.6 1218.3 488.3 1272.6 456.2 1284.8 536.7 1223 592.6 1313.9 449 1302.6 562.8 1259 520.5 1281.7 423.9 1307 456.4 1263.1 594.6 1312.6 590.9 1282.8 454.7 1318.9 574.8 1302.8 591 1258 576.4 1311.2 423.7 1286.3 577.3 1197.7 586.5 1147.7 440.3 1323.4 457.1 1308.2 566.2 1179.8 546.9 1197 562 1177.6 458 1290.9 571.4 1160.6 589 1132.5 480.7 1273.5 487.6 1265.5 517.5 1223.4 507.6 1234 515.3 1218.7 453.8 1307.1 497.6 1252.8 454.7 1293.6 533.5 1197.8 500.1 1244.7 497.4 1247 478.4 1267.4 451.8 1300.8 544.5 1193.1 491.8 1253.1 499.3 1244.4 476.7 1271.9 543.9 1191.1 521.9 1223.1 497.2 1236.6 451.9 1294.5 536.7 1208.7 466.5 1276.7 454.6 1303 472.7 1283.2 500.4 1247.8 499.2 1239.5 583.2 1152.5 446 1320.4 489.9 1255.7 469.2 1271.9 541.8 1205.1 588.9 1155.8 563.5 1161 591.1 1146.8 530.4 1206.8 454 1296.5 452 1307.5 571.3 1163.4 477 1268.6 535.7 1199.5 442.9 1315.2 561.3 1165.7 481.5 1263.4 530.3 1197.1 545.2 1184 509.6 1233.8 520.1 1220.1 439.3 1324 485.1 1254.2 584 1149.3 528.4 1205.3 436.8 1317.6 519 1208.8 457.6 1299.6 592.2 1142.3 434.9 1328.5 566.8 1171.9 505.7 1233.6 442.7 1310 542.2 1197 441.3 1326.4 447.6 1317.7 464 1307.5 467.1 1302.5 483.3 1287.1 489.1 1282.6 496.3 1271.3 505.6 1262.8 510.5 1249.4 515.7 1248.9 525.5 1239.3 533.2 1232.2 542.3 1219.2 553.7 1204.2 556.6 1199.8 562.7 1194.5 572.9 1173.8 572.4 1171.3 588.8 1150.4 594.3 1143.2 598.2 1130.8 606 1124.7 1152.2 1306.9 1137.7 1224.1 1098.5 1327.4 1149.6 1237.7 1108.1 1164.3 1124.6 1303.5 1146.6 1230.2 1128.5 1186.1 1139.4 1248.8 1117.1 1232.1 1226.6 1294.7 1107.8 1209.9 1148.6 1220.8 1147.7 1253.4 1194.5 1263.8 1127.4 1300.7 1126.1 1187.5 1253.5 1332.4 1164.2 1325.2 1103.2 1325.9 1119.2 1197.1 1111.9 1221.6 1160.3 1279.2 1187.5 1328.1 1127.7 1189.2 1122.2 1184.8 1146.1 1239.4 1097.9 1321.1 1109.7 1296.5 1228 1305.4 1182.5 1314.4 1245 1334.3 1144.6 1302.1 1202.4 1263.7 1097.6 1215.7 1143.5 1297.7 1102.3 1292.2 1244 1307.1 1143.9 1320.8 1097.1 1177.1 1115.8 1297.6 1142.5 1326.4 1203.8 1268.9 1156.5 1279.5 1140.8 1222.4 1098.9 1129.7 1235 1291.3 1154.7 1236.9 1167.9 1330.4 1144.3 1325.9 1154.7 1260.5 1130 1333.5 1207 1289.4 1107.9 1223.1 1146 1251.1 1117.1 1303.1 1163 1314.9 1256.2 1330.9 1108.6 1173.8 1143.2 1222 1119.1 1191.2 1115.4 1292.4 1245.2 1301.8 1104.9 1325.8 1137.2 1317.3 1113.8 1259.3 1123.3 1263.6 1107.5 1311 1147.7 1231.3 1192.7 1307.6 1190.6 1268.4 1118.4 1175.9 1165 1270.9 1212.8 1326.7 1165.8 1309.1 1123 1293.8 1182.1 1277 1261.8 1317.6 1133.4 1193.4 1129.1 1222.7 1120.7 1260.8 1100.7 1300.7 1235.9 1309.3 1148.7 1211.3 1103.5 1238.9 1111.3 1160.6 1128.5 1318.3 1122.3 1202.2 1104.1 1141.4 1124.9 1276.4 1103.4 1220.6 1143.9 1284.8 1098 1300.7 1192.4 1260.3 1191.7 1285.7 1234.6 1310.9 1180.8 1302.3 1119.5 1231.2 1117.2 1243 1171.2 1311.9 1219.1 1282.9 1201.8 1282.3 1121.1 1334.8 1186.4 1285.6 1214.9 1316.1 1112.8 1287.1 1098.7 1254.8 1173.8 1264 1190.6 1291.4 1117.9 1312.4 1136.9 1210.3 1227.2 1322 1199.7 1325.5 1175.3 1261.8 1096.3 1210.3 1100.5 1148.5 1151.8 1233.4 1116.7 1265.9 1198.3 1327.1 1166.4 1241.6 1112.9 1210.7 1189.9 1282.5 1166.9 1273.4 1133.2 1253 1099.2 1161.5 1128.7 1195.9 1272.2 1324.6 1210 1301.2 1111.7 1232.8 1208.5 1268.2 1129.4 1242.4 1248 1327.1 1141.4 1241.6 1154 1298.6 1104.2 1257.3 1196.7 1331.8 1273.5 1326 1132.8 1290.1 1186.1 1284.3 1120.5 1219 1107.8 1159 1121.3 1213.8 1107.4 1250.9 1214.2 1319.5 1098.8 1274.1 1161.4 1232.8 1158.4 1334.3 1159.2 1302.3 1115.7 1282.3 1131.9 1222.9 1145.6 1290.5 1158.5 1320.3 1099.8 1171.3 1153.6 1302.8 1115.2 1265.3 1260.4 1330 1118.8 1172.4 1120.4 1181.6 1108.5 1319.6 1274.3 1330.8 1131.7 1255.4 1154.5 1264.1 1206.6 1330 1115.4 1318.7 1108.1 1319 1119.4 1240.5 1234.8 1296.1 1240.4 1310.6 1151.4 1273.3 1223.1 1287.4 1157.3 1334.5 1237 1301.9 1122.2 1316.6 1166.2 1234 1107.4 1256 1169.7 1304.9 1099.5 1147.9 1099.7 1239.5 1103 1327.5 1196 1301.2 1215 1322.8 1222.5 1317.3 1117.8 1297.3 1155.4 1318.5 1242.8 1328.3 1193.2 1288.7 1107 1236.3 1201.5 1274.8 1159.6 1250.7 1222.5 1314.8 1120.5 1186.1 1125.9 1195.8 1130.9 1199.2 1138.1 1213.9 1137.9 1214.6 1145.5 1225.4 1154 1225.9 1157.4 1233.8 1164.6 1236.7 1175.2 1246.1 1182.9 1250.1 1188.2 1259.3 1196.1 1267 1199.7 1263.7 1207.2 1277.4 1210.5 1280.7 1218.6 1287.8 1223.6 1293.2 1227.2 1300.7 1239.1 1310.3 1235.8 1314 1244.9 1323.8 1246.7 1323 1256.4 1331 566.4 1238.4 564.4 1226.2 563.2 1228 565.8 1195 565.9 1186.4 567.4 1222.5 567.2 1233.2 563.6 1238.9 565.6 1207.6 566 1241.3 565.9 1193.4 595.5 1205.3 592.8 1206.8 595.6 1155.3 591.5 1146.4 593.1 1137.6 591.8 1189.6 590.7 1179 592.6 1187.7 591.9 1167.2 591.7 1126.3 595 1157.3 620.1 1156.8 620.5 1122 619.4 1110.5 623.1 1147 622.8 1155 619.8 1078.8 619.3 1131.7 621.4 1106.8 622.3 1093.6 621.7 1111 619.4 1142.7 619.3 1193.6 650.6 1063.5 649 1043 647.4 1086.5 648.6 1074.7 648.6 1048.4 647.6 1092.3 648.9 1038.4 651.2 1038.5 647.9 1038.8 649.6 1093.7 646.9 1106.7 650.5 1186.5 648.8 1151.8 675.3 1003.8 679.2 1005.8 679.4 1054.3 679.5 993.1 677 1054.4 676.4 1002.3 674.9 1027.8 677.6 999.4 676.1 1036.6 675.7 1050.1 679.2 1017.8 675.1 1144.6 676.1 1083 678.6 1143.1 704.3 964.8 706.6 1024 704.7 994.7 704 984.1 705.8 969.9 706 990.9 703.1 953.4 705 956 705.7 995.4 706.1 1021.3 706 1011.2 703.1 1179.8 708 1131.9 707.4 1124.9 705 1058.7 705.3 1152.6 735 991.4 733.6 995.9 732.8 914 733.1 960.2 734.9 933 731.1 976.2 731.9 987.7 733.8 924.3 733.6 980.6 732.1 996.9 731.2 925.5 734.1 1136.5 734.1 1186 731.7 1010 733.7 1071.3 732.9 1080.1 763.5 914.4 762.6 939.3 760.5 969.8 760.3 915.7 760 951.1 762.6 921.4 759.6 941.8 760.7 937.8 762.4 889.3 759.3 961.6 763.4 896.9 759.9 1073 763.6 1046.7 764.4 997.9 764.1 990.3 762.2 1195.1 762.9 1182.1 788.9 957.3 791.7 897 791 953.9 788.2 907.4 791 923.5 791.8 911.1 789.4 887.6 788.5 950.2 788.4 952.1 791.2 923.2 788.6 872.9 787.3 1160.1 792.5 1192.3 788.3 1186.2 789.3 1049.6 792.1 1158 790.7 1029.9 787.3 1005.1 817.3 948.1 817.8 1005.8 817.3 1270.6 817.5 859.2 816.9 1117.4 817 1120.1 817 1078.6 817.9 1111.9 817.3 1252.4 818.5 1240.8 818.4 1315.1 817.5 1113.5 817.6 1227.9 817.2 964.3 817.7 1114 818.5 1015.8 816.9 1040.3 818.3 902.8 817.8 1140 818.3 1011.7 817.9 1306.1 818.5 1123.7 817.5 1163.8 818.1 1177.9 818 1038.8 818.1 1023.2 817.3 904.7 817.8 937.8 817.4 997.8 817.5 1053.8 818.5 1105.5 817.8 1046.2 817.8 1240.9 817.8 1098.9 817.5 944.9 817.3 899.7 817.4 876.8 817.6 1127.4 817.1 1213.5 817.7 1151.3 817.6 1231.7 818 914.6 817.8 982.3 818.1 1032.2 817.3 873.6 818.5 913.8 817.3 1295.9 817 1051 817.6 1177.9 818.2 1316.4 817.4 897.5 817.3 860 817.4 1149.7 818.4 904.5 817.4 1276.4 817.9 1045.8 817 884.2 817.3 1147.8 817 1094.3 818.2 858.8 817.4 1052.3 817.9 1204.1 818 1062.1 817.5 1152.5 817.7 1295.1 817.8 1133.4 818 1084.8 817.7 1170.1 817.9 1327.8 845.5 1089.1 846.6 1240.7 845.9 999.2 845.3 1052 845.7 1059.8 845.4 1082.6 845.9 903.4 846.1 1191.2 845.3 972.9 845.1 1078.3 846.1 1050 846 1141.5 845.1 880.5 845.8 1292.8 846.1 1066.1 845.4 917.5 846 1217 845.6 895.5 845.4 1189.9 846.2 1044.6 846.4 1039.6 845 952 846.4 1189.1 845.1 990.7 845.6 1082.9 845 1291.4 845.9 980.1 845 1125.5 846.5 1195.3 846.4 1268.6 846.1 882.1 845.5 1130.5 845.7 957.9 845.1 1264.8 846.1 996.6 845.8 1268.1 845.2 1152.9 845.4 1283.4 846.3 1303.9 845.6 1095.4 845.5 1021.4 846.5 1314.1 846.6 1285 845.8 1167.7 846.5 1059 846.5 1232.5 845.5 1025.3 846.1 932.8 845.4 946.8 845.2 1285.1 846.6 1243.4 845.8 1208.3 846.1 1064 845.8 915.6 845.4 1017.9 845.6 1167.1 845.4 967.6 846.4 1225.3 846.5 1223.8 845.3 1086 846.4 1236.8 845.4 1083.5 846 860.3 845.4 1206.1 846.1 1066.8 845.9 1104.9 845.6 895.5 846.2 1220.8 845.7 1219.4 846.3 1182.5 846.3 1312.5 845.1 1301 845.7 1223.2 846.2 901.7 845.9 897.3 846.2 1015.5 845.6 984.3 846.3 1158.4 845.5 1205.9 845.3 1234.7 846 1217.7 846 1321.6 846.1 1074.7 846 1123.4 845.5 1000.1 846.3 1242.3 846.6 1179.9 845.8 1042.1 846.1 1162.3 846.5 1209 845.6 986.9 845.1 1224.5 845.7 1041.8 845.1 1089.5 846.5 986.4 846.2 1214.3 846.1 1137.2 845.4 1174.4 845.9 1312.8 845.8 1022.9 846.5 1150.7 845.6 1162.7 873.3 946.9 874.5 1076.1 874.4 959.2 873.8 969.7 874.4 1139 873.7 1039 873.4 957.2 874.2 1005 873.2 1039.6 873.8 1322.9 873.7 1047.8 874.7 1197.3 873.8 1045.4 873.4 929.9 873.8 1159.3 873.2 1082.2 873.4 1141.2 873.6 1171.3 874.3 1048.4 873.7 895.3 873.4 1150.5 874.4 923.4 874.7 1288.1 873.7 1111.7 874.2 1013 873.7 1197.6 873.9 1063.7 874 912.8 873.8 996.7 873.3 1104.8 874.2 1105.5 873.9 1173.2 873.8 1319.8 873.4 862.1 874 1185.2 873.7 1045.9 873.6 972.5 874.4 1264.1 873.5 1123.7 873.8 920 874.3 1108.3 874.7 1286 874.5 981.3 873.3 1239.1 873.2 1181.4 873.4 1189.8 873.2 899.4 874.5 1100.6 873.8 1315.3 874.3 964.3 874.2 1039.5 873.8 1005.4 873.4 1000.5 873.5 947 874.5 1036.4 874 1239.7 874.2 931.8 874.6 1296.4 874.4 1013.1 874.4 1160 873.1 1035.7 874.2 1114.1 874.6 1230 874.4 1319.2 873.6 1285.1 873.1 1233.8 873.2 1093.1 873.8 892 874.1 1228.5 900.6 896.4 903.3 921.5 899.5 901.8 904.2 899.1 900.9 914.6 903.9 946.3 901.4 933.6 899.6 880.4 901.3 930.8 900.1 878.5 903.8 891.2 899.2 983.6 899.4 1031.3 902.4 1119.5 900.7 1085.9 900.9 1101.3 899.6 1111.8 898.9 1183 928.6 940.4 928.5 930.7 928.8 948.1 931.5 966.1 932.5 931.7 930.3 922.5 929 936.3 932.4 896.3 931.3 919.9 930.5 914.9 931.2 935.3 928.9 1079.1 927 1001.6 932.5 998.1 929.4 1128.2 927.2 1186.1 928.3 1193 957.8 966.2 958.6 922.2 958.1 980.6 959.6 979.3 959 925.6 957.7 959.4 955.8 982.1 956.1 964.2 956.9 928.7 960.4 969.2 959.3 968 958.5 1176.1 955.5 1077.9 956.4 1121.2 957.5 1185.6 956.5 1056.2 988.3 1010.8 985.8 980.1 987.4 960.2 987.3 967.1 987.8 953.6 988.3 1023.3 983.8 961.2 988.3 1019.5 985.1 1017.9 986.6 968.9 987.2 983.7 984 1176.7 987.5 1075.9 985.8 1148.8 985.4 1078.2 1014.4 1069.6 1012.2 1007.8 1014.2 1072.7 1016.8 986.3 1015 997.8 1012.8 997.6 1014.3 1073.5 1016.6 1018.1 1016.3 1046.5 1012.1 1065.3 1013.1 1072.1 1012 1188.6 1014.4 1139.6 1012.3 1136.2 1043.7 1078.9 1044.8 1077 1044.4 1041.5 1043.6 1082.8 1044.3 1059.4 1042.2 1101.6 1041.1 1062.6 1044.1 1087.1 1042.3 1031.1 1043.7 1066.4 1041 1063.9 1040.1 1188.1 1044.2 1198.5 1071.3 1093 1070 1166.8 1067.9 1109 1068.6 1093.8 1069.3 1133.5 1068.2 1155.4 1070.1 1094.1 1068.4 1125.2 1069.7 1123.1 1068.4 1110.2 1070.5 1086.2 1070.4 1195.9 1099 1140.1 1099.2 1136 1096.7 1129.6 1098.7 1144.4 1097.4 1139.4 1100.5 1141.6 1099.4 1200 1098.2 1180.2 1097.7 1201.1 1099.5 1135.6 1099.5 1141.2 1126.5 1192.2 1126.5 1233.9 1127.8 1204.7 1124.3 1215.8 1128.7 1224.8 1127.2 1243.7 1127.3 1259.9 1128.9 1241.3 1128.1 1188.5 1125.4 1238.8 1127 1252.2 978.1 1034.6 689.9 1127.3 661 1111.2 739.8 1034.1 920.7 1093.2 903.2 906.9 1035.4 1154.4 1041.7 1142.2 917.1 1171.7 964.7 1106.9 627.1 1078.8 950.7 1162.4 792.8 951.8 819 1154 969.2 974 704.4 1008.4 964.4 1002 1032.9 1100.3 700.3 1063.2 674.8 1181.1 619 1138.7 789 897.6 714 1203.6 1018.7 1089.3 1025.4 1188.8 1018 1150.8 879.1 1045.9 950.5 1091.6 1073.2 1115.9 1037.6 1164.1 819.5 1156.2 744.8 1028.6 883.7 1196.6 723.9 1164.9 922.3 1181.8 751.4 1106.2 1032.8 1185.5 941.8 1159.3 911.1 1065.7 699.9 1088.7 1075.1 1200.7 628.1 1114.1 722.5 1163.7 695 1150.6 701.8 1043.5 1072.9 1109.3 886.1 969.7 969.4 957.3 931.7 982.4 1065.7 1123.3 928 910.9 1057.2 1155.6 1045.1 1165.5 636.8 1168.5 790 949.4 1033.8 1146.3 774.9 915 918.3 914.5 722.3 948.7 690.3 1147.9 735.9 1202.5 741.5 1148.4 959.9 1107.4 897.2 929.4 1004.2 1189.2 861.9 936.5 649.1 1080.7 1072.7 1130.3 742.1 1068.9 624.5 1179.9 1000.6 1263.9 588.7 1320.3 1017.1 1308.7 688.1 1324.7 924.4 1223.8 1111.5 1302.9 673.5 1319.5 900.4 1297.3 587.7 1252.5 1007.6 1219.3 678.8 1231.4 892.5 1242.3 1003.3 1279.4 1002.1 1321.4 1106.2 1249.7 772.5 1311.3 755 1323.4 757 1296.4 713 1305.1 728.1 1276.4 969.6 1314.2 649.3 1247.2 688.8 1309 942.6 1304.6 1016 1255.1 845.2 1216.4 765.8 1294 715.4 1311.4 689 1278.4 948.1 1253.6 936.9 1274.1 599 1237.4 930.7 1313.8 945.8 1317.2 938 1310 1032.8 1293.5 864.3 1245.6 702.1 1234.2 633.4 1273.2 732.9 1290.4 1027.4 1259.4 1063.7 1314.7 677.9 1292.9 680.8 1230.5 693.4 1251.4 576.5 1222.4 1015.8 1317.4 1046.8 1232 585.3 1316.7 778.2 1268.1 957.3 1287.3 753.3 1244 635.5 1304.1 1069.8 1225.3 695 1286.7 718.7 1283.2 848 1258.8 636.7 1276.1 1017.9 1242.3 867.9 1312.7 885.8 1268.3 1082.3 1310.2 1120 1263 838.1 1279.3 1034 1295.8 874.6 1285.7 1061.7 1269 644.5 1247.7 706.3 1235.8 1108.8 1289.7 1010.7 1279.7 858.7 1254 1061.7 1276.2 795.3 1306.8 1049.5 1328.2 836.7 1276.6 1026.2 1276.7 683.6 1282.1 740.4 1258 996.8 1268.6 915.9 1263.4 635.1 1310.2 998 1303.5 907.4 1247.4 847.8 1314.7 1003.2 1293.1 919.1 1246.9 602.7 1315.8 582.4 1257.5 792 1303.1 955.2 1317.5 1083.2 1259.7 709.1 1239.9 753.6 1236.9 1100.4 1291.5 842.1 1229.1 1073.4 1256.5 995.2 1251.4 721 1242.2 866.2 1261.2 886.3 1304.4 696.5 1241.4 855.5 1274 817.8 1270.7 662.9 1240 971.8 1297.1 950.2 1297.5 854.3 1250.4 1074.5 1287.5 824 1258.5 779.4 1326.9 795.5 1312.2 640.7 1293.8 721.7 1255.1 739.2 1273.7 925.9 1274.8 1045.4 1244.7 1042.2 1277.9 1007.7 1273.5 713.7 1319.8 922.1 1305.1 859.4 1304 1097.8 1306.7 1104.6 1268.6 736 1318.9 1030.5 1319.3 811.6 1275.5 1092.8 1251.1 663.7 1247.1 738.6 1275.9 782.8 1280.3 591.8 1267.8 851.5 1228.5 836.8 1320.7 931.2 1324.1 1044.8 1283.7 584 1229.5 888.9 1315.5 754.6 1241.4 989.3 1288.1 829.4 1240.8 876.6 1291.4 962.7 1320.5 614 1314.5 748.9 1275.7 761.3 1312.5 814.7 1231.7 832.8 1243.8 581.1 1227.8 781.4 1279.3 572.7 1242.1 1067.8 1288.6 1110.8 1288.4 1096.6 1302.3 785.1 1227.7 653.5 1311.2 936.1 1262.7 662 1297.6 1083.2 1256.9 1120 1287.6 686.7 1248.5 963.3 1322.6 684 1255.6 650.9 1251.9 696.3 1275.9 703 1299.7 704.1 1259.1 802.4 1246.7 600.5 1234.9 575 1300.7 599.4 1282.2 1060.8 1295.3 740.6 1274.3 807.1 1265.4 601.9 1244.9 651 1251.8 754.1 1236.9 910.6 1250.8 852.8 1302.5 845.5 1306.7 1000.9 1279 689 1226.2 953 1270.6 732.1 1233.8 671.2 1319.6 831.7 1315.9 1036.2 1256.9 696.5 1319.2 702.4 1293.8 1086.8 1280.9 805.7 1325 1046.5 1322.5 960.7 1253.9 598.8 1221.4 1079.5 1288.5 1057.6 1325 702.7 1326 722.8 1248 721.8 1328.1 1088.6 1268.9 837.1 1313.9 1014 1320.1 771.4 1254.9 854.1 1323.1 909.2 1317.9 680.1 1285 1076.2 1291.1 1008.4 1312.5 815.6 1302.1 952.4 1278.2 858.1 1312.7 1056.7 1327.4 774.2 1300.9 874.9 1316.2 704.4 1281 713.1 1312.1 962.6 1216.9 631.9 1242.8 897.2 1309.7 761.3 1233.1 894 1295.3 808.8 1259.6 762.9 1254.9 1018.9 1272.1 964.3 1289.1 698.3 1260.6 940.7 1317.2 1076.4 1244.6 714.8 1236.4 676.3 1272.6 966.9 1321.6 896.9 1243.4 779.1 1243.1 725.9 1291.5 847.9 1247.1 724 1320 918.7 1294.1 749.3 1262.9 990.7 1219.7 931.5 1324.9 921.4 1227.3 590.9 1310.5 674.1 1276.4 930.2 1300.8 730.5 1301.5 1074.3 1281.1 790.1 1301.8 1052.1 1301.9 1081.8 1310.2 1097.9 1257.1 942.1 1252 636.9 1267.7 1091.9 1262.4 742 1322.5 1111.7 1308.1 766 1313.8 608.3 1218.2 607.1 1267 704.9 1316.9 817.8 1316.2 840.4 1271.1 758.8 1227.2 822.1 1324.5 1106.1 1322.9 626.1 1278.5 1030.5 1244.6 608.2 1251.6 618.6 1306.6 963.8 1327.5 600.1 1303.3 1008.3 1248 615.8 1326.8 1006.6 1231.3 675.1 1299.3 666.2 1277.8 654.7 1235.1 838.4 1288.4 1037.7 1215.9 767.2 1231.8 875.9 1246.2 754.3 1326 929.1 1300.2 905.1 1251 948.5 1326 621.4 1315.2 761.3 1251 932.3 1316.2 664.1 1250.4 847.5 1251.4 850.8 1327.6 586.5 1277 683.4 1246.3 895.8 1324.2 830.4 1290 956.5 1316.9 1103.5 1266.8 669.8 1321.7 904.8 1318.9 653 1310.9 637.3 1241.4 638.9 1270 800.5 1299.2 1087.5 1277.2 890.2 1275.2 782.7 1258.9 575.2 1257.8 969.5 1311.7 949.2 1278.3 798.1 1249.4 705.6 1328.3 895.2 1274.5 866.3 1283.5 733.8 1275.9 808.8 1320.1 1061.8 1261.7 822.6 1253.6 1095.8 1242 836.9 1218.8 825.5 1280.3 580.2 1244.3 847 1281.7 739 1228.5 750.4 1268.4 629.3 1293.9 693.2 1287.4 962.3 1219.4 845.8 1297.4 1063.5 1302.2 1032.5 1299.7 695.6 1313 609.8 1323.7 613.2 1317.4 616.4 1301.7 614.1 1291.7 619.7 1280.1 624.9 1279.2 629.9 1264 633.8 1262.1 641.6 1249.1 649.2 1239.9 660.8 1239.7 666.2 1236.1 677.6 1235.5 691.4 1235.8 696.3 1243.6 700.6 1242.7 709.1 1258.6 708.4 1270.1 709.7 1275 717 1277.3 716.4 1292.6 718 1308.5 715.8 1310 717 1318.8 1084.2 1322.5 1080.7 1317.9 1075.9 1303.7 1074.2 1297.6 1071.7 1288.8 1066.1 1281.3 1058.9 1262.4 1055.5 1260.8 1049.3 1247.8 1043 1240.7 1031.7 1240.6 1022.1 1237.2 1015 1235.2 1009.6 1236.4 995.4 1239 988.6 1248.6 985.6 1251 980.6 1262.2 977.4 1273.1 979.4 1283.7 973 1292.1 972.4 1301.8 972.4 1316.1 969.5 1322 723.3 1331.2 722.7 1326.8 724.7 1315.8 725.6 1305.6 728.2 1302.3 728.8 1290.9 729.1 1288.3 727.2 1281.5 732.7 1269.1 732.8 1265.4 736.9 1255.8 735.6 1253.8 737.7 1245.1 741.8 1234.5 745 1230.3 746.8 1220.7 749.9 1219.8 756.9 1213.3 761.1 1208.9 773.4 1202.9 773.1 1204.5 782.9 1204.6 792.1 1206.3 797.7 1205 799.5 1214.1 810.6 1220.6 812.7 1219.4 817.5 1231.9 820.5 1240.7 818.2 1241.3 822.7 1250.8 822.4 1258.5 824.1 1267.9 828.4 1269.7 830.7 1286.7 830 1284.7 831.4 1297 828.5 1299.8 833.4 1312.9 830.1 1320.5 966.8 1334 970.3 1323.3 965 1315.4 966 1306.8 964.5 1299.5 962.9 1294.3 965 1292.8 963.6 1276.8 959.5 1271.7 958.5 1267.2 956.7 1261.1 958 1249.4 954.5 1245 954.7 1236 946.8 1226.9 945.7 1226.7 942.3 1218.8 938.4 1216 931.9 1210.1 924.7 1206.5 916.1 1202.1 907.7 1202.3 902.5 1207.6 893.5 1210.3 889.5 1212.1 883.9 1218.7 878.6 1224.4 875.4 1231.9 872.4 1237.7 868.9 1248.5 869.8 1253.2 864.8 1257.8 866.6 1268.9 865.3 1274.3 861.3 1285.3 862.1 1289.4 864 1294.2 861.6 1298.6 862.8 1308.7 858.8 1315 1268 1229.3 1274 1230.5 1272.7 1234.2 1269.5 1235.8 1267.7 1242.7 1273.1 1243 1272.9 1248.9 1267.5 1249.2 1268 1259.8 1272.4 1259.8 1305.3 1231.6 1310.5 1231.9 1310.3 1235.7 1305.1 1235.5 1304.8 1243.6 1309.7 1244.6 1309.1 1251 1305.6 1250.3 1306 1259.4 1310.6 1259.3 1310.9 1266.6 1304.8 1266.3 1338.6 1231.3 1343.3 1232.9 1343.4 1236.8 1339.7 1236.1 1338.4 1245.7 1343.4 1244.3 1343.1 1252.5 1340.2 1251.8 1371.6 1231.9 1375.1 1231.6 1375.4 1245.5 1371.8 1245.2 1398.8 1232.5 1402.6 1232.9 1403.7 1245.3 1398.4 1244.4 1424.9 1232 1427.7 1231.6 1428.1 1243.2 1424.4 1243.2 1446 1230.7 1449.4 1229.3 1449.8 1242.5 1444.4 1242.4 1461.3 1227.8 1465.9 1227.2 1466.7 1239.6 1462.9 1240.8 1476.1 1227 1480.4 1226.7 1480 1239.1 1475.4 1238.9 1489.7 1227 1494 1226.7 1493.1 1237.9 1488.4 1238.8 1357 1259 1362.7 1256.9 1367.6 1259.7 1378 1259.4 1383.6 1257.9 1392.8 1256.9 1397.9 1256.3 1402.3 1253.8 1411 1253 1420.4 1251.9 1423.4 1251.9 1426.6 1253.4 1440.5 1250.6 1442.3 1249.5 1359.5 1275.8 1363.3 1277.8 1368.6 1276.4 1374.1 1274.8 1379.9 1272.8 1391.1 1273.2 1394 1271.5 1402.8 1269.8 1405 1271.1 1411.2 1268.6 1420.4 1268.8 1428.1 1269.5 1430.2 1267.7 1435.6 1267.9 1441.5 1265.7 1268.5 1330.6 1273.9 1330.5 1277 1326.8 1289.2 1326.9 1295.3 1322 1304.9 1321.8 1313 1321.3 1320.9 1316.4 1329.9 1312.4 1331.9 1311.6 1341.2 1302.1 1341.3 1298.1 1345.9 1288.2 1348.5 1289.4 1360.1 1296.3 1366 1294.4 1370 1295.9 1381.6 1292.7 1385 1292.5 1390.5 1291.2 1401.4 1284.9 1268.9 1308 1271.2 1299 1271.7 1286 1268.9 1289.3 1269.2 1282.9 1271.1 1279 1270.9 1297.3 1268.1 1291.7 1271.5 1301 1271.4 1300.5 1272 1259.6 1269.7 1270.4 1271 1277 1270.7 1301.6 1286.1 1310.7 1288.6 1292.6 1291.2 1311.6 1287.7 1315.6 1286.6 1282.8 1293.1 1326.4 1293.6 1329.7 1291.9 1308.4 1318.3 1304.4 1322.4 1328.2 1317.4 1286.1 1318.4 1298.3 1321.1 1325.7 1319.2 1279.5 1318.3 1282.1 1318.4 1320 1319.7 1300.7 1337.3 1322.2 1343 1304.5 1336.4 1312.1 1339.2 1300.9 1339 1296 1337.1 1311 1324.9 1303.3 1336 1307.1 1307.8 1294.5 1326.8 1316 1330.4 1320.3 1317.2 1321.4 1328 1293.7 1306 1313.8 1340.7 1331.3 1339.2 1324.4 1328.3 1293.3 1314.2 1326.5 1313.1 1306.1 1326.4 1281 1305.3 1290.8 1338.2 1322.4 1304.2 1288.8 1347.4 1289 1338.4 1311.7 1341.9 1319.8 1304.7 1321.5 1334.3 1282.3 1345.2 1295.8 1322.3 1308.3 1326.7 1310.8 1303.2 1326.1 1325.1 1285.3 1324.1 1290.2 1320.7 1318.8 1336.2 1288.7 1358.6 1305.1 1368.9 1283.2 1368.3 1284.9 1352.2 1296.4 1353.4 1281.9 1370.3 1305.1 1352.1 1299 1354.3 1279.6 1350.5 1278.6 1371.9 1303.4 1350.4 1282.2 1351.4 1289.4 1187.3 1229.4 1192.8 1235.2 1188 1243.3 1192.5 1249.3 1229.2 1231 1233.8 1235.9 1230.1 1245 1234.4 1249.2" fill="none" stroke="none" marker-start="url(#ca)" marker-mid="url(#ca)" marker-end="url(#ca)"/>
<path d="M89.3 1716.6 89.3 1727.2 89.3 1733 89.3 1739 89.3 1745 89.3 1750 89.3 1758 89.3 1769.6 89.5 1764.2 89.4 1765.5 89.7 1766.8 89.4 1768.8 89.8 1770.7 89 1771.9 89.4 1773.5 88.8 1775.7 89.2 1776.4 88.9 1777.9 89.8 1779.6 89.4 1782 89.6 1783.3 89 1785 89.7 1786.1 89 1790.9 89.4 1794.4 89.4 1796.8 89.6 1799.7 88.8 1802.5 89.4 1806.1 89.3 1809.1 88.9 1811.7 89.4 1814.9 89.3 1818.4 89.3 1827.2 88.8 1830 88.8 1832.7 88.9 1835.9 88.9 1839.4 89.1 1841.8 88.8 1845.9 89.6 1848.2 89.8 1850.5 89.5 1852.5 89.7 1854.7 88.9 1856.7 89.7 1858.8 88.9 1861.5 89.5 1863.6 89.5 1865.7 89.4 1867.5 89.2 1870.7 89.4 1872.2 89.4 1875.1 89.3 1876.7 89.7 1879.4 89 1881.4 89.1 1883.3 89.7 1885.5 89.8 1887.8 89.7 1889.6 89.2 1891.7 89.7 1894.8 89.3 1896.6 89.9 1898.7 89.1 1900.6 89.8 1903.5 89.3 1905.6 89.7 1907.8 88.8 1909.9 89.7 1912 89.2 1914.3 88.9 1916.1 89.5 1919.1 88.8 1921 89.3 1922.5 88.9 1923.8 89.5 1924.6 89.1 1926.1 89.6 1927.5 89.7 1927.7 89.4 1929.1 89.4 1930.1 89.2 1930.7 89.5 1932.4 89.5 1933.2 89.8 1933.8 89.4 1935.3 89.5 1935.5 89.3 1937.3 88.9 1937.9 89.9 1939 89.4 1940.1 89.7 1941 89.8 1942.2 89.2 1943.1 89.1 1943.6 89.3 1944.5 89.1 1946.3 89.9 1946.7 88.9 1947.9 89.2 1948.6 89.7 1949.7 89.3 1950.8 89.5 1951.6 89.3 1953.3 88.7 1953.7 88.8 1955.3 89.5 1955.7 89.8 1956.7 89.3 1958.2 89.4 1958.6 88.8 1959.7 89.8 1961.4 89.1 1961.5 89.5 1962.7 89.8 1964.4 89.6 1965.3 89.6 1966.3 89.2 1967.2 88.7 1968.2 89.2 1969.5 89.6 1970 89.5 1971.1 89.4 1971.5 89 1972.8 89.5 1974.4 89.5 1975.3 89.5 1975.6 89 1977.1 89.6 1977.9 89.5 1978.8 89.1 1979.7 89.2 1990.1 88.8 1993.4 88.7 1996.2 89.1 1999.4 89 2001.5 89.5 2004.9 89.7 2008.2 89.2 2011.2 89.3 2019 89.5 2035.4 88.9 2038 89.4 2039.5 88.9 2042.1 88.8 2044.4 89.2 2046.4 89.6 2049 88.8 2051.1 89.9 2053.3 89.9 2055.1 89 2057.4 89 2059.5 89 2062 89.7 2064.5 88.7 2066.7 89.5 2068.4 88.7 2071.2 88.9 2072.8 89.1 2075.5 89.8 2077.8 89.7 2079.9 89.3 2081.4 89 2083.6 88.8 2085.8 89.1 2088 89.1 2091 89 2092.8 89.7 2094.5 89.6 2097.2 88.7 2099.8 89.7 2101.2 89.9 2106.6 89.5 2107.2 88.7 2108.7 89.6 2109.2 88.7 2110.6 89.1 2111.3 89.7 2112.6 88.8 2113.7 89.6 2114.6 89.8 2115.5 89.5 2116.1 89.1 2117.3 89.2 2118.5 88.8 2119.7 88.8 2120.3 89.4 2121 89.1 2122.8 89.6 2123.4 88.9 2124.8 89.7 2125.1 89.2 2126.5 89.5 2127.2 89.7 2128.6 89.7 2129.9 89.5 2130.7 89.1 2131.3 89.1 2132.8 89.4 2133.3 89.8 2134.5 89.9 2135.7 89.6 2136.3 89.9 2137.5 89.5 2138.4 89.3 2139.2 89.1 2140.4 89.6 2141.2 88.9 2142.6 89.3 2143.9 88.7 2144.4 89.7 2145.8 89.1 2146.5 89.2 2147 88.8 2148.2 89.7 2149.2 89 2150.6 89.5 2151.6 89.1 2152.3 88.7 2153.8 89.2 2154.3 88.9 2155.5 88.9 2156.3 88.8 2157.2 89.3 2158.3 88.8 2159.9 88.8 2160.4 89.1 2161.1 89.1 2162.4 89.5 2163.3 89.2 2164.9 89.5 2165.4 89 2166.8 89.8 2167.2 89.7 2168.4 89.3 2169 89 2170.2 88.9 2171.8 89.8 2172.3 89.7 2173.3 89.4 2174.2 89.8 2175.5 89.4 2176.8 89.3 2177.5 89.6 2178.5 89.4 2179.3 88.9 2180.2 89.9 2181.6 88.7 2182.2 89.4 2183.5 89.9 2184.9 88.8 2185.8 89.9 2186.7 89.8 2187.4 89.5 2188.7 89.7 2189.7 89.7 2190.3 89.7 2191.6 89.9 2192.3 89.4 2193.9 89.6 2194.7 88.9 2195.2 89.1 2196.7 88.7 2197.7 88.8 2198.2 89 2199.5 89.6 2200.9 89 2201.1 89.7 2202.6 89.8 2203.7 88.9 2204.4 89 2205.5 89 2206.9 89.8 2207.2 89.9 2209 89.2 2209.9 89.8 2210.7 89.1 2211.6 89.6 2212.3 89.3 2213.1 88.9 2214.8 89.1 2215.7 89.2 2216.7 89 2217.1 89.5 2218.3 88.9 2219.5 89.3 2220.9 89.5 2221.4 89.2 2222.6 88.9 2223.3 89.4 2224.9 89.4 2225.2 89.9 2226.8 89 2227.4 88.7 2228.8 89 2229.8 89.6 2230.8 89.4 2231.2 88.7 2232.6 88.7 2233.5 89.6 2234.1 89.2 2235.5 88.9 2236.2 89.4 2237.2 88.9 2238.2 89.3 2292.3 277.3 1676 276.3 1678.2 276.7 1680.1 276.5 1683.3 276.2 1686.1 276.5 1687.9 277.3 1690.2 276.3 1693.1 276.6 1695.4 276.9 1698.6 276.7 1700.1 276.6 1706.4 276.7 1708.1 276.5 1710.7 276.6 1713.3 277 1716.2 276.2 1718.1 277.2 1721.4 277.1 1723.2 277 1725.6 277 1728.2 277.2 1736.3 276.8 1738.7 277.3 1741.4 277 1743.6 276.6 1746.2 276.4 1748.5 276.3 1750.6 277 1753.4 276.4 1756.4 276.5 1767 276.8 1768.2 277.4 1770.3 277.3 1771.3 277.3 1773.4 277.3 1774.2 276.4 1775.6 276.3 1777.7 276.3 1779 276.6 1780.7 276.2 1782.2 277.3 1783.3 276.7 1785.2 276.6 1786.8 277.4 1787.7 276.8 1789.1 276.9 1790.9 277.4 1792.7 277.4 1794.3 277.2 1795.4 277 1796.6 276.6 1798.9 277.4 1799.7 276.8 1801.4 276.9 1803.1 276.5 1804.9 276.7 1806.3 277.1 1808 276.8 1809.1 277.1 1810.2 276.2 1812.3 277 1813.7 277.2 1814.7 277.2 1816.6 277.3 1818.1 277.2 1819.1 276.4 1821.1 277 1822.4 276.3 1824.4 276.3 1825.9 276.5 1827.2 276.9 1828.2 276.6 1829.7 276.8 1831.3 276.8 1832.8 276.3 1834.7 276.5 1836.4 276.7 1837.3 277.1 1839.4 276.6 1840.7 276.6 1842.5 276.6 1843 276.2 1845 276.9 1846.3 276.7 1847.9 276.6 1849.2 276.8 1851.2 276.2 1852.9 276.5 1854 276.5 1855.7 276.7 1857.1 276.7 1858.5 276.3 1860.5 276.7 1861.3 277.2 1862.8 277.1 1864.4 276.3 1866.1 276.5 1867.2 277.4 1869.4 276.8 1870.8 277 1871.8 276.3 1873.6 276.4 1875.3 276.9 1876.2 277.1 1878.5 276.8 1880 276.7 1880.5 276.7 1882.4 277.3 1884 277.3 1885.2 276.6 1886.5 276.3 1888.7 276.2 1889.7 276.7 1891.9 276.5 1892.5 277 1894.7 276.4 1896.4 277.2 1897.9 277.2 1899 277 1900.1 277 1901.9 276.6 1903.3 276.3 1905.3 277.1 1906 276.8 1907.5 276.8 1909.2 277.3 1910.8 276.8 1912.3 277.3 1913.5 276.6 1915.2 277.1 1916.9 277.2 1918.3 276.3 1920 276.3 1921.2 276.8 1923.1 276.4 1924.2 276.8 1925.9 276.8 1927.7 276.4 1928.5 276.3 1930.8 277 1931.7 276.6 1949.8 277.3 1951.9 277 1953.6 276.2 1955.7 277 1957.9 277.2 1960.3 277 1962.5 277.3 1964.4 276.3 1965.9 276.4 1968.1 276.8 1969.6 276.3 1972 276.9 1973.9 276.8 1976.1 277 1978.2 276.7 1979.7 277.2 1981.5 276.4 1983.7 276.9 1986.1 276.3 1988 276.9 1990.2 276.3 1992.2 276.5 1993.9 276.3 2007.8 276.9 2009.8 276.8 2011.1 276.7 2013.1 276.3 2015.8 276.2 2017.4 276.2 2019.8 277.4 2021 276.6 2024 276.5 2025.3 277.4 2027.9 276.7 2029.7 277.1 2031.4 276.2 2033.4 277 2036 276.7 2037.4 276.6 2039.6 276.2 2041.9 277.3 2043 276.2 2045.3 276.4 2047.8 277.2 2049.5 277.3 2051.2 276.4 2053.4 276.7 2055.2 277.3 2057.8 276.5 2059.2 276.5 2061.4 277 2063.8 277.3 2065.1 276.4 2067.4 277.3 2069.5 277.1 2075.7 276.7 2077.8 277.1 2080.5 277.4 2082.7 277.3 2085.4 277.2 2088 276.9 2099.1 276.3 2099.5 276.8 2101 276.4 2102 276.3 2102.6 276.7 2103.9 276.8 2105 277 2105.6 276.8 2106.6 277.2 2107.5 276.4 2108.4 276.5 2110 277 2110.4 276.7 2112.1 277.3 2112.4 277.3 2113.3 277.4 2114.5 277.3 2115.2 277 2117.1 277.2 2117.8 276.4 2118.4 277.3 2120.1 276.5 2120.5 276.9 2121.5 276.4 2123.1 276.3 2123.8 276.7 2124.7 277.2 2125.9 277.1 2126.2 277.2 2128 276.2 2128.4 277.1 2130.1 276.8 2131.1 276.3 2131.5 277.2 2133 276.5 2133.8 276.7 2134.9 276.7 2135.5 277.1 2136.9 276.6 2137.9 276.5 2138.7 276.4 2139.5 276.7 2140.3 276.6 2141.6 276.6 2142.7 277.3 2144 276.5 2144.3 276.3 2146.1 277.1 2146.9 277.3 2147.6 276.4 2148.3 276.7 2150 276.3 2150.6 276.3 2151.4 276.9 2152.9 277.3 2153.5 276.5 2154.3 276.4 2155.2 276.2 2156.3 276.8 2157.7 277.3 2158.7 276.3 2159.3 277 2161.2 277.1 2161.4 276.6 2162.6 276.7 2163.5 276.4 2164.2 277.2 2166.2 277.4 2166.6 277 2167.4 276.3 2168.2 276.6 2170 276.8 2170.4 276.8 2171.7 276.4 2172.6 277.3 2173.6 277.4 2174.9 276.3 2176.1 277 2176.6 276.4 2177.9 276.4 2178.7 276.4 2179.6 277.4 2180.8 276.8 2181.8 277 2182.8 276.5 2183.4 276.9 2185.1 277.2 2185.7 276.5 2186.8 276.2 2187.7 277.1 2189.2 276.3 2189.4 276.8 2190.8 277.3 2191.3 276.3 2192.7 277.1 2193.2 276.6 2194.9 276.7 2195.4 276.3 2197 276.8 2197.7 277 2199 276.7 2199.6 277.3 2200.3 277.1 2201.7 276.8 2202.5 277.3 2203.5 276.6 2204.3 277.3 2206 276.3 2206.3 276.5 2207.2 276.8 2209 277.1 2209.7 277.4 2210.5 276.6 2211.5 276.9 2212.7 276.3 2213.7 277.3 2215.1 276.9 2216.1 276.8 2216.7 277 2217.4 276.9 2218.7 276.5 2219.7 276.4 2220.8 276.3 2221.6 276.3 2222.7 276.3 2224 276.2 2225 276.5 2226.2 276.6 2226.3 277 2227.4 277.2 2228.7 276.5 2229.8 276.5 2230.5 276.3 2231.4 276.5 2232.4 276.7 2233.6 276.9 2234.8 277 2235.8 276.8 2237.1 276.4 2237.5 276.2 2239.1 277.2 2239.6 277.2 2240.8 277.3 2242.1 276.6 2242.5 276.7 2244.2 276.8 2244.6 276.2 2245.6 277.3 2246.6 277.1 2248.1 277.3 2248.9 276.8 2249.5 277.3 2251 277.1 2251.3 277 2252.9 276.8 2292.3 464.5 2070.4 464.9 2072.4 464.5 2074.3 464.9 2076.1 465.3 2078.5 464.7 2080.4 464.8 2082.7 465.2 2084.5 465.2 2086.7 465.4 2088.8 465.3 2090.1 464.8 2092.2 465.4 2094.3 465.5 2096.4 464.6 2098.8 464.6 2099.9 464.9 2101.3 465 2102.6 465.3 2104.1 465.1 2104.7 465 2105.8 465.4 2107.2 465.2 2108.7 465.2 2110 464.9 2111 465.4 2112 465.4 2113 464.6 2114.8 465 2116.1 465.1 2116.6 464.5 2118.4 464.7 2118.9 465 2120.6 465.1 2121.1 465.3 2123 464.8 2124.4 465 2125.5 464.5 2126.2 465.3 2127.8 465.2 2129 464.4 2130.4 464.4 2130.9 464.7 2132.4 464.5 2133.5 464.5 2134.6 464.8 2135.6 465.3 2136.7 464.6 2138.8 464.9 2140 464.7 2140.8 465 2141.9 465.6 2143.1 465.3 2144.4 464.8 2145.9 465.5 2146.3 465.1 2148.3 465 2149.1 465.2 2150.1 464.9 2151.3 465.4 2153.1 464.9 2154.3 465 2155.4 464.7 2156.7 465.2 2158.1 464.7 2158.7 465.3 2159.8 465.3 2161.5 464.6 2162.6 464.7 2163.4 464.8 2165.1 465.1 2165.9 465.2 2167.5 464.6 2168.8 465 2169.7 465.4 2170.5 464.9 2172.2 464.4 2173.1 465 2174.3 465 2175.9 464.5 2177 464.7 2177.6 464.9 2178.8 464.9 2180.1 464.9 2181.2 465.6 2182.5 464.9 2184.1 465.2 2184.8 465.4 2186.3 464.5 2187.5 465.1 2188.7 465.3 2189.8 465.4 2191.6 465.4 2192 464.9 2193.6 464.8 2194.5 465.1 2195.6 464.6 2197.1 465.6 2198.3 465.5 2199.8 465.2 2201.2 465.1 2202.2 464.9 2203.5 465.4 2203.9 465.5 2205.1 465.1 2206.4 465.3 2207.9 464.5 2209.5 464.7 2210.8 464.8 2211.7 464.9 2213.1 464.8 2214 464.7 2215 464.5 2216.2 464.7 2217.8 464.6 2218.5 465.5 2220.1 464.5 2221.6 465.3 2222.5 465.5 2223.6 464.5 2224.3 464.5 2226 465 2227.5 464.5 2228 464.5 2229.5 465.5 2231.1 464.4 2232.1 464.6 2232.9 464.8 2234.1 464.7 2235.3 464.8 2236.9 465.1 2238.2 464.7 2238.7 465.1 2240.2 464.6 2241.5 465.5 2242.9 465.2 2243.5 465 2245.4 465.4 2246.7 465 2292.3 652.6 2272 652.6 2272.8 653.1 2273.9 653.7 2274.7 652.7 2275.6 652.7 2276.4 652.7 2277.3 652.6 2278.5 652.7 2279.2 653.5 2280.3 653.3 2281.9 653.3 2282.8 653.7 2283.2 652.8 2285 653.7 2285.3 653.7 2286.1 652.8 2287.9 652.7 2288.9 652.8 2289.8 652.7 2290.5 653.3 2291.6 653.6 2292 653.4 2293.9 653.2 2294.2 653.5 2295.4 652.9 2296.8 653.5 2297.8 653.2 2298 841.4 2288.5 841.4 2292.5 1029.5 2288.5 1029.5 2292.5 1217.7 2288.5 1217.7 2292.5 1405.9 2288.5 1405.9 2292.5 1592.8 2288.5 1592.8 2292.5" fill="none" stroke="none" marker-start="url(#cc)" marker-mid="url(#cc)" marker-end="url(#cc)"/>
<rect x="122" y="13" width="1422" height="660" fill="none" stroke="#555" stroke-width="2"/>
<path d="M122.3 673v-13M122.3 13v13M359.3 673v-13M359.3 13v13M596.3 673v-13M596.3 13v13M833.3 673v-13M833.3 13v13M1070.3 673v-13M1070.3 13v13M1307.3 673v-13M1307.3 13v13M1544.3 673v-13M1544.3 13v13M122 672.2h15M1544 672.2h-15M122 562.2h15M1544 562.2h-15M122 452.2h15M1544 452.2h-15M122 342.2h15M1544 342.2h-15M122 232.2h15M1544 232.2h-15M122 122.2h15M1544 122.2h-15M122 12.2h15M1544 12.2h-15" stroke="#555" stroke-width="1.6" fill="none"/>
<rect x="122" y="828" width="1446.6" height="671.5" fill="none" stroke="#555" stroke-width="2"/>
<path d="M122 1499.5v-13M122 828v13M363.1 1499.5v-13M363.1 828v13M604.2 1499.5v-13M604.2 828v13M845.3 1499.5v-13M845.3 828v13M1086.4 1499.5v-13M1086.4 828v13M1327.5 1499.5v-13M1327.5 828v13M1568.6 1499.5v-13M1568.6 828v13M122 1498.4h15M1568.6 1498.4h-15M122 1386.6h15M1568.6 1386.6h-15M122 1274.8h15M1568.6 1274.8h-15M122 1162.9h15M1568.6 1162.9h-15M122 1051.1h15M1568.6 1051.1h-15M122 939.3h15M1568.6 939.3h-15M122 827.4h15M1568.6 827.4h-15" stroke="#555" stroke-width="1.6" fill="none"/>
<rect x="89.3" y="1651.3" width="1503.3" height="769.3" fill="none" stroke="#6e6e6e" stroke-width="1.6"/>
<path d="M89.3 2420.6v-12M89.3 1651.3v12M277.2 2420.6v-12M277.2 1651.3v12M465.1 2420.6v-12M465.1 1651.3v12M653 2420.6v-12M653 1651.3v12M840.9 2420.6v-12M840.9 1651.3v12M1028.8 2420.6v-12M1028.8 1651.3v12M1216.7 2420.6v-12M1216.7 1651.3v12M1404.6 2420.6v-12M1404.6 1651.3v12M1592.5 2420.6v-12M1592.5 1651.3v12M89.3 2420.5h12M1592.6 2420.5h-12M89.3 2292.3h12M1592.6 2292.3h-12M89.3 2164.1h12M1592.6 2164.1h-12M89.3 2035.9h12M1592.6 2035.9h-12M89.3 1907.7h12M1592.6 1907.7h-12M89.3 1779.5h12M1592.6 1779.5h-12M89.3 1651.3h12M1592.6 1651.3h-12" stroke="#6e6e6e" stroke-width="1.6" fill="none"/>
<text transform="translate(122.3 712) scale(1 1.09)" font-family="'Liberation Sans', Arial, sans-serif" font-size="28.4" text-anchor="middle">-0.15</text>
<text transform="translate(359.3 712) scale(1 1.09)" font-family="'Liberation Sans', Arial, sans-serif" font-size="28.4" text-anchor="middle">-0.1</text>
<text transform="translate(596.3 712) scale(1 1.09)" font-family="'Liberation Sans', Arial, sans-serif" font-size="28.4" text-anchor="middle">-0.05</text>
<text transform="translate(833.3 712) scale(1 1.09)" font-family="'Liberation Sans', Arial, sans-serif" font-size="28.4" text-anchor="middle">0</text>
<text transform="translate(1070.3 712) scale(1 1.09)" font-family="'Liberation Sans', Arial, sans-serif" font-size="28.4" text-anchor="middle">0.05</text>
<text transform="translate(1307.3 712) scale(1 1.09)" font-family="'Liberation Sans', Arial, sans-serif" font-size="28.4" text-anchor="middle">0.1</text>
<text transform="translate(1544.3 712) scale(1 1.09)" font-family="'Liberation Sans', Arial, sans-serif" font-size="28.4" text-anchor="middle">0.15</text>
<text transform="translate(112 683.8) scale(1 1.09)" font-family="'Liberation Sans', Arial, sans-serif" font-size="28.4" text-anchor="end">-0.1</text>
<text transform="translate(112 573.8) scale(1 1.09)" font-family="'Liberation Sans', Arial, sans-serif" font-size="28.4" text-anchor="end">0</text>
<text transform="translate(112 463.8) scale(1 1.09)" font-family="'Liberation Sans', Arial, sans-serif" font-size="28.4" text-anchor="end">0.1</text>
<text transform="translate(112 353.8) scale(1 1.09)" font-family="'Liberation Sans', Arial, sans-serif" font-size="28.4" text-anchor="end">0.2</text>
<text transform="translate(112 243.8) scale(1 1.09)" font-family="'Liberation Sans', Arial, sans-serif" font-size="28.4" text-anchor="end">0.3</text>
<text transform="translate(112 133.8) scale(1 1.09)" font-family="'Liberation Sans', Arial, sans-serif" font-size="28.4" text-anchor="end">0.4</text>
<text transform="translate(112 23.8) scale(1 1.09)" font-family="'Liberation Sans', Arial, sans-serif" font-size="28.4" text-anchor="end">0.5</text>
<text transform="translate(122 1539) scale(1 1.09)" font-family="'Liberation Sans', Arial, sans-serif" font-size="28.4" text-anchor="middle">-0.15</text>
<text transform="translate(363.1 1539) scale(1 1.09)" font-family="'Liberation Sans', Arial, sans-serif" font-size="28.4" text-anchor="middle">-0.1</text>
<text transform="translate(604.2 1539) scale(1 1.09)" font-family="'Liberation Sans', Arial, sans-serif" font-size="28.4" text-anchor="middle">-0.05</text>
<text transform="translate(845.3 1539) scale(1 1.09)" font-family="'Liberation Sans', Arial, sans-serif" font-size="28.4" text-anchor="middle">0</text>
<text transform="translate(1086.4 1539) scale(1 1.09)" font-family="'Liberation Sans', Arial, sans-serif" font-size="28.4" text-anchor="middle">0.05</text>
<text transform="translate(1327.5 1539) scale(1 1.09)" font-family="'Liberation Sans', Arial, sans-serif" font-size="28.4" text-anchor="middle">0.1</text>
<text transform="translate(1568.6 1539) scale(1 1.09)" font-family="'Liberation Sans', Arial, sans-serif" font-size="28.4" text-anchor="middle">0.15</text>
<text transform="translate(112 1511.4) scale(1 1.09)" font-family="'Liberation Sans', Arial, sans-serif" font-size="28.4" text-anchor="end">-0.1</text>
<text transform="translate(112 1399.6) scale(1 1.09)" font-family="'Liberation Sans', Arial, sans-serif" font-size="28.4" text-anchor="end">0</text>
<text transform="translate(112 1287.8) scale(1 1.09)" font-family="'Liberation Sans', Arial, sans-serif" font-size="28.4" text-anchor="end">0.1</text>
<text transform="translate(112 1175.9) scale(1 1.09)" font-family="'Liberation Sans', Arial, sans-serif" font-size="28.4" text-anchor="end">0.2</text>
<text transform="translate(112 1064.1) scale(1 1.09)" font-family="'Liberation Sans', Arial, sans-serif" font-size="28.4" text-anchor="end">0.3</text>
<text transform="translate(112 952.3) scale(1 1.09)" font-family="'Liberation Sans', Arial, sans-serif" font-size="28.4" text-anchor="end">0.4</text>
<text transform="translate(112 840.4) scale(1 1.09)" font-family="'Liberation Sans', Arial, sans-serif" font-size="28.4" text-anchor="end">0.5</text>
<text x="89.3" y="2444" font-family="'Liberation Sans', Arial, sans-serif" font-size="15.8" text-anchor="middle" textLength="26.1" lengthAdjust="spacingAndGlyphs">0.1</text>
<text x="277.2" y="2444" font-family="'Liberation Sans', Arial, sans-serif" font-size="15.8" text-anchor="middle" textLength="26.1" lengthAdjust="spacingAndGlyphs">0.2</text>
<text x="465.1" y="2444" font-family="'Liberation Sans', Arial, sans-serif" font-size="15.8" text-anchor="middle" textLength="26.1" lengthAdjust="spacingAndGlyphs">0.3</text>
<text x="653" y="2444" font-family="'Liberation Sans', Arial, sans-serif" font-size="15.8" text-anchor="middle" textLength="26.1" lengthAdjust="spacingAndGlyphs">0.4</text>
<text x="840.9" y="2444" font-family="'Liberation Sans', Arial, sans-serif" font-size="15.8" text-anchor="middle" textLength="26.1" lengthAdjust="spacingAndGlyphs">0.5</text>
<text x="1028.8" y="2444" font-family="'Liberation Sans', Arial, sans-serif" font-size="15.8" text-anchor="middle" textLength="26.1" lengthAdjust="spacingAndGlyphs">0.6</text>
<text x="1216.7" y="2444" font-family="'Liberation Sans', Arial, sans-serif" font-size="15.8" text-anchor="middle" textLength="26.1" lengthAdjust="spacingAndGlyphs">0.7</text>
<text x="1404.6" y="2444" font-family="'Liberation Sans', Arial, sans-serif" font-size="15.8" text-anchor="middle" textLength="26.1" lengthAdjust="spacingAndGlyphs">0.8</text>
<text x="1592.5" y="2444" font-family="'Liberation Sans', Arial, sans-serif" font-size="15.8" text-anchor="middle" textLength="26.1" lengthAdjust="spacingAndGlyphs">0.9</text>
<text x="79.5" y="2426.2" font-family="'Liberation Sans', Arial, sans-serif" font-size="15.8" text-anchor="end" textLength="32.4" lengthAdjust="spacingAndGlyphs">-0.1</text>
<text x="79.5" y="2298" font-family="'Liberation Sans', Arial, sans-serif" font-size="15.8" text-anchor="end" textLength="10.5" lengthAdjust="spacingAndGlyphs">0</text>
<text x="79.5" y="2169.8" font-family="'Liberation Sans', Arial, sans-serif" font-size="15.8" text-anchor="end" textLength="26.1" lengthAdjust="spacingAndGlyphs">0.1</text>
<text x="79.5" y="2041.6" font-family="'Liberation Sans', Arial, sans-serif" font-size="15.8" text-anchor="end" textLength="26.1" lengthAdjust="spacingAndGlyphs">0.2</text>
<text x="79.5" y="1913.4" font-family="'Liberation Sans', Arial, sans-serif" font-size="15.8" text-anchor="end" textLength="26.1" lengthAdjust="spacingAndGlyphs">0.3</text>
<text x="79.5" y="1785.2" font-family="'Liberation Sans', Arial, sans-serif" font-size="15.8" text-anchor="end" textLength="26.1" lengthAdjust="spacingAndGlyphs">0.4</text>
<text x="79.5" y="1657" font-family="'Liberation Sans', Arial, sans-serif" font-size="15.8" text-anchor="end" textLength="26.1" lengthAdjust="spacingAndGlyphs">0.5</text>
<text x="0" y="23.5" font-family="'Liberation Sans', Arial, sans-serif" font-size="40" text-anchor="start" font-weight="bold">a</text>
<text x="1" y="841.5" font-family="'Liberation Sans', Arial, sans-serif" font-size="41" text-anchor="start" font-weight="bold">b</text>
<text x="0" y="1656.6" font-family="'Liberation Sans', Arial, sans-serif" font-size="42" text-anchor="start" font-weight="bold">c</text>
<text x="832.5" y="747" font-family="'Liberation Serif', 'Times New Roman', serif" font-size="32" text-anchor="middle" textLength="310" lengthAdjust="spacingAndGlyphs">x-direction(first input)</text>
<text x="845" y="1575" font-family="'Liberation Serif', 'Times New Roman', serif" font-size="33" text-anchor="middle" textLength="351" lengthAdjust="spacingAndGlyphs">y-direction(second input)</text>
<text x="840" y="2470" font-family="'Liberation Serif', 'Times New Roman', serif" font-size="27" text-anchor="middle" textLength="339" lengthAdjust="spacingAndGlyphs">z-direction (third input)</text>
<text transform="translate(47.5 340.5) rotate(-90)" font-family="'Liberation Serif', 'Times New Roman', serif" font-size="32" text-anchor="middle" textLength="391" lengthAdjust="spacingAndGlyphs">liquid phase velocity(output)</text>
<text transform="translate(45 1163) rotate(-90)" font-family="'Liberation Serif', 'Times New Roman', serif" font-size="33" text-anchor="middle" textLength="402" lengthAdjust="spacingAndGlyphs">liquid phase velocity(output)</text>
<text transform="translate(30 2036.5) rotate(-90)" font-family="'Liberation Serif', 'Times New Roman', serif" font-size="26" text-anchor="middle" textLength="327" lengthAdjust="spacingAndGlyphs">liquid phase velocity (output)</text>
<rect x="935.5" y="27.2" width="594.2" height="72.6" fill="#fff" stroke="#555" stroke-width="1.4"/>
<text x="997.5" y="54.6" font-family="'Liberation Serif', 'Times New Roman', serif" font-size="32" text-anchor="start" textLength="525.3" lengthAdjust="spacingAndGlyphs">PSOFIS prediction(liquid phase velocity )</text>
<text x="997.5" y="89.2" font-family="'Liberation Serif', 'Times New Roman', serif" font-size="32" text-anchor="start" textLength="438.5" lengthAdjust="spacingAndGlyphs">CFD results(liquid phase velocity )</text>
<circle cx="966.9" cy="45.6" r="1.6" fill="#0000e0"/>
<ellipse cx="966.9" cy="80.3" rx="6" ry="6" fill="none" stroke="#dd0000" stroke-width="1.2"/>
<rect x="948.6" y="842.4" width="605.7" height="73.8" fill="#fff" stroke="#555" stroke-width="1.4"/>
<text x="1012.8" y="869.4" font-family="'Liberation Serif', 'Times New Roman', serif" font-size="32.5" text-anchor="start" textLength="533.2" lengthAdjust="spacingAndGlyphs">PSOFIS prediction(liquid phase velocity )</text>
<text x="1012.8" y="904.6" font-family="'Liberation Serif', 'Times New Roman', serif" font-size="32.5" text-anchor="start" textLength="446.2" lengthAdjust="spacingAndGlyphs">CFD results(liquid phase velocity )</text>
<circle cx="981" cy="861" r="1.6" fill="#0000e0"/>
<ellipse cx="981" cy="895.5" rx="6" ry="6" fill="none" stroke="#dd0000" stroke-width="1.2"/>
<rect x="906.1" y="1663" width="670.9" height="65.7" fill="#fff" stroke="#555" stroke-width="1.4"/>
<text x="977.3" y="1688.3" font-family="'Liberation Serif', 'Times New Roman', serif" font-size="27" text-anchor="start" textLength="590.5" lengthAdjust="spacingAndGlyphs">PSOFIS prediction(liquid phase velocity )</text>
<text x="977.3" y="1718.1" font-family="'Liberation Serif', 'Times New Roman', serif" font-size="27" text-anchor="start" textLength="494" lengthAdjust="spacingAndGlyphs">CFD results(liquid phase velocity )</text>
<circle cx="942" cy="1680.4" r="1.6" fill="#0000e0"/>
<ellipse cx="942" cy="1711.2" rx="6.3" ry="4.8" fill="none" stroke="#dd0000" stroke-width="1.2"/>
</svg>
</body></html>
